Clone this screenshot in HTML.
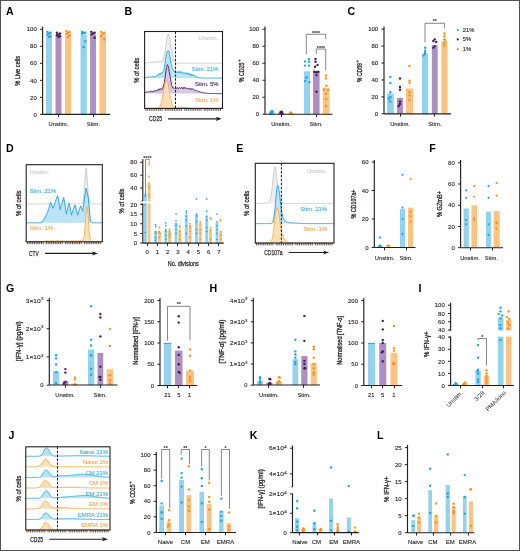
<!DOCTYPE html>
<html><head><meta charset="utf-8"><style>
html,body{margin:0;padding:0;background:#fff;width:520px;height:551px;overflow:hidden}
svg{display:block;will-change:transform}
text{font-family:"Liberation Sans",sans-serif}
</style></head><body>
<svg width="520" height="551" viewBox="0 0 520 551">
<rect x="0" y="0" width="520" height="551" fill="#fff"/>
<text x="6.1" y="15" font-size="10.6" font-weight="bold" fill="#000">A</text>
<text x="124.5" y="15" font-size="10.6" font-weight="bold" fill="#000">B</text>
<text x="347.5" y="15" font-size="10.6" font-weight="bold" fill="#000">C</text>
<text x="6.1" y="151.5" font-size="10.6" font-weight="bold" fill="#000">D</text>
<text x="236.2" y="151.5" font-size="10.6" font-weight="bold" fill="#000">E</text>
<text x="429.2" y="151.5" font-size="10.6" font-weight="bold" fill="#000">F</text>
<text x="6.1" y="292.3" font-size="10.6" font-weight="bold" fill="#000">G</text>
<text x="209.4" y="292.3" font-size="10.6" font-weight="bold" fill="#000">H</text>
<text x="418.6" y="292.3" font-size="10.6" font-weight="bold" fill="#000">I</text>
<text x="8.6" y="438.6" font-size="10.6" font-weight="bold" fill="#000">J</text>
<text x="249.8" y="438.6" font-size="10.6" font-weight="bold" fill="#000">K</text>
<text x="377" y="438.6" font-size="10.6" font-weight="bold" fill="#000">L</text>
<line x1="42.6" y1="26.6" x2="42.6" y2="114.4" stroke="#231f20" stroke-width="1.15" />
<line x1="40" y1="114.4" x2="42.6" y2="114.4" stroke="#231f20" stroke-width="1.0" />
<text x="36.8" y="116.55" font-size="6.0" text-anchor="end" fill="#231f20" font-weight="normal" stroke="#231f20" stroke-width="0.12" >0</text>
<line x1="40" y1="97.38" x2="42.6" y2="97.38" stroke="#231f20" stroke-width="1.0" />
<text x="36.8" y="99.53" font-size="6.0" text-anchor="end" fill="#231f20" font-weight="normal" stroke="#231f20" stroke-width="0.12" >20</text>
<line x1="40" y1="80.36" x2="42.6" y2="80.36" stroke="#231f20" stroke-width="1.0" />
<text x="36.8" y="82.51" font-size="6.0" text-anchor="end" fill="#231f20" font-weight="normal" stroke="#231f20" stroke-width="0.12" >40</text>
<line x1="40" y1="63.34" x2="42.6" y2="63.34" stroke="#231f20" stroke-width="1.0" />
<text x="36.8" y="65.49" font-size="6.0" text-anchor="end" fill="#231f20" font-weight="normal" stroke="#231f20" stroke-width="0.12" >60</text>
<line x1="40" y1="46.32" x2="42.6" y2="46.32" stroke="#231f20" stroke-width="1.0" />
<text x="36.8" y="48.47" font-size="6.0" text-anchor="end" fill="#231f20" font-weight="normal" stroke="#231f20" stroke-width="0.12" >80</text>
<line x1="40" y1="29.3" x2="42.6" y2="29.3" stroke="#231f20" stroke-width="1.0" />
<text x="36.8" y="31.45" font-size="6.0" text-anchor="end" fill="#231f20" font-weight="normal" stroke="#231f20" stroke-width="0.12" >100</text>
<rect x="46" y="34.41" width="6" height="79.99" fill="#93d3ee" />
<circle cx="47.4" cy="31.85" r="1.2" fill="#25a5dc"/>
<circle cx="50.6" cy="32.7" r="1.2" fill="#25a5dc"/>
<circle cx="49" cy="33.55" r="1.2" fill="#25a5dc"/>
<circle cx="47.4" cy="34.41" r="1.2" fill="#25a5dc"/>
<circle cx="50.6" cy="36.11" r="1.2" fill="#25a5dc"/>
<circle cx="49" cy="36.96" r="1.2" fill="#25a5dc"/>
<rect x="55.5" y="35.68" width="6" height="78.72" fill="#ad8fc1" />
<circle cx="56.9" cy="32.7" r="1.2" fill="#47195c"/>
<circle cx="60.1" cy="33.55" r="1.2" fill="#47195c"/>
<circle cx="58.5" cy="34.41" r="1.2" fill="#47195c"/>
<circle cx="56.9" cy="35.26" r="1.2" fill="#47195c"/>
<circle cx="60.1" cy="36.11" r="1.2" fill="#47195c"/>
<circle cx="58.5" cy="36.96" r="1.2" fill="#47195c"/>
<rect x="65" y="33.55" width="6" height="80.85" fill="#fcc383" />
<circle cx="66.4" cy="31" r="1.2" fill="#f6921e"/>
<circle cx="69.6" cy="31.85" r="1.2" fill="#f6921e"/>
<circle cx="68" cy="32.7" r="1.2" fill="#f6921e"/>
<circle cx="66.4" cy="33.55" r="1.2" fill="#f6921e"/>
<circle cx="69.6" cy="35.26" r="1.2" fill="#f6921e"/>
<circle cx="68" cy="36.96" r="1.2" fill="#f6921e"/>
<rect x="80.5" y="34.41" width="6.25" height="79.99" fill="#93d3ee" />
<circle cx="82.03" cy="31.85" r="1.2" fill="#25a5dc"/>
<circle cx="85.22" cy="32.7" r="1.2" fill="#25a5dc"/>
<circle cx="83.62" cy="32.7" r="1.2" fill="#25a5dc"/>
<circle cx="82.03" cy="33.55" r="1.2" fill="#25a5dc"/>
<circle cx="85.22" cy="41.21" r="1.2" fill="#25a5dc"/>
<circle cx="83.62" cy="47.17" r="1.2" fill="#25a5dc"/>
<rect x="90" y="34.41" width="6" height="79.99" fill="#ad8fc1" />
<circle cx="91.4" cy="31.85" r="1.2" fill="#47195c"/>
<circle cx="94.6" cy="32.7" r="1.2" fill="#47195c"/>
<circle cx="93" cy="33.55" r="1.2" fill="#47195c"/>
<circle cx="91.4" cy="34.41" r="1.2" fill="#47195c"/>
<circle cx="94.6" cy="37.81" r="1.2" fill="#47195c"/>
<rect x="99.5" y="33.55" width="6.5" height="80.85" fill="#fcc383" />
<circle cx="101.15" cy="31.85" r="1.2" fill="#f6921e"/>
<circle cx="104.35" cy="32.7" r="1.2" fill="#f6921e"/>
<circle cx="102.75" cy="33.55" r="1.2" fill="#f6921e"/>
<circle cx="101.15" cy="36.11" r="1.2" fill="#f6921e"/>
<circle cx="104.35" cy="39.51" r="1.2" fill="#f6921e"/>
<line x1="42.6" y1="114.4" x2="110" y2="114.4" stroke="#231f20" stroke-width="1.15" />
<line x1="58.5" y1="114.4" x2="58.5" y2="117.2" stroke="#231f20" stroke-width="1.0" />
<line x1="93.5" y1="114.4" x2="93.5" y2="117.2" stroke="#231f20" stroke-width="1.0" />
<text x="58.4" y="125.88" font-size="5.8" text-anchor="middle" fill="#231f20" font-weight="normal" stroke="#231f20" stroke-width="0.12" >Unstim.</text>
<text x="93.4" y="125.88" font-size="5.8" text-anchor="middle" fill="#231f20" font-weight="normal" stroke="#231f20" stroke-width="0.12" >Stim.</text>
<text x="17.7" y="73.45" font-size="7.4" text-anchor="middle" fill="#231f20" font-weight="normal" stroke="#231f20" stroke-width="0.3" transform="rotate(-90 17.7 70.8)" textLength="30" lengthAdjust="spacingAndGlyphs" >% Live cells</text>
<line x1="384" y1="26.6" x2="384" y2="113.8" stroke="#231f20" stroke-width="1.15" />
<line x1="381.4" y1="113.8" x2="384" y2="113.8" stroke="#231f20" stroke-width="1.0" />
<text x="378.2" y="115.95" font-size="6.0" text-anchor="end" fill="#231f20" font-weight="normal" stroke="#231f20" stroke-width="0.12" >0</text>
<line x1="381.4" y1="96.88" x2="384" y2="96.88" stroke="#231f20" stroke-width="1.0" />
<text x="378.2" y="99.03" font-size="6.0" text-anchor="end" fill="#231f20" font-weight="normal" stroke="#231f20" stroke-width="0.12" >20</text>
<line x1="381.4" y1="79.96" x2="384" y2="79.96" stroke="#231f20" stroke-width="1.0" />
<text x="378.2" y="82.11" font-size="6.0" text-anchor="end" fill="#231f20" font-weight="normal" stroke="#231f20" stroke-width="0.12" >40</text>
<line x1="381.4" y1="63.04" x2="384" y2="63.04" stroke="#231f20" stroke-width="1.0" />
<text x="378.2" y="65.19" font-size="6.0" text-anchor="end" fill="#231f20" font-weight="normal" stroke="#231f20" stroke-width="0.12" >60</text>
<line x1="381.4" y1="46.12" x2="384" y2="46.12" stroke="#231f20" stroke-width="1.0" />
<text x="378.2" y="48.27" font-size="6.0" text-anchor="end" fill="#231f20" font-weight="normal" stroke="#231f20" stroke-width="0.12" >80</text>
<line x1="381.4" y1="29.2" x2="384" y2="29.2" stroke="#231f20" stroke-width="1.0" />
<text x="378.2" y="31.35" font-size="6.0" text-anchor="end" fill="#231f20" font-weight="normal" stroke="#231f20" stroke-width="0.12" >100</text>
<rect x="387" y="93.5" width="6.8" height="20.3" fill="#93d3ee" />
<circle cx="390.4" cy="76.91" r="1.2" fill="#25a5dc"/>
<circle cx="390.4" cy="83.01" r="1.2" fill="#25a5dc"/>
<circle cx="390.4" cy="92.31" r="1.2" fill="#25a5dc"/>
<circle cx="390.4" cy="96.96" r="1.2" fill="#25a5dc"/>
<circle cx="389" cy="98.57" r="1.2" fill="#25a5dc"/>
<circle cx="390.4" cy="101.53" r="1.2" fill="#25a5dc"/>
<rect x="397" y="97.73" width="6" height="16.07" fill="#ad8fc1" />
<circle cx="400" cy="78.52" r="1.2" fill="#47195c"/>
<circle cx="400" cy="86.98" r="1.2" fill="#47195c"/>
<circle cx="400" cy="89.77" r="1.2" fill="#47195c"/>
<circle cx="400" cy="101.53" r="1.2" fill="#47195c"/>
<circle cx="400" cy="103.99" r="1.2" fill="#47195c"/>
<circle cx="398.6" cy="106.02" r="1.2" fill="#47195c"/>
<rect x="406" y="88.42" width="7" height="25.38" fill="#fcc383" />
<circle cx="409.5" cy="66" r="1.2" fill="#f6921e"/>
<circle cx="409.5" cy="80.64" r="1.2" fill="#f6921e"/>
<circle cx="409.5" cy="83.01" r="1.2" fill="#f6921e"/>
<circle cx="409.5" cy="92.31" r="1.2" fill="#f6921e"/>
<circle cx="409.5" cy="95.44" r="1.2" fill="#f6921e"/>
<circle cx="409.5" cy="100.01" r="1.2" fill="#f6921e"/>
<rect x="422" y="53.73" width="6.2" height="60.07" fill="#93d3ee" />
<circle cx="425.1" cy="47.81" r="1.2" fill="#25a5dc"/>
<circle cx="425.1" cy="50.77" r="1.2" fill="#25a5dc"/>
<circle cx="425.1" cy="52.89" r="1.2" fill="#25a5dc"/>
<circle cx="425.1" cy="53.73" r="1.2" fill="#25a5dc"/>
<circle cx="423.7" cy="55.43" r="1.2" fill="#25a5dc"/>
<rect x="431.8" y="45.27" width="5.9" height="68.53" fill="#ad8fc1" />
<circle cx="434.75" cy="39.35" r="1.2" fill="#47195c"/>
<circle cx="433.35" cy="41.04" r="1.2" fill="#47195c"/>
<circle cx="436.15" cy="41.89" r="1.2" fill="#47195c"/>
<circle cx="434.75" cy="46.12" r="1.2" fill="#47195c"/>
<circle cx="433.35" cy="47.81" r="1.2" fill="#47195c"/>
<rect x="441.3" y="41.04" width="6.1" height="72.76" fill="#fcc383" />
<circle cx="444.35" cy="33.43" r="1.2" fill="#f6921e"/>
<circle cx="444.35" cy="36.31" r="1.2" fill="#f6921e"/>
<circle cx="444.35" cy="39.35" r="1.2" fill="#f6921e"/>
<circle cx="445.19" cy="40.03" r="1.2" fill="#f6921e"/>
<circle cx="444.35" cy="42.99" r="1.2" fill="#f6921e"/>
<circle cx="444.35" cy="45.53" r="1.2" fill="#f6921e"/>
<line x1="384" y1="113.8" x2="451" y2="113.8" stroke="#231f20" stroke-width="1.15" />
<line x1="400.5" y1="113.8" x2="400.5" y2="116.6" stroke="#231f20" stroke-width="1.0" />
<line x1="434.5" y1="113.8" x2="434.5" y2="116.6" stroke="#231f20" stroke-width="1.0" />
<text x="400" y="125.88" font-size="5.8" text-anchor="middle" fill="#231f20" font-weight="normal" stroke="#231f20" stroke-width="0.12" >Unstim.</text>
<text x="434.8" y="125.88" font-size="5.8" text-anchor="middle" fill="#231f20" font-weight="normal" stroke="#231f20" stroke-width="0.12" >Stim.</text>
<polyline points="425,42.4 425,23.3 444.5,23.3 444.5,27.9" stroke="#555" stroke-width="0.7" fill="none" />
<text x="434.75" y="23.05" font-size="5.4" text-anchor="middle" font-weight="bold" fill="#231f20">**</text>
<circle cx="457.8" cy="29.8" r="1.1" fill="#25a5dc"/>
<text x="462.8" y="31.88" font-size="5.8" text-anchor="start" fill="#231f20" font-weight="normal" stroke="#231f20" stroke-width="0.12" >21%</text>
<circle cx="457.8" cy="39.4" r="1.1" fill="#47195c"/>
<text x="462.8" y="41.48" font-size="5.8" text-anchor="start" fill="#231f20" font-weight="normal" stroke="#231f20" stroke-width="0.12" >5%</text>
<circle cx="457.8" cy="49.2" r="1.1" fill="#f6921e"/>
<text x="462.8" y="51.28" font-size="5.8" text-anchor="start" fill="#231f20" font-weight="normal" stroke="#231f20" stroke-width="0.12" >1%</text>
<text x="359.6" y="75.35" font-size="7.4" text-anchor="middle" fill="#231f20" font-weight="normal" stroke="#231f20" stroke-width="0.3" transform="rotate(-90 359.6 72.7)" textLength="19.3" lengthAdjust="spacingAndGlyphs" >% CD69</text>
<text x="357.4" y="62.8" font-size="4.6" text-anchor="middle" fill="#231f20" font-weight="normal" stroke="#231f20" stroke-width="0.2" transform="rotate(-90 357.4 61.15)" >+</text>
<line x1="265" y1="26.6" x2="265" y2="114.25" stroke="#231f20" stroke-width="1.15" />
<line x1="262.4" y1="114.25" x2="265" y2="114.25" stroke="#231f20" stroke-width="1.0" />
<text x="259.2" y="116.4" font-size="6.0" text-anchor="end" fill="#231f20" font-weight="normal" stroke="#231f20" stroke-width="0.12" >0</text>
<line x1="262.4" y1="97.25" x2="265" y2="97.25" stroke="#231f20" stroke-width="1.0" />
<text x="259.2" y="99.4" font-size="6.0" text-anchor="end" fill="#231f20" font-weight="normal" stroke="#231f20" stroke-width="0.12" >20</text>
<line x1="262.4" y1="80.25" x2="265" y2="80.25" stroke="#231f20" stroke-width="1.0" />
<text x="259.2" y="82.4" font-size="6.0" text-anchor="end" fill="#231f20" font-weight="normal" stroke="#231f20" stroke-width="0.12" >40</text>
<line x1="262.4" y1="63.25" x2="265" y2="63.25" stroke="#231f20" stroke-width="1.0" />
<text x="259.2" y="65.4" font-size="6.0" text-anchor="end" fill="#231f20" font-weight="normal" stroke="#231f20" stroke-width="0.12" >60</text>
<line x1="262.4" y1="46.25" x2="265" y2="46.25" stroke="#231f20" stroke-width="1.0" />
<text x="259.2" y="48.4" font-size="6.0" text-anchor="end" fill="#231f20" font-weight="normal" stroke="#231f20" stroke-width="0.12" >80</text>
<line x1="262.4" y1="29.25" x2="265" y2="29.25" stroke="#231f20" stroke-width="1.0" />
<text x="259.2" y="31.4" font-size="6.0" text-anchor="end" fill="#231f20" font-weight="normal" stroke="#231f20" stroke-width="0.12" >100</text>
<rect x="268.75" y="112.55" width="6.25" height="1.7" fill="#93d3ee" />
<circle cx="271.88" cy="110.85" r="1.2" fill="#25a5dc"/>
<circle cx="272.71" cy="111.7" r="1.2" fill="#25a5dc"/>
<circle cx="270.48" cy="112.55" r="1.2" fill="#25a5dc"/>
<circle cx="271.88" cy="112.97" r="1.2" fill="#25a5dc"/>
<circle cx="271.04" cy="113.4" r="1.2" fill="#25a5dc"/>
<rect x="278" y="112.97" width="6.5" height="1.28" fill="#ad8fc1" />
<circle cx="281.25" cy="111.7" r="1.2" fill="#47195c"/>
<circle cx="282.09" cy="112.12" r="1.2" fill="#47195c"/>
<circle cx="280.41" cy="112.55" r="1.2" fill="#47195c"/>
<circle cx="282.09" cy="113.4" r="1.2" fill="#47195c"/>
<circle cx="282.09" cy="113.4" r="1.2" fill="#47195c"/>
<rect x="287.5" y="113.4" width="6.25" height="0.85" fill="#fcc383" />
<circle cx="290.62" cy="112.55" r="1.2" fill="#f6921e"/>
<circle cx="290.62" cy="112.97" r="1.2" fill="#f6921e"/>
<circle cx="291.46" cy="113.4" r="1.2" fill="#f6921e"/>
<circle cx="290.62" cy="113.83" r="1.2" fill="#f6921e"/>
<rect x="304" y="71.3" width="6" height="42.95" fill="#93d3ee" />
<rect x="313" y="71.3" width="6.6" height="42.95" fill="#ad8fc1" />
<rect x="322.9" y="87.7" width="6.5" height="26.55" fill="#fcc383" />
<circle cx="308.8" cy="59" r="1.2" fill="#25a5dc"/>
<circle cx="305" cy="61.4" r="1.2" fill="#25a5dc"/>
<circle cx="309" cy="61.6" r="1.2" fill="#25a5dc"/>
<circle cx="305" cy="65.6" r="1.2" fill="#25a5dc"/>
<circle cx="309" cy="65.6" r="1.2" fill="#25a5dc"/>
<circle cx="306.5" cy="77.5" r="1.2" fill="#25a5dc"/>
<circle cx="305" cy="80.9" r="1.2" fill="#25a5dc"/>
<circle cx="309.5" cy="82.1" r="1.2" fill="#25a5dc"/>
<circle cx="315.5" cy="59" r="1.2" fill="#47195c"/>
<circle cx="315.5" cy="61.7" r="1.2" fill="#47195c"/>
<circle cx="317.5" cy="65" r="1.2" fill="#47195c"/>
<circle cx="315" cy="66.8" r="1.2" fill="#47195c"/>
<circle cx="314.3" cy="71.8" r="1.2" fill="#47195c"/>
<circle cx="316.3" cy="72.2" r="1.2" fill="#47195c"/>
<circle cx="318.3" cy="71.8" r="1.2" fill="#47195c"/>
<circle cx="316.5" cy="75.1" r="1.2" fill="#47195c"/>
<circle cx="316.5" cy="91.7" r="1.2" fill="#47195c"/>
<circle cx="326" cy="75.4" r="1.2" fill="#f6921e"/>
<circle cx="326" cy="78.5" r="1.2" fill="#f6921e"/>
<circle cx="326.5" cy="85.7" r="1.2" fill="#f6921e"/>
<circle cx="323.8" cy="89.5" r="1.2" fill="#f6921e"/>
<circle cx="328" cy="90.1" r="1.2" fill="#f6921e"/>
<circle cx="326" cy="93.7" r="1.2" fill="#f6921e"/>
<circle cx="326" cy="98.9" r="1.2" fill="#f6921e"/>
<circle cx="326" cy="106" r="1.2" fill="#f6921e"/>
<line x1="265" y1="114.25" x2="332.5" y2="114.25" stroke="#231f20" stroke-width="1.15" />
<line x1="281.5" y1="114.25" x2="281.5" y2="117.05" stroke="#231f20" stroke-width="1.0" />
<line x1="316.5" y1="114.25" x2="316.5" y2="117.05" stroke="#231f20" stroke-width="1.0" />
<text x="281" y="125.88" font-size="5.8" text-anchor="middle" fill="#231f20" font-weight="normal" stroke="#231f20" stroke-width="0.12" >Unstim.</text>
<text x="316" y="125.88" font-size="5.8" text-anchor="middle" fill="#231f20" font-weight="normal" stroke="#231f20" stroke-width="0.12" >Stim.</text>
<polyline points="306.3,54 306.3,34.3 325.7,34.3 325.7,39.1" stroke="#555" stroke-width="0.7" fill="none" />
<text x="316" y="34.95" font-size="5.4" text-anchor="middle" font-weight="bold" fill="#231f20">****</text>
<polyline points="316.3,54 316.3,49 325.7,49 325.7,70.4" stroke="#555" stroke-width="0.7" fill="none" />
<text x="321" y="49.55" font-size="5.4" text-anchor="middle" font-weight="bold" fill="#231f20">****</text>
<text x="241.6" y="75.05" font-size="7.4" text-anchor="middle" fill="#231f20" font-weight="normal" stroke="#231f20" stroke-width="0.3" transform="rotate(-90 241.6 72.4)" textLength="19.8" lengthAdjust="spacingAndGlyphs" >% CD25</text>
<text x="239.4" y="62.25" font-size="4.6" text-anchor="middle" fill="#231f20" font-weight="normal" stroke="#231f20" stroke-width="0.2" transform="rotate(-90 239.4 60.6)" >+</text>
<rect x="144.6" y="31.5" width="77.9" height="76.9" fill="#fff" />
<path d="M144.6,63.2 L144.6,62.95 L145.2,62.88 L145.8,62.84 L146.4,62.77 L147,62.74 L147.6,62.62 L148.2,62.57 L148.79,62.51 L149.39,62.46 L149.99,62.34 L150.59,62.36 L151.19,62.31 L151.79,62.11 L152.39,62.12 L152.99,62.11 L153.59,61.87 L154.19,61.91 L154.79,61.64 L155.39,61.78 L155.99,61.52 L156.58,61.45 L157.18,61.58 L157.78,61.48 L158.38,61.42 L158.98,61.61 L159.58,61.57 L160.18,61.72 L160.78,61.66 L161.38,61.6 L161.98,61.17 L162.58,60.83 L163.18,59.61 L163.78,57.98 L164.37,55.17 L164.97,51.91 L165.57,47.69 L166.17,43.35 L166.77,39.28 L167.37,36.32 L167.97,34.33 L168.57,34.36 L169.17,35.71 L169.77,38.29 L170.37,41.76 L170.97,45.52 L171.57,49.08 L172.16,53.06 L172.76,55.94 L173.36,58.17 L173.96,59.9 L174.56,61.17 L175.16,62.09 L175.76,62.56 L176.36,62.86 L176.96,63.03 L177.56,63.12 L178.16,63.16 L178.76,63.18 L179.36,63.19 L179.95,63.2 L180.55,63.2 L181.15,63.2 L181.75,63.2 L182.35,63.2 L182.95,63.2 L183.55,63.2 L184.15,63.2 L184.75,63.2 L185.35,63.2 L185.95,63.2 L186.55,63.2 L187.15,63.2 L187.74,63.2 L188.34,63.2 L188.94,63.2 L189.54,63.2 L190.14,63.2 L190.74,63.2 L191.34,63.2 L191.94,63.2 L192.54,63.2 L193.14,63.2 L193.74,63.2 L194.34,63.2 L194.94,63.2 L195.53,63.2 L196.13,63.2 L196.73,63.2 L197.33,63.2 L197.93,63.2 L198.53,63.2 L199.13,63.2 L199.73,63.2 L200.33,63.2 L200.93,63.2 L201.53,63.2 L202.13,63.2 L202.73,63.2 L203.32,63.2 L203.92,63.2 L204.52,63.2 L205.12,63.2 L205.72,63.2 L206.32,63.2 L206.92,63.2 L207.52,63.2 L208.12,63.2 L208.72,63.2 L209.32,63.2 L209.92,63.2 L210.52,63.2 L211.11,63.2 L211.71,63.2 L212.31,63.2 L212.91,63.2 L213.51,63.2 L214.11,63.2 L214.71,63.2 L215.31,63.2 L215.91,63.2 L216.51,63.2 L217.11,63.2 L217.71,63.2 L218.31,63.2 L218.9,63.2 L219.5,63.2 L220.1,63.2 L220.7,63.2 L221.3,63.2 L221.9,63.2 L222.5,63.2 L222.5,63.2 Z" fill="#eeeeee" fill-opacity="1" stroke="none"/>
<path d="M144.6,62.95 L145.2,62.88 L145.8,62.84 L146.4,62.77 L147,62.74 L147.6,62.62 L148.2,62.57 L148.79,62.51 L149.39,62.46 L149.99,62.34 L150.59,62.36 L151.19,62.31 L151.79,62.11 L152.39,62.12 L152.99,62.11 L153.59,61.87 L154.19,61.91 L154.79,61.64 L155.39,61.78 L155.99,61.52 L156.58,61.45 L157.18,61.58 L157.78,61.48 L158.38,61.42 L158.98,61.61 L159.58,61.57 L160.18,61.72 L160.78,61.66 L161.38,61.6 L161.98,61.17 L162.58,60.83 L163.18,59.61 L163.78,57.98 L164.37,55.17 L164.97,51.91 L165.57,47.69 L166.17,43.35 L166.77,39.28 L167.37,36.32 L167.97,34.33 L168.57,34.36 L169.17,35.71 L169.77,38.29 L170.37,41.76 L170.97,45.52 L171.57,49.08 L172.16,53.06 L172.76,55.94 L173.36,58.17 L173.96,59.9 L174.56,61.17 L175.16,62.09 L175.76,62.56 L176.36,62.86 L176.96,63.03 L177.56,63.12 L178.16,63.16 L178.76,63.18 L179.36,63.19 L179.95,63.2 L180.55,63.2 L181.15,63.2 L181.75,63.2 L182.35,63.2 L182.95,63.2 L183.55,63.2 L184.15,63.2 L184.75,63.2 L185.35,63.2 L185.95,63.2 L186.55,63.2 L187.15,63.2 L187.74,63.2 L188.34,63.2 L188.94,63.2 L189.54,63.2 L190.14,63.2 L190.74,63.2 L191.34,63.2 L191.94,63.2 L192.54,63.2 L193.14,63.2 L193.74,63.2 L194.34,63.2 L194.94,63.2 L195.53,63.2 L196.13,63.2 L196.73,63.2 L197.33,63.2 L197.93,63.2 L198.53,63.2 L199.13,63.2 L199.73,63.2 L200.33,63.2 L200.93,63.2 L201.53,63.2 L202.13,63.2 L202.73,63.2 L203.32,63.2 L203.92,63.2 L204.52,63.2 L205.12,63.2 L205.72,63.2 L206.32,63.2 L206.92,63.2 L207.52,63.2 L208.12,63.2 L208.72,63.2 L209.32,63.2 L209.92,63.2 L210.52,63.2 L211.11,63.2 L211.71,63.2 L212.31,63.2 L212.91,63.2 L213.51,63.2 L214.11,63.2 L214.71,63.2 L215.31,63.2 L215.91,63.2 L216.51,63.2 L217.11,63.2 L217.71,63.2 L218.31,63.2 L218.9,63.2 L219.5,63.2 L220.1,63.2 L220.7,63.2 L221.3,63.2 L221.9,63.2 L222.5,63.2" fill="none" stroke="#c4c4c4" stroke-width="0.8" stroke-linejoin="round"/>
<path d="M144.6,78.1 L144.6,77.79 L145.05,77.6 L145.5,77.54 L145.94,77.35 L146.39,77.55 L146.84,77.55 L147.29,77.34 L147.73,77.19 L148.18,77.21 L148.63,77.23 L149.08,77.35 L149.52,76.77 L149.97,77.3 L150.42,76.99 L150.87,76.97 L151.32,77.16 L151.76,76.77 L152.21,76.63 L152.66,76.9 L153.11,76.71 L153.55,76.71 L154,76.36 L154.45,76.84 L154.9,76.81 L155.34,76.91 L155.79,76.84 L156.24,76.6 L156.69,75.88 L157.14,75.03 L157.58,74.66 L158.03,75.5 L158.48,75.26 L158.93,74.21 L159.37,73.41 L159.82,74.33 L160.27,74.08 L160.72,74.3 L161.16,72.82 L161.61,73.5 L162.06,72.34 L162.51,72.79 L162.96,71.27 L163.4,70.62 L163.85,70.27 L164.3,66.86 L164.75,64.84 L165.19,63.12 L165.64,59.54 L166.09,56.44 L166.54,53.36 L166.99,52.1 L167.43,51.06 L167.88,50.54 L168.33,50.88 L168.78,51.18 L169.22,52.54 L169.67,55.91 L170.12,58.22 L170.57,60.32 L171.01,63.53 L171.46,64.8 L171.91,67.21 L172.36,68.7 L172.81,68.87 L173.25,70.3 L173.7,71.51 L174.15,71.53 L174.6,71.6 L175.04,71.08 L175.49,72.83 L175.94,72.22 L176.39,71.76 L176.83,72.35 L177.28,71.8 L177.73,72.58 L178.18,72.58 L178.63,71.58 L179.07,71.48 L179.52,72.58 L179.97,71.7 L180.42,73 L180.86,71.81 L181.31,71.61 L181.76,72.22 L182.21,73.31 L182.65,72.73 L183.1,72.55 L183.55,73.33 L184,73.31 L184.45,72.77 L184.89,72.9 L185.34,73.97 L185.79,73.15 L186.24,72.6 L186.68,73.17 L187.13,74.07 L187.58,73.1 L188.03,72.92 L188.47,74.61 L188.92,73.53 L189.37,74.59 L189.82,74.09 L190.27,74.76 L190.71,73.98 L191.16,75.5 L191.61,74 L192.06,75.34 L192.5,74.6 L192.95,75.25 L193.4,75.01 L193.85,75.98 L194.29,75.53 L194.74,76.63 L195.19,76.2 L195.64,76.42 L196.09,76.74 L196.53,76.82 L196.98,76.75 L197.43,77.14 L197.88,77.18 L198.32,77.46 L198.77,77.45 L199.22,77.72 L199.67,77.68 L200.11,77.79 L200.56,77.79 L201.01,77.84 L201.46,77.89 L201.91,77.93 L202.35,77.96 L202.8,77.99 L203.25,78.01 L203.7,78.03 L204.14,78.05 L204.59,78.06 L205.04,78.07 L205.49,78.07 L205.94,78.08 L206.38,78.09 L206.83,78.09 L207.28,78.09 L207.73,78.09 L208.17,78.1 L208.62,78.1 L209.07,78.1 L209.52,78.1 L209.96,78.1 L210.41,78.1 L210.86,78.1 L211.31,78.1 L211.76,78.1 L212.2,78.1 L212.65,78.1 L213.1,78.1 L213.55,78.1 L213.99,78.1 L214.44,78.1 L214.89,78.1 L215.34,78.1 L215.78,78.1 L216.23,78.1 L216.68,78.1 L217.13,78.1 L217.58,78.1 L218.02,78.1 L218.47,78.1 L218.92,78.1 L219.37,78.1 L219.81,78.1 L220.26,78.1 L220.71,78.1 L221.16,78.1 L221.6,78.1 L222.05,78.1 L222.5,78.1 L222.5,78.1 Z" fill="#bde4f6" fill-opacity="1" stroke="none"/>
<path d="M144.6,77.79 L145.05,77.6 L145.5,77.54 L145.94,77.35 L146.39,77.55 L146.84,77.55 L147.29,77.34 L147.73,77.19 L148.18,77.21 L148.63,77.23 L149.08,77.35 L149.52,76.77 L149.97,77.3 L150.42,76.99 L150.87,76.97 L151.32,77.16 L151.76,76.77 L152.21,76.63 L152.66,76.9 L153.11,76.71 L153.55,76.71 L154,76.36 L154.45,76.84 L154.9,76.81 L155.34,76.91 L155.79,76.84 L156.24,76.6 L156.69,75.88 L157.14,75.03 L157.58,74.66 L158.03,75.5 L158.48,75.26 L158.93,74.21 L159.37,73.41 L159.82,74.33 L160.27,74.08 L160.72,74.3 L161.16,72.82 L161.61,73.5 L162.06,72.34 L162.51,72.79 L162.96,71.27 L163.4,70.62 L163.85,70.27 L164.3,66.86 L164.75,64.84 L165.19,63.12 L165.64,59.54 L166.09,56.44 L166.54,53.36 L166.99,52.1 L167.43,51.06 L167.88,50.54 L168.33,50.88 L168.78,51.18 L169.22,52.54 L169.67,55.91 L170.12,58.22 L170.57,60.32 L171.01,63.53 L171.46,64.8 L171.91,67.21 L172.36,68.7 L172.81,68.87 L173.25,70.3 L173.7,71.51 L174.15,71.53 L174.6,71.6 L175.04,71.08 L175.49,72.83 L175.94,72.22 L176.39,71.76 L176.83,72.35 L177.28,71.8 L177.73,72.58 L178.18,72.58 L178.63,71.58 L179.07,71.48 L179.52,72.58 L179.97,71.7 L180.42,73 L180.86,71.81 L181.31,71.61 L181.76,72.22 L182.21,73.31 L182.65,72.73 L183.1,72.55 L183.55,73.33 L184,73.31 L184.45,72.77 L184.89,72.9 L185.34,73.97 L185.79,73.15 L186.24,72.6 L186.68,73.17 L187.13,74.07 L187.58,73.1 L188.03,72.92 L188.47,74.61 L188.92,73.53 L189.37,74.59 L189.82,74.09 L190.27,74.76 L190.71,73.98 L191.16,75.5 L191.61,74 L192.06,75.34 L192.5,74.6 L192.95,75.25 L193.4,75.01 L193.85,75.98 L194.29,75.53 L194.74,76.63 L195.19,76.2 L195.64,76.42 L196.09,76.74 L196.53,76.82 L196.98,76.75 L197.43,77.14 L197.88,77.18 L198.32,77.46 L198.77,77.45 L199.22,77.72 L199.67,77.68 L200.11,77.79 L200.56,77.79 L201.01,77.84 L201.46,77.89 L201.91,77.93 L202.35,77.96 L202.8,77.99 L203.25,78.01 L203.7,78.03 L204.14,78.05 L204.59,78.06 L205.04,78.07 L205.49,78.07 L205.94,78.08 L206.38,78.09 L206.83,78.09 L207.28,78.09 L207.73,78.09 L208.17,78.1 L208.62,78.1 L209.07,78.1 L209.52,78.1 L209.96,78.1 L210.41,78.1 L210.86,78.1 L211.31,78.1 L211.76,78.1 L212.2,78.1 L212.65,78.1 L213.1,78.1 L213.55,78.1 L213.99,78.1 L214.44,78.1 L214.89,78.1 L215.34,78.1 L215.78,78.1 L216.23,78.1 L216.68,78.1 L217.13,78.1 L217.58,78.1 L218.02,78.1 L218.47,78.1 L218.92,78.1 L219.37,78.1 L219.81,78.1 L220.26,78.1 L220.71,78.1 L221.16,78.1 L221.6,78.1 L222.05,78.1 L222.5,78.1" fill="none" stroke="#2aa5de" stroke-width="0.95" stroke-linejoin="round"/>
<path d="M144.6,93.6 L144.6,92.42 L145.05,92.43 L145.5,92.4 L145.94,92.29 L146.39,91.94 L146.84,92.02 L147.29,92.42 L147.73,92.06 L148.18,91.76 L148.63,91.7 L149.08,91.46 L149.52,91.75 L149.97,91.4 L150.42,91.37 L150.87,91.32 L151.32,91.16 L151.76,91.92 L152.21,91.75 L152.66,91.91 L153.11,91.05 L153.55,91.26 L154,91.51 L154.45,90.6 L154.9,91 L155.34,91.36 L155.79,90.61 L156.24,90.94 L156.69,90.21 L157.14,90.4 L157.58,90.53 L158.03,89.64 L158.48,90.17 L158.93,88.85 L159.37,89.88 L159.82,89.81 L160.27,88.59 L160.72,89.16 L161.16,88.72 L161.61,89.65 L162.06,89.16 L162.51,88.82 L162.96,86.96 L163.4,86.84 L163.85,84.98 L164.3,82.71 L164.75,79.13 L165.19,77.11 L165.64,72.76 L166.09,70.28 L166.54,67.55 L166.99,65.97 L167.43,64.68 L167.88,65.66 L168.33,66.31 L168.78,68.38 L169.22,71.54 L169.67,73.97 L170.12,76.14 L170.57,78.81 L171.01,81.34 L171.46,84.38 L171.91,85.96 L172.36,86.54 L172.81,87.99 L173.25,87.57 L173.7,88.17 L174.15,88.37 L174.6,88.89 L175.04,89 L175.49,88.52 L175.94,88.46 L176.39,88.51 L176.83,88.5 L177.28,87.42 L177.73,88.15 L178.18,88.52 L178.63,88.66 L179.07,87.62 L179.52,87.49 L179.97,87.79 L180.42,88.51 L180.86,87.92 L181.31,87.66 L181.76,87.82 L182.21,87.69 L182.65,88.54 L183.1,87.38 L183.55,88.57 L184,87.8 L184.45,87.65 L184.89,88.31 L185.34,87.46 L185.79,88.25 L186.24,88.86 L186.68,88.63 L187.13,88.62 L187.58,88.23 L188.03,88 L188.47,88.88 L188.92,89.09 L189.37,89.31 L189.82,88.98 L190.27,88.17 L190.71,88.85 L191.16,88.52 L191.61,89.68 L192.06,89 L192.5,88.77 L192.95,89.19 L193.4,89.16 L193.85,89.75 L194.29,90.11 L194.74,90.63 L195.19,90.49 L195.64,90.35 L196.09,90.11 L196.53,90.41 L196.98,90.9 L197.43,91.34 L197.88,91.3 L198.32,91.3 L198.77,91.42 L199.22,91.49 L199.67,91.88 L200.11,91.66 L200.56,92.17 L201.01,91.95 L201.46,92.59 L201.91,92.63 L202.35,92.54 L202.8,92.54 L203.25,92.82 L203.7,92.89 L204.14,93.04 L204.59,92.83 L205.04,93.03 L205.49,93.11 L205.94,93.22 L206.38,93.22 L206.83,93.33 L207.28,93.32 L207.73,93.35 L208.17,93.39 L208.62,93.42 L209.07,93.44 L209.52,93.47 L209.96,93.49 L210.41,93.5 L210.86,93.52 L211.31,93.53 L211.76,93.54 L212.2,93.55 L212.65,93.56 L213.1,93.57 L213.55,93.57 L213.99,93.58 L214.44,93.58 L214.89,93.59 L215.34,93.59 L215.78,93.59 L216.23,93.59 L216.68,93.59 L217.13,93.6 L217.58,93.6 L218.02,93.6 L218.47,93.6 L218.92,93.6 L219.37,93.6 L219.81,93.6 L220.26,93.6 L220.71,93.6 L221.16,93.6 L221.6,93.6 L222.05,93.6 L222.5,93.6 L222.5,93.6 Z" fill="#d6c8e2" fill-opacity="1" stroke="none"/>
<path d="M144.6,92.42 L145.05,92.43 L145.5,92.4 L145.94,92.29 L146.39,91.94 L146.84,92.02 L147.29,92.42 L147.73,92.06 L148.18,91.76 L148.63,91.7 L149.08,91.46 L149.52,91.75 L149.97,91.4 L150.42,91.37 L150.87,91.32 L151.32,91.16 L151.76,91.92 L152.21,91.75 L152.66,91.91 L153.11,91.05 L153.55,91.26 L154,91.51 L154.45,90.6 L154.9,91 L155.34,91.36 L155.79,90.61 L156.24,90.94 L156.69,90.21 L157.14,90.4 L157.58,90.53 L158.03,89.64 L158.48,90.17 L158.93,88.85 L159.37,89.88 L159.82,89.81 L160.27,88.59 L160.72,89.16 L161.16,88.72 L161.61,89.65 L162.06,89.16 L162.51,88.82 L162.96,86.96 L163.4,86.84 L163.85,84.98 L164.3,82.71 L164.75,79.13 L165.19,77.11 L165.64,72.76 L166.09,70.28 L166.54,67.55 L166.99,65.97 L167.43,64.68 L167.88,65.66 L168.33,66.31 L168.78,68.38 L169.22,71.54 L169.67,73.97 L170.12,76.14 L170.57,78.81 L171.01,81.34 L171.46,84.38 L171.91,85.96 L172.36,86.54 L172.81,87.99 L173.25,87.57 L173.7,88.17 L174.15,88.37 L174.6,88.89 L175.04,89 L175.49,88.52 L175.94,88.46 L176.39,88.51 L176.83,88.5 L177.28,87.42 L177.73,88.15 L178.18,88.52 L178.63,88.66 L179.07,87.62 L179.52,87.49 L179.97,87.79 L180.42,88.51 L180.86,87.92 L181.31,87.66 L181.76,87.82 L182.21,87.69 L182.65,88.54 L183.1,87.38 L183.55,88.57 L184,87.8 L184.45,87.65 L184.89,88.31 L185.34,87.46 L185.79,88.25 L186.24,88.86 L186.68,88.63 L187.13,88.62 L187.58,88.23 L188.03,88 L188.47,88.88 L188.92,89.09 L189.37,89.31 L189.82,88.98 L190.27,88.17 L190.71,88.85 L191.16,88.52 L191.61,89.68 L192.06,89 L192.5,88.77 L192.95,89.19 L193.4,89.16 L193.85,89.75 L194.29,90.11 L194.74,90.63 L195.19,90.49 L195.64,90.35 L196.09,90.11 L196.53,90.41 L196.98,90.9 L197.43,91.34 L197.88,91.3 L198.32,91.3 L198.77,91.42 L199.22,91.49 L199.67,91.88 L200.11,91.66 L200.56,92.17 L201.01,91.95 L201.46,92.59 L201.91,92.63 L202.35,92.54 L202.8,92.54 L203.25,92.82 L203.7,92.89 L204.14,93.04 L204.59,92.83 L205.04,93.03 L205.49,93.11 L205.94,93.22 L206.38,93.22 L206.83,93.33 L207.28,93.32 L207.73,93.35 L208.17,93.39 L208.62,93.42 L209.07,93.44 L209.52,93.47 L209.96,93.49 L210.41,93.5 L210.86,93.52 L211.31,93.53 L211.76,93.54 L212.2,93.55 L212.65,93.56 L213.1,93.57 L213.55,93.57 L213.99,93.58 L214.44,93.58 L214.89,93.59 L215.34,93.59 L215.78,93.59 L216.23,93.59 L216.68,93.59 L217.13,93.6 L217.58,93.6 L218.02,93.6 L218.47,93.6 L218.92,93.6 L219.37,93.6 L219.81,93.6 L220.26,93.6 L220.71,93.6 L221.16,93.6 L221.6,93.6 L222.05,93.6 L222.5,93.6" fill="none" stroke="#4d2163" stroke-width="0.95" stroke-linejoin="round"/>
<path d="M144.6,108.4 L144.6,108.4 L145.2,108.4 L145.8,108.4 L146.4,108.4 L147,108.4 L147.6,108.4 L148.2,108.4 L148.79,108.4 L149.39,108.4 L149.99,108.4 L150.59,108.4 L151.19,108.4 L151.79,108.4 L152.39,108.4 L152.99,108.4 L153.59,108.4 L154.19,108.4 L154.79,108.39 L155.39,108.38 L155.99,108.36 L156.58,108.32 L157.18,108.24 L157.78,108.09 L158.38,107.83 L158.98,107.34 L159.58,106.86 L160.18,105.98 L160.78,104.04 L161.38,102.34 L161.98,100.01 L162.58,96.91 L163.18,93.41 L163.78,90.28 L164.37,86.63 L164.97,83.41 L165.57,81.38 L166.17,79.9 L166.77,80.2 L167.37,81.49 L167.97,83.39 L168.57,86.57 L169.17,90.07 L169.77,94.05 L170.37,97.37 L170.97,100.33 L171.57,102.53 L172.16,104.51 L172.76,106.1 L173.36,106.83 L173.96,107.26 L174.56,107.69 L175.16,107.78 L175.76,107.82 L176.36,107.77 L176.96,107.67 L177.56,107.64 L178.16,107.5 L178.76,107.54 L179.36,107.34 L179.95,107.39 L180.55,107.26 L181.15,107.12 L181.75,107.12 L182.35,107.19 L182.95,107.16 L183.55,107.23 L184.15,107.25 L184.75,107.39 L185.35,107.47 L185.95,107.5 L186.55,107.62 L187.15,107.8 L187.74,107.89 L188.34,107.93 L188.94,108.06 L189.54,108.11 L190.14,108.17 L190.74,108.22 L191.34,108.26 L191.94,108.3 L192.54,108.32 L193.14,108.34 L193.74,108.36 L194.34,108.37 L194.94,108.38 L195.53,108.39 L196.13,108.39 L196.73,108.39 L197.33,108.4 L197.93,108.4 L198.53,108.4 L199.13,108.4 L199.73,108.4 L200.33,108.4 L200.93,108.4 L201.53,108.4 L202.13,108.4 L202.73,108.4 L203.32,108.4 L203.92,108.4 L204.52,108.4 L205.12,108.4 L205.72,108.4 L206.32,108.4 L206.92,108.4 L207.52,108.4 L208.12,108.4 L208.72,108.4 L209.32,108.4 L209.92,108.4 L210.52,108.4 L211.11,108.4 L211.71,108.4 L212.31,108.4 L212.91,108.4 L213.51,108.4 L214.11,108.4 L214.71,108.4 L215.31,108.4 L215.91,108.4 L216.51,108.4 L217.11,108.4 L217.71,108.4 L218.31,108.4 L218.9,108.4 L219.5,108.4 L220.1,108.4 L220.7,108.4 L221.3,108.4 L221.9,108.4 L222.5,108.4 L222.5,108.4 Z" fill="#fde0b6" fill-opacity="1" stroke="none"/>
<path d="M144.6,108.4 L145.2,108.4 L145.8,108.4 L146.4,108.4 L147,108.4 L147.6,108.4 L148.2,108.4 L148.79,108.4 L149.39,108.4 L149.99,108.4 L150.59,108.4 L151.19,108.4 L151.79,108.4 L152.39,108.4 L152.99,108.4 L153.59,108.4 L154.19,108.4 L154.79,108.39 L155.39,108.38 L155.99,108.36 L156.58,108.32 L157.18,108.24 L157.78,108.09 L158.38,107.83 L158.98,107.34 L159.58,106.86 L160.18,105.98 L160.78,104.04 L161.38,102.34 L161.98,100.01 L162.58,96.91 L163.18,93.41 L163.78,90.28 L164.37,86.63 L164.97,83.41 L165.57,81.38 L166.17,79.9 L166.77,80.2 L167.37,81.49 L167.97,83.39 L168.57,86.57 L169.17,90.07 L169.77,94.05 L170.37,97.37 L170.97,100.33 L171.57,102.53 L172.16,104.51 L172.76,106.1 L173.36,106.83 L173.96,107.26 L174.56,107.69 L175.16,107.78 L175.76,107.82 L176.36,107.77 L176.96,107.67 L177.56,107.64 L178.16,107.5 L178.76,107.54 L179.36,107.34 L179.95,107.39 L180.55,107.26 L181.15,107.12 L181.75,107.12 L182.35,107.19 L182.95,107.16 L183.55,107.23 L184.15,107.25 L184.75,107.39 L185.35,107.47 L185.95,107.5 L186.55,107.62 L187.15,107.8 L187.74,107.89 L188.34,107.93 L188.94,108.06 L189.54,108.11 L190.14,108.17 L190.74,108.22 L191.34,108.26 L191.94,108.3 L192.54,108.32 L193.14,108.34 L193.74,108.36 L194.34,108.37 L194.94,108.38 L195.53,108.39 L196.13,108.39 L196.73,108.39 L197.33,108.4 L197.93,108.4 L198.53,108.4 L199.13,108.4 L199.73,108.4 L200.33,108.4 L200.93,108.4 L201.53,108.4 L202.13,108.4 L202.73,108.4 L203.32,108.4 L203.92,108.4 L204.52,108.4 L205.12,108.4 L205.72,108.4 L206.32,108.4 L206.92,108.4 L207.52,108.4 L208.12,108.4 L208.72,108.4 L209.32,108.4 L209.92,108.4 L210.52,108.4 L211.11,108.4 L211.71,108.4 L212.31,108.4 L212.91,108.4 L213.51,108.4 L214.11,108.4 L214.71,108.4 L215.31,108.4 L215.91,108.4 L216.51,108.4 L217.11,108.4 L217.71,108.4 L218.31,108.4 L218.9,108.4 L219.5,108.4 L220.1,108.4 L220.7,108.4 L221.3,108.4 L221.9,108.4 L222.5,108.4" fill="none" stroke="#f7a43f" stroke-width="0.75" stroke-linejoin="round"/>
<line x1="175.5" y1="31.5" x2="175.5" y2="108.4" stroke="#231f20" stroke-width="1.05" stroke-dasharray="2.4,1.5"/>
<rect x="144.6" y="31.5" width="77.9" height="76.9" fill="none" stroke="#231f20" stroke-width="1.1"/>
<line x1="145.8" y1="108.4" x2="145.8" y2="110.8" stroke="#231f20" stroke-width="0.75" />
<line x1="147.61" y1="108.4" x2="147.61" y2="110.8" stroke="#231f20" stroke-width="0.75" />
<line x1="149.42" y1="108.4" x2="149.42" y2="110.8" stroke="#231f20" stroke-width="0.75" />
<line x1="151.22" y1="108.4" x2="151.22" y2="110.8" stroke="#231f20" stroke-width="0.75" />
<line x1="153.03" y1="108.4" x2="153.03" y2="110.8" stroke="#231f20" stroke-width="0.75" />
<line x1="154.84" y1="108.4" x2="154.84" y2="110.8" stroke="#231f20" stroke-width="0.75" />
<line x1="156.65" y1="108.4" x2="156.65" y2="110.8" stroke="#231f20" stroke-width="0.75" />
<line x1="158.46" y1="108.4" x2="158.46" y2="110.8" stroke="#231f20" stroke-width="0.75" />
<line x1="160.27" y1="108.4" x2="160.27" y2="110.8" stroke="#231f20" stroke-width="0.75" />
<line x1="162.07" y1="108.4" x2="162.07" y2="110.8" stroke="#231f20" stroke-width="0.75" />
<line x1="165.27" y1="108.4" x2="165.27" y2="110.8" stroke="#231f20" stroke-width="0.75" />
<line x1="167.08" y1="108.4" x2="167.08" y2="110.8" stroke="#231f20" stroke-width="0.75" />
<line x1="168.89" y1="108.4" x2="168.89" y2="110.8" stroke="#231f20" stroke-width="0.75" />
<line x1="170.7" y1="108.4" x2="170.7" y2="110.8" stroke="#231f20" stroke-width="0.75" />
<line x1="172.51" y1="108.4" x2="172.51" y2="110.8" stroke="#231f20" stroke-width="0.75" />
<line x1="174.32" y1="108.4" x2="174.32" y2="110.8" stroke="#231f20" stroke-width="0.75" />
<line x1="176.12" y1="108.4" x2="176.12" y2="110.8" stroke="#231f20" stroke-width="0.75" />
<line x1="177.93" y1="108.4" x2="177.93" y2="110.8" stroke="#231f20" stroke-width="0.75" />
<line x1="179.74" y1="108.4" x2="179.74" y2="110.8" stroke="#231f20" stroke-width="0.75" />
<line x1="181.55" y1="108.4" x2="181.55" y2="110.8" stroke="#231f20" stroke-width="0.75" />
<line x1="184.75" y1="108.4" x2="184.75" y2="110.8" stroke="#231f20" stroke-width="0.75" />
<line x1="186.56" y1="108.4" x2="186.56" y2="110.8" stroke="#231f20" stroke-width="0.75" />
<line x1="188.37" y1="108.4" x2="188.37" y2="110.8" stroke="#231f20" stroke-width="0.75" />
<line x1="190.18" y1="108.4" x2="190.18" y2="110.8" stroke="#231f20" stroke-width="0.75" />
<line x1="191.98" y1="108.4" x2="191.98" y2="110.8" stroke="#231f20" stroke-width="0.75" />
<line x1="193.79" y1="108.4" x2="193.79" y2="110.8" stroke="#231f20" stroke-width="0.75" />
<line x1="195.6" y1="108.4" x2="195.6" y2="110.8" stroke="#231f20" stroke-width="0.75" />
<line x1="197.41" y1="108.4" x2="197.41" y2="110.8" stroke="#231f20" stroke-width="0.75" />
<line x1="199.22" y1="108.4" x2="199.22" y2="110.8" stroke="#231f20" stroke-width="0.75" />
<line x1="201.03" y1="108.4" x2="201.03" y2="110.8" stroke="#231f20" stroke-width="0.75" />
<line x1="204.22" y1="108.4" x2="204.22" y2="110.8" stroke="#231f20" stroke-width="0.75" />
<line x1="206.03" y1="108.4" x2="206.03" y2="110.8" stroke="#231f20" stroke-width="0.75" />
<line x1="207.84" y1="108.4" x2="207.84" y2="110.8" stroke="#231f20" stroke-width="0.75" />
<line x1="209.65" y1="108.4" x2="209.65" y2="110.8" stroke="#231f20" stroke-width="0.75" />
<line x1="211.46" y1="108.4" x2="211.46" y2="110.8" stroke="#231f20" stroke-width="0.75" />
<line x1="213.27" y1="108.4" x2="213.27" y2="110.8" stroke="#231f20" stroke-width="0.75" />
<line x1="215.07" y1="108.4" x2="215.07" y2="110.8" stroke="#231f20" stroke-width="0.75" />
<line x1="216.88" y1="108.4" x2="216.88" y2="110.8" stroke="#231f20" stroke-width="0.75" />
<line x1="218.69" y1="108.4" x2="218.69" y2="110.8" stroke="#231f20" stroke-width="0.75" />
<line x1="220.5" y1="108.4" x2="220.5" y2="110.8" stroke="#231f20" stroke-width="0.75" />
<text x="218.3" y="39.71" font-size="5.9" text-anchor="end" fill="#c9c9c9" font-weight="normal" stroke="#c9c9c9" stroke-width="0.12" >Unstim.</text>
<text x="218.6" y="70.61" font-size="5.9" text-anchor="end" fill="#45b0e3" font-weight="normal" stroke="#45b0e3" stroke-width="0.12" >Stim. 21%</text>
<text x="218.6" y="86.31" font-size="5.9" text-anchor="end" fill="#4d2163" font-weight="normal" stroke="#4d2163" stroke-width="0.12" >Stim. 5%</text>
<text x="218.6" y="101.71" font-size="5.9" text-anchor="end" fill="#f5a84f" font-weight="normal" stroke="#f5a84f" stroke-width="0.12" >Stim. 1%</text>
<text x="149" y="121.39" font-size="7.8" text-anchor="start" fill="#231f20" font-weight="normal" stroke="#231f20" stroke-width="0.25" textLength="13.1" lengthAdjust="spacingAndGlyphs" >CD25</text>
<line x1="168.1" y1="118.8" x2="218.8" y2="118.8" stroke="#231f20" stroke-width="1.15" />
<path d="M221.8,118.8 L215.8,116.7 L217.2,118.8 L215.8,120.9 Z" fill="#231f20"/>
<text x="136.5" y="72.85" font-size="7.4" text-anchor="middle" fill="#231f20" font-weight="normal" stroke="#231f20" stroke-width="0.3" transform="rotate(-90 136.5 70.2)" textLength="25" lengthAdjust="spacingAndGlyphs" >% of cells</text>
<rect x="26.2" y="164.7" width="76.1" height="77.1" fill="#fff" />
<path d="M26.2,203.9 L26.2,203.9 L26.55,203.9 L26.9,203.9 L27.25,203.9 L27.6,203.9 L27.95,203.9 L28.29,203.9 L28.64,203.9 L28.99,203.9 L29.34,203.9 L29.69,203.9 L30.04,203.9 L30.39,203.9 L30.74,203.9 L31.09,203.9 L31.44,203.9 L31.79,203.9 L32.13,203.9 L32.48,203.9 L32.83,203.9 L33.18,203.9 L33.53,203.9 L33.88,203.9 L34.23,203.9 L34.58,203.9 L34.93,203.9 L35.28,203.9 L35.63,203.9 L35.97,203.9 L36.32,203.9 L36.67,203.9 L37.02,203.9 L37.37,203.9 L37.72,203.9 L38.07,203.9 L38.42,203.9 L38.77,203.9 L39.12,203.9 L39.47,203.9 L39.81,203.9 L40.16,203.9 L40.51,203.9 L40.86,203.9 L41.21,203.9 L41.56,203.9 L41.91,203.9 L42.26,203.9 L42.61,203.9 L42.96,203.9 L43.31,203.9 L43.65,203.9 L44,203.9 L44.35,203.9 L44.7,203.9 L45.05,203.9 L45.4,203.9 L45.75,203.9 L46.1,203.9 L46.45,203.9 L46.8,203.9 L47.14,203.9 L47.49,203.9 L47.84,203.9 L48.19,203.9 L48.54,203.9 L48.89,203.9 L49.24,203.9 L49.59,203.9 L49.94,203.9 L50.29,203.9 L50.64,203.9 L50.98,203.9 L51.33,203.9 L51.68,203.9 L52.03,203.9 L52.38,203.9 L52.73,203.9 L53.08,203.9 L53.43,203.9 L53.78,203.9 L54.13,203.9 L54.48,203.9 L54.82,203.9 L55.17,203.9 L55.52,203.9 L55.87,203.9 L56.22,203.9 L56.57,203.9 L56.92,203.9 L57.27,203.9 L57.62,203.9 L57.97,203.9 L58.32,203.9 L58.66,203.9 L59.01,203.9 L59.36,203.9 L59.71,203.9 L60.06,203.9 L60.41,203.9 L60.76,203.9 L61.11,203.9 L61.46,203.9 L61.81,203.9 L62.16,203.9 L62.5,203.9 L62.85,203.9 L63.2,203.9 L63.55,203.9 L63.9,203.9 L64.25,203.9 L64.6,203.9 L64.95,203.9 L65.3,203.9 L65.65,203.9 L66,203.9 L66.34,203.9 L66.69,203.9 L67.04,203.9 L67.39,203.9 L67.74,203.9 L68.09,203.9 L68.44,203.9 L68.79,203.9 L69.14,203.9 L69.49,203.9 L69.84,203.9 L70.18,203.9 L70.53,203.9 L70.88,203.9 L71.23,203.9 L71.58,203.9 L71.93,203.9 L72.28,203.9 L72.63,203.9 L72.98,203.9 L73.33,203.9 L73.68,203.9 L74.02,203.9 L74.37,203.9 L74.72,203.9 L75.07,203.9 L75.42,203.9 L75.77,203.89 L76.12,203.89 L76.47,203.88 L76.82,203.87 L77.17,203.86 L77.52,203.84 L77.86,203.81 L78.21,203.77 L78.56,203.72 L78.91,203.66 L79.26,203.58 L79.61,203.52 L79.96,203.43 L80.31,203.31 L80.66,203.27 L81.01,203.17 L81.36,203.09 L81.7,203.07 L82.05,202.9 L82.4,202.59 L82.75,202.12 L83.1,201.35 L83.45,199.26 L83.8,196.89 L84.15,192.58 L84.5,187.52 L84.85,181.57 L85.19,176.01 L85.54,170.78 L85.89,167.92 L86.24,167.76 L86.59,169.85 L86.94,174.21 L87.29,179.43 L87.64,185.07 L87.99,190.11 L88.34,194.61 L88.69,198.26 L89.03,200.44 L89.38,201.98 L89.73,202.99 L90.08,203.41 L90.43,203.69 L90.78,203.81 L91.13,203.86 L91.48,203.89 L91.83,203.9 L92.18,203.9 L92.53,203.9 L92.87,203.9 L93.22,203.9 L93.57,203.9 L93.92,203.9 L94.27,203.9 L94.62,203.9 L94.97,203.9 L95.32,203.9 L95.67,203.9 L96.02,203.9 L96.37,203.9 L96.71,203.9 L97.06,203.9 L97.41,203.9 L97.76,203.9 L98.11,203.9 L98.46,203.9 L98.81,203.9 L99.16,203.9 L99.51,203.9 L99.86,203.9 L100.21,203.9 L100.55,203.9 L100.9,203.9 L101.25,203.9 L101.6,203.9 L101.95,203.9 L102.3,203.9 L102.3,203.9 Z" fill="#eeeeee" fill-opacity="1" stroke="none"/>
<path d="M26.2,203.9 L26.55,203.9 L26.9,203.9 L27.25,203.9 L27.6,203.9 L27.95,203.9 L28.29,203.9 L28.64,203.9 L28.99,203.9 L29.34,203.9 L29.69,203.9 L30.04,203.9 L30.39,203.9 L30.74,203.9 L31.09,203.9 L31.44,203.9 L31.79,203.9 L32.13,203.9 L32.48,203.9 L32.83,203.9 L33.18,203.9 L33.53,203.9 L33.88,203.9 L34.23,203.9 L34.58,203.9 L34.93,203.9 L35.28,203.9 L35.63,203.9 L35.97,203.9 L36.32,203.9 L36.67,203.9 L37.02,203.9 L37.37,203.9 L37.72,203.9 L38.07,203.9 L38.42,203.9 L38.77,203.9 L39.12,203.9 L39.47,203.9 L39.81,203.9 L40.16,203.9 L40.51,203.9 L40.86,203.9 L41.21,203.9 L41.56,203.9 L41.91,203.9 L42.26,203.9 L42.61,203.9 L42.96,203.9 L43.31,203.9 L43.65,203.9 L44,203.9 L44.35,203.9 L44.7,203.9 L45.05,203.9 L45.4,203.9 L45.75,203.9 L46.1,203.9 L46.45,203.9 L46.8,203.9 L47.14,203.9 L47.49,203.9 L47.84,203.9 L48.19,203.9 L48.54,203.9 L48.89,203.9 L49.24,203.9 L49.59,203.9 L49.94,203.9 L50.29,203.9 L50.64,203.9 L50.98,203.9 L51.33,203.9 L51.68,203.9 L52.03,203.9 L52.38,203.9 L52.73,203.9 L53.08,203.9 L53.43,203.9 L53.78,203.9 L54.13,203.9 L54.48,203.9 L54.82,203.9 L55.17,203.9 L55.52,203.9 L55.87,203.9 L56.22,203.9 L56.57,203.9 L56.92,203.9 L57.27,203.9 L57.62,203.9 L57.97,203.9 L58.32,203.9 L58.66,203.9 L59.01,203.9 L59.36,203.9 L59.71,203.9 L60.06,203.9 L60.41,203.9 L60.76,203.9 L61.11,203.9 L61.46,203.9 L61.81,203.9 L62.16,203.9 L62.5,203.9 L62.85,203.9 L63.2,203.9 L63.55,203.9 L63.9,203.9 L64.25,203.9 L64.6,203.9 L64.95,203.9 L65.3,203.9 L65.65,203.9 L66,203.9 L66.34,203.9 L66.69,203.9 L67.04,203.9 L67.39,203.9 L67.74,203.9 L68.09,203.9 L68.44,203.9 L68.79,203.9 L69.14,203.9 L69.49,203.9 L69.84,203.9 L70.18,203.9 L70.53,203.9 L70.88,203.9 L71.23,203.9 L71.58,203.9 L71.93,203.9 L72.28,203.9 L72.63,203.9 L72.98,203.9 L73.33,203.9 L73.68,203.9 L74.02,203.9 L74.37,203.9 L74.72,203.9 L75.07,203.9 L75.42,203.9 L75.77,203.89 L76.12,203.89 L76.47,203.88 L76.82,203.87 L77.17,203.86 L77.52,203.84 L77.86,203.81 L78.21,203.77 L78.56,203.72 L78.91,203.66 L79.26,203.58 L79.61,203.52 L79.96,203.43 L80.31,203.31 L80.66,203.27 L81.01,203.17 L81.36,203.09 L81.7,203.07 L82.05,202.9 L82.4,202.59 L82.75,202.12 L83.1,201.35 L83.45,199.26 L83.8,196.89 L84.15,192.58 L84.5,187.52 L84.85,181.57 L85.19,176.01 L85.54,170.78 L85.89,167.92 L86.24,167.76 L86.59,169.85 L86.94,174.21 L87.29,179.43 L87.64,185.07 L87.99,190.11 L88.34,194.61 L88.69,198.26 L89.03,200.44 L89.38,201.98 L89.73,202.99 L90.08,203.41 L90.43,203.69 L90.78,203.81 L91.13,203.86 L91.48,203.89 L91.83,203.9 L92.18,203.9 L92.53,203.9 L92.87,203.9 L93.22,203.9 L93.57,203.9 L93.92,203.9 L94.27,203.9 L94.62,203.9 L94.97,203.9 L95.32,203.9 L95.67,203.9 L96.02,203.9 L96.37,203.9 L96.71,203.9 L97.06,203.9 L97.41,203.9 L97.76,203.9 L98.11,203.9 L98.46,203.9 L98.81,203.9 L99.16,203.9 L99.51,203.9 L99.86,203.9 L100.21,203.9 L100.55,203.9 L100.9,203.9 L101.25,203.9 L101.6,203.9 L101.95,203.9 L102.3,203.9" fill="none" stroke="#c4c4c4" stroke-width="0.8" stroke-linejoin="round"/>
<path d="M26.2,222.8 L26.2,222.8 L26.71,222.8 L27.22,222.8 L27.73,222.8 L28.24,222.8 L28.76,222.8 L29.27,222.8 L29.78,222.8 L30.29,222.8 L30.8,222.8 L31.31,222.8 L31.82,222.8 L32.33,222.8 L32.84,222.8 L33.36,222.8 L33.87,222.8 L34.38,222.8 L34.89,222.8 L35.4,222.8 L35.91,222.8 L36.42,222.8 L36.93,222.8 L37.44,222.8 L37.96,222.8 L38.47,222.8 L38.98,222.8 L39.49,222.8 L40,222.8 L40.5,222.65 L41,222.5 L41.5,222.35 L42,222.2 L42.5,221.13 L43,220.27 L43.5,219.66 L44,218.83 L44.5,218.8 L45.02,217.1 L45.53,216.23 L46.05,215.86 L46.57,213.97 L47.08,213.37 L47.6,212.63 L48.12,210.54 L48.63,208.53 L49.15,207.13 L49.67,205.48 L50.18,203.48 L50.7,202.34 L51.28,204.02 L51.85,205.34 L52.42,206.55 L53,208.32 L53.51,207.43 L54.02,205.17 L54.53,204.07 L55.04,202.62 L55.56,201.25 L56.07,199.52 L56.58,198.34 L57.09,197.06 L57.6,195.58 L58.12,198.05 L58.64,200.91 L59.16,203.9 L59.68,206.69 L60.2,209.74 L60.7,207.92 L61.2,205.51 L61.7,204.64 L62.2,202.34 L62.7,200.87 L63.2,199.13 L63.7,197.57 L64.24,200.71 L64.78,203.56 L65.32,207.09 L65.86,210.83 L66.4,214.14 L66.94,211.83 L67.48,209.69 L68.02,206.89 L68.56,204.89 L69.1,203.22 L69.7,205.73 L70.3,208.36 L70.9,211.78 L71.5,215.12 L72,213.42 L72.5,211.99 L73,210.33 L73.5,208.79 L74,207.24 L74.5,206.11 L75,204.98 L75.52,207.01 L76.04,208.51 L76.56,210.68 L77.08,213.15 L77.6,215.28 L78.12,213.54 L78.63,211.7 L79.15,210.32 L79.67,208.55 L80.18,207.09 L80.7,205.88 L81.2,206.9 L81.7,208.55 L82.2,209.59 L82.7,211.18 L83.27,207.4 L83.83,203.05 L84.4,199.56 L84.97,194.97 L85.53,191.55 L86.1,188.2 L86.67,190.05 L87.25,193.19 L87.83,195.98 L88.4,198.56 L88.9,204.51 L89.4,209.31 L89.9,215.5 L90.4,220.97 L91.03,221.7 L91.67,222.17 L92.3,222.8 L92.8,222.8 L93.3,222.8 L93.8,222.8 L94.3,222.8 L94.8,222.8 L95.3,222.8 L95.8,222.8 L96.3,222.8 L96.8,222.8 L97.3,222.8 L97.8,222.8 L98.3,222.8 L98.8,222.8 L99.3,222.8 L99.8,222.8 L100.3,222.8 L100.8,222.8 L101.3,222.8 L101.8,222.8 L102.3,222.8 L102.3,222.8 Z" fill="#bde4f6" fill-opacity="1" stroke="none"/>
<path d="M26.2,222.8 L26.71,222.8 L27.22,222.8 L27.73,222.8 L28.24,222.8 L28.76,222.8 L29.27,222.8 L29.78,222.8 L30.29,222.8 L30.8,222.8 L31.31,222.8 L31.82,222.8 L32.33,222.8 L32.84,222.8 L33.36,222.8 L33.87,222.8 L34.38,222.8 L34.89,222.8 L35.4,222.8 L35.91,222.8 L36.42,222.8 L36.93,222.8 L37.44,222.8 L37.96,222.8 L38.47,222.8 L38.98,222.8 L39.49,222.8 L40,222.8 L40.5,222.65 L41,222.5 L41.5,222.35 L42,222.2 L42.5,221.13 L43,220.27 L43.5,219.66 L44,218.83 L44.5,218.8 L45.02,217.1 L45.53,216.23 L46.05,215.86 L46.57,213.97 L47.08,213.37 L47.6,212.63 L48.12,210.54 L48.63,208.53 L49.15,207.13 L49.67,205.48 L50.18,203.48 L50.7,202.34 L51.28,204.02 L51.85,205.34 L52.42,206.55 L53,208.32 L53.51,207.43 L54.02,205.17 L54.53,204.07 L55.04,202.62 L55.56,201.25 L56.07,199.52 L56.58,198.34 L57.09,197.06 L57.6,195.58 L58.12,198.05 L58.64,200.91 L59.16,203.9 L59.68,206.69 L60.2,209.74 L60.7,207.92 L61.2,205.51 L61.7,204.64 L62.2,202.34 L62.7,200.87 L63.2,199.13 L63.7,197.57 L64.24,200.71 L64.78,203.56 L65.32,207.09 L65.86,210.83 L66.4,214.14 L66.94,211.83 L67.48,209.69 L68.02,206.89 L68.56,204.89 L69.1,203.22 L69.7,205.73 L70.3,208.36 L70.9,211.78 L71.5,215.12 L72,213.42 L72.5,211.99 L73,210.33 L73.5,208.79 L74,207.24 L74.5,206.11 L75,204.98 L75.52,207.01 L76.04,208.51 L76.56,210.68 L77.08,213.15 L77.6,215.28 L78.12,213.54 L78.63,211.7 L79.15,210.32 L79.67,208.55 L80.18,207.09 L80.7,205.88 L81.2,206.9 L81.7,208.55 L82.2,209.59 L82.7,211.18 L83.27,207.4 L83.83,203.05 L84.4,199.56 L84.97,194.97 L85.53,191.55 L86.1,188.2 L86.67,190.05 L87.25,193.19 L87.83,195.98 L88.4,198.56 L88.9,204.51 L89.4,209.31 L89.9,215.5 L90.4,220.97 L91.03,221.7 L91.67,222.17 L92.3,222.8 L92.8,222.8 L93.3,222.8 L93.8,222.8 L94.3,222.8 L94.8,222.8 L95.3,222.8 L95.8,222.8 L96.3,222.8 L96.8,222.8 L97.3,222.8 L97.8,222.8 L98.3,222.8 L98.8,222.8 L99.3,222.8 L99.8,222.8 L100.3,222.8 L100.8,222.8 L101.3,222.8 L101.8,222.8 L102.3,222.8" fill="none" stroke="#2aa5de" stroke-width="1.0" stroke-linejoin="round"/>
<path d="M26.2,241.8 L26.2,241.8 L26.6,241.8 L27,241.8 L27.4,241.8 L27.79,241.8 L28.19,241.8 L28.59,241.8 L28.99,241.8 L29.39,241.8 L29.79,241.8 L30.18,241.8 L30.58,241.8 L30.98,241.8 L31.38,241.8 L31.78,241.8 L32.18,241.8 L32.57,241.8 L32.97,241.8 L33.37,241.8 L33.77,241.8 L34.17,241.8 L34.57,241.8 L34.97,241.8 L35.36,241.8 L35.76,241.8 L36.16,241.8 L36.56,241.8 L36.96,241.8 L37.36,241.8 L37.75,241.8 L38.15,241.8 L38.55,241.8 L38.95,241.8 L39.35,241.8 L39.75,241.8 L40.15,241.8 L40.54,241.8 L40.94,241.8 L41.34,241.8 L41.74,241.8 L42.14,241.79 L42.54,241.79 L42.93,241.77 L43.33,241.75 L43.73,241.71 L44.13,241.64 L44.53,241.54 L44.93,241.43 L45.32,241.18 L45.72,241.19 L46.12,240.93 L46.52,240.73 L46.92,240.7 L47.32,240.8 L47.72,240.99 L48.11,241.08 L48.51,241.03 L48.91,241.23 L49.31,241.27 L49.71,241.13 L50.11,241.11 L50.5,240.97 L50.9,240.66 L51.3,240.69 L51.7,240.34 L52.1,240.58 L52.5,240.55 L52.89,240.67 L53.29,240.77 L53.69,240.87 L54.09,241.04 L54.49,241.21 L54.89,241.12 L55.29,240.86 L55.68,240.86 L56.08,240.41 L56.48,240.5 L56.88,240.46 L57.28,240.25 L57.68,240.56 L58.07,240.49 L58.47,240.89 L58.87,240.89 L59.27,240.99 L59.67,241.03 L60.07,241.18 L60.46,241.04 L60.86,240.79 L61.26,240.84 L61.66,240.63 L62.06,240.76 L62.46,240.48 L62.86,240.92 L63.25,240.87 L63.65,241.06 L64.05,241.18 L64.45,241.34 L64.85,241.27 L65.25,241.22 L65.64,241.11 L66.04,240.9 L66.44,240.98 L66.84,240.68 L67.24,240.71 L67.64,241.01 L68.04,241.09 L68.43,240.97 L68.83,241.08 L69.23,241.29 L69.63,241.3 L70.03,241.19 L70.43,240.92 L70.82,240.9 L71.22,240.71 L71.62,240.41 L72.02,240.53 L72.42,240.39 L72.82,240.58 L73.21,240.85 L73.61,240.99 L74.01,241.22 L74.41,241.12 L74.81,241.25 L75.21,241.13 L75.61,241.14 L76,240.89 L76.4,240.69 L76.8,240.71 L77.2,240.69 L77.6,240.89 L78,240.88 L78.39,240.77 L78.79,240.92 L79.19,240.91 L79.59,240.79 L79.99,240.37 L80.39,240.2 L80.78,240.28 L81.18,240.09 L81.58,239.75 L81.98,239.99 L82.38,240.28 L82.78,240.35 L83.18,239.74 L83.57,238.99 L83.97,237.2 L84.37,234.91 L84.77,230.35 L85.17,225.21 L85.57,219.46 L85.96,212.96 L86.36,208.81 L86.76,206.55 L87.16,207.2 L87.56,209.25 L87.96,214.28 L88.35,220.02 L88.75,225.21 L89.15,229.85 L89.55,233.94 L89.95,237.55 L90.35,239.35 L90.75,240.61 L91.14,241.19 L91.54,241.5 L91.94,241.67 L92.34,241.75 L92.74,241.78 L93.14,241.79 L93.53,241.8 L93.93,241.8 L94.33,241.8 L94.73,241.8 L95.13,241.8 L95.53,241.8 L95.93,241.8 L96.32,241.8 L96.72,241.8 L97.12,241.8 L97.52,241.8 L97.92,241.8 L98.32,241.8 L98.71,241.8 L99.11,241.8 L99.51,241.8 L99.91,241.8 L100.31,241.8 L100.71,241.8 L101.1,241.8 L101.5,241.8 L101.9,241.8 L102.3,241.8 L102.3,241.8 Z" fill="#fde0b6" fill-opacity="1" stroke="none"/>
<path d="M26.2,241.8 L26.6,241.8 L27,241.8 L27.4,241.8 L27.79,241.8 L28.19,241.8 L28.59,241.8 L28.99,241.8 L29.39,241.8 L29.79,241.8 L30.18,241.8 L30.58,241.8 L30.98,241.8 L31.38,241.8 L31.78,241.8 L32.18,241.8 L32.57,241.8 L32.97,241.8 L33.37,241.8 L33.77,241.8 L34.17,241.8 L34.57,241.8 L34.97,241.8 L35.36,241.8 L35.76,241.8 L36.16,241.8 L36.56,241.8 L36.96,241.8 L37.36,241.8 L37.75,241.8 L38.15,241.8 L38.55,241.8 L38.95,241.8 L39.35,241.8 L39.75,241.8 L40.15,241.8 L40.54,241.8 L40.94,241.8 L41.34,241.8 L41.74,241.8 L42.14,241.79 L42.54,241.79 L42.93,241.77 L43.33,241.75 L43.73,241.71 L44.13,241.64 L44.53,241.54 L44.93,241.43 L45.32,241.18 L45.72,241.19 L46.12,240.93 L46.52,240.73 L46.92,240.7 L47.32,240.8 L47.72,240.99 L48.11,241.08 L48.51,241.03 L48.91,241.23 L49.31,241.27 L49.71,241.13 L50.11,241.11 L50.5,240.97 L50.9,240.66 L51.3,240.69 L51.7,240.34 L52.1,240.58 L52.5,240.55 L52.89,240.67 L53.29,240.77 L53.69,240.87 L54.09,241.04 L54.49,241.21 L54.89,241.12 L55.29,240.86 L55.68,240.86 L56.08,240.41 L56.48,240.5 L56.88,240.46 L57.28,240.25 L57.68,240.56 L58.07,240.49 L58.47,240.89 L58.87,240.89 L59.27,240.99 L59.67,241.03 L60.07,241.18 L60.46,241.04 L60.86,240.79 L61.26,240.84 L61.66,240.63 L62.06,240.76 L62.46,240.48 L62.86,240.92 L63.25,240.87 L63.65,241.06 L64.05,241.18 L64.45,241.34 L64.85,241.27 L65.25,241.22 L65.64,241.11 L66.04,240.9 L66.44,240.98 L66.84,240.68 L67.24,240.71 L67.64,241.01 L68.04,241.09 L68.43,240.97 L68.83,241.08 L69.23,241.29 L69.63,241.3 L70.03,241.19 L70.43,240.92 L70.82,240.9 L71.22,240.71 L71.62,240.41 L72.02,240.53 L72.42,240.39 L72.82,240.58 L73.21,240.85 L73.61,240.99 L74.01,241.22 L74.41,241.12 L74.81,241.25 L75.21,241.13 L75.61,241.14 L76,240.89 L76.4,240.69 L76.8,240.71 L77.2,240.69 L77.6,240.89 L78,240.88 L78.39,240.77 L78.79,240.92 L79.19,240.91 L79.59,240.79 L79.99,240.37 L80.39,240.2 L80.78,240.28 L81.18,240.09 L81.58,239.75 L81.98,239.99 L82.38,240.28 L82.78,240.35 L83.18,239.74 L83.57,238.99 L83.97,237.2 L84.37,234.91 L84.77,230.35 L85.17,225.21 L85.57,219.46 L85.96,212.96 L86.36,208.81 L86.76,206.55 L87.16,207.2 L87.56,209.25 L87.96,214.28 L88.35,220.02 L88.75,225.21 L89.15,229.85 L89.55,233.94 L89.95,237.55 L90.35,239.35 L90.75,240.61 L91.14,241.19 L91.54,241.5 L91.94,241.67 L92.34,241.75 L92.74,241.78 L93.14,241.79 L93.53,241.8 L93.93,241.8 L94.33,241.8 L94.73,241.8 L95.13,241.8 L95.53,241.8 L95.93,241.8 L96.32,241.8 L96.72,241.8 L97.12,241.8 L97.52,241.8 L97.92,241.8 L98.32,241.8 L98.71,241.8 L99.11,241.8 L99.51,241.8 L99.91,241.8 L100.31,241.8 L100.71,241.8 L101.1,241.8 L101.5,241.8 L101.9,241.8 L102.3,241.8" fill="none" stroke="#f7a43f" stroke-width="0.75" stroke-linejoin="round"/>
<rect x="26.2" y="164.7" width="76.1" height="77.1" fill="none" stroke="#231f20" stroke-width="1.1"/>
<line x1="27.4" y1="241.8" x2="27.4" y2="244.2" stroke="#231f20" stroke-width="0.75" />
<line x1="29.16" y1="241.8" x2="29.16" y2="244.2" stroke="#231f20" stroke-width="0.75" />
<line x1="30.92" y1="241.8" x2="30.92" y2="244.2" stroke="#231f20" stroke-width="0.75" />
<line x1="32.67" y1="241.8" x2="32.67" y2="244.2" stroke="#231f20" stroke-width="0.75" />
<line x1="34.43" y1="241.8" x2="34.43" y2="244.2" stroke="#231f20" stroke-width="0.75" />
<line x1="36.19" y1="241.8" x2="36.19" y2="244.2" stroke="#231f20" stroke-width="0.75" />
<line x1="37.95" y1="241.8" x2="37.95" y2="244.2" stroke="#231f20" stroke-width="0.75" />
<line x1="39.71" y1="241.8" x2="39.71" y2="244.2" stroke="#231f20" stroke-width="0.75" />
<line x1="41.47" y1="241.8" x2="41.47" y2="244.2" stroke="#231f20" stroke-width="0.75" />
<line x1="43.22" y1="241.8" x2="43.22" y2="244.2" stroke="#231f20" stroke-width="0.75" />
<line x1="46.42" y1="241.8" x2="46.42" y2="244.2" stroke="#231f20" stroke-width="0.75" />
<line x1="48.18" y1="241.8" x2="48.18" y2="244.2" stroke="#231f20" stroke-width="0.75" />
<line x1="49.94" y1="241.8" x2="49.94" y2="244.2" stroke="#231f20" stroke-width="0.75" />
<line x1="51.7" y1="241.8" x2="51.7" y2="244.2" stroke="#231f20" stroke-width="0.75" />
<line x1="53.46" y1="241.8" x2="53.46" y2="244.2" stroke="#231f20" stroke-width="0.75" />
<line x1="55.22" y1="241.8" x2="55.22" y2="244.2" stroke="#231f20" stroke-width="0.75" />
<line x1="56.98" y1="241.8" x2="56.98" y2="244.2" stroke="#231f20" stroke-width="0.75" />
<line x1="58.73" y1="241.8" x2="58.73" y2="244.2" stroke="#231f20" stroke-width="0.75" />
<line x1="60.49" y1="241.8" x2="60.49" y2="244.2" stroke="#231f20" stroke-width="0.75" />
<line x1="62.25" y1="241.8" x2="62.25" y2="244.2" stroke="#231f20" stroke-width="0.75" />
<line x1="65.45" y1="241.8" x2="65.45" y2="244.2" stroke="#231f20" stroke-width="0.75" />
<line x1="67.21" y1="241.8" x2="67.21" y2="244.2" stroke="#231f20" stroke-width="0.75" />
<line x1="68.97" y1="241.8" x2="68.97" y2="244.2" stroke="#231f20" stroke-width="0.75" />
<line x1="70.72" y1="241.8" x2="70.72" y2="244.2" stroke="#231f20" stroke-width="0.75" />
<line x1="72.48" y1="241.8" x2="72.48" y2="244.2" stroke="#231f20" stroke-width="0.75" />
<line x1="74.24" y1="241.8" x2="74.24" y2="244.2" stroke="#231f20" stroke-width="0.75" />
<line x1="76" y1="241.8" x2="76" y2="244.2" stroke="#231f20" stroke-width="0.75" />
<line x1="77.76" y1="241.8" x2="77.76" y2="244.2" stroke="#231f20" stroke-width="0.75" />
<line x1="79.52" y1="241.8" x2="79.52" y2="244.2" stroke="#231f20" stroke-width="0.75" />
<line x1="81.27" y1="241.8" x2="81.27" y2="244.2" stroke="#231f20" stroke-width="0.75" />
<line x1="84.47" y1="241.8" x2="84.47" y2="244.2" stroke="#231f20" stroke-width="0.75" />
<line x1="86.23" y1="241.8" x2="86.23" y2="244.2" stroke="#231f20" stroke-width="0.75" />
<line x1="87.99" y1="241.8" x2="87.99" y2="244.2" stroke="#231f20" stroke-width="0.75" />
<line x1="89.75" y1="241.8" x2="89.75" y2="244.2" stroke="#231f20" stroke-width="0.75" />
<line x1="91.51" y1="241.8" x2="91.51" y2="244.2" stroke="#231f20" stroke-width="0.75" />
<line x1="93.27" y1="241.8" x2="93.27" y2="244.2" stroke="#231f20" stroke-width="0.75" />
<line x1="95.02" y1="241.8" x2="95.02" y2="244.2" stroke="#231f20" stroke-width="0.75" />
<line x1="96.78" y1="241.8" x2="96.78" y2="244.2" stroke="#231f20" stroke-width="0.75" />
<line x1="98.54" y1="241.8" x2="98.54" y2="244.2" stroke="#231f20" stroke-width="0.75" />
<line x1="100.3" y1="241.8" x2="100.3" y2="244.2" stroke="#231f20" stroke-width="0.75" />
<text x="29.4" y="173.71" font-size="5.9" text-anchor="start" fill="#c9c9c9" font-weight="normal" stroke="#c9c9c9" stroke-width="0.12" >Unstim.</text>
<text x="29.4" y="192.91" font-size="5.9" text-anchor="start" fill="#45b0e3" font-weight="normal" stroke="#45b0e3" stroke-width="0.12" >Stim. 21%</text>
<text x="29.4" y="229.91" font-size="5.9" text-anchor="start" fill="#f5a84f" font-weight="normal" stroke="#f5a84f" stroke-width="0.12" >Stim. 1%</text>
<text x="29" y="256.05" font-size="7.4" text-anchor="start" fill="#231f20" font-weight="normal" stroke="#231f20" stroke-width="0.25" textLength="9.7" lengthAdjust="spacingAndGlyphs" >CTV</text>
<line x1="45" y1="253.4" x2="95" y2="253.4" stroke="#231f20" stroke-width="1.15" />
<path d="M98,253.4 L92,251.3 L93.4,253.4 L92,255.5 Z" fill="#231f20"/>
<text x="17.9" y="205.85" font-size="7.4" text-anchor="middle" fill="#231f20" font-weight="normal" stroke="#231f20" stroke-width="0.3" transform="rotate(-90 17.9 203.2)" textLength="25.4" lengthAdjust="spacingAndGlyphs" >% of cells</text>
<rect x="255.3" y="163.3" width="78.7" height="79.7" fill="#fff" />
<path d="M255.3,203.4 L255.3,203.4 L255.9,203.4 L256.49,203.4 L257.09,203.4 L257.68,203.4 L258.28,203.4 L258.88,203.4 L259.47,203.4 L260.07,203.4 L260.67,203.4 L261.26,203.4 L261.86,203.39 L262.45,203.39 L263.05,203.37 L263.65,203.35 L264.24,203.32 L264.84,203.26 L265.44,203.17 L266.03,203.08 L266.63,202.86 L267.22,202.7 L267.82,202.42 L268.42,202.2 L269.01,201.49 L269.61,200.63 L270.21,199.31 L270.8,197 L271.4,193.93 L271.99,189.28 L272.59,183.93 L273.19,177.62 L273.78,171.61 L274.38,168.03 L274.98,166.7 L275.57,167.66 L276.17,171.24 L276.76,175.87 L277.36,181.88 L277.96,187.17 L278.55,192.52 L279.15,196.16 L279.74,199.03 L280.34,201.07 L280.94,202.08 L281.53,202.77 L282.13,203.07 L282.73,203.27 L283.32,203.35 L283.92,203.38 L284.51,203.39 L285.11,203.4 L285.71,203.4 L286.3,203.4 L286.9,203.4 L287.5,203.4 L288.09,203.4 L288.69,203.4 L289.28,203.4 L289.88,203.4 L290.48,203.4 L291.07,203.4 L291.67,203.4 L292.27,203.4 L292.86,203.4 L293.46,203.4 L294.05,203.4 L294.65,203.4 L295.25,203.4 L295.84,203.4 L296.44,203.4 L297.03,203.4 L297.63,203.4 L298.23,203.4 L298.82,203.4 L299.42,203.4 L300.02,203.4 L300.61,203.4 L301.21,203.4 L301.8,203.4 L302.4,203.4 L303,203.4 L303.59,203.4 L304.19,203.4 L304.79,203.4 L305.38,203.4 L305.98,203.4 L306.57,203.4 L307.17,203.4 L307.77,203.4 L308.36,203.4 L308.96,203.4 L309.56,203.4 L310.15,203.4 L310.75,203.4 L311.34,203.4 L311.94,203.4 L312.54,203.4 L313.13,203.4 L313.73,203.4 L314.32,203.4 L314.92,203.4 L315.52,203.4 L316.11,203.4 L316.71,203.4 L317.31,203.4 L317.9,203.4 L318.5,203.4 L319.09,203.4 L319.69,203.4 L320.29,203.4 L320.88,203.4 L321.48,203.4 L322.08,203.4 L322.67,203.4 L323.27,203.4 L323.86,203.4 L324.46,203.4 L325.06,203.4 L325.65,203.4 L326.25,203.4 L326.85,203.4 L327.44,203.4 L328.04,203.4 L328.63,203.4 L329.23,203.4 L329.83,203.4 L330.42,203.4 L331.02,203.4 L331.62,203.4 L332.21,203.4 L332.81,203.4 L333.4,203.4 L334,203.4 L334,203.4 Z" fill="#eeeeee" fill-opacity="1" stroke="none"/>
<path d="M255.3,203.4 L255.9,203.4 L256.49,203.4 L257.09,203.4 L257.68,203.4 L258.28,203.4 L258.88,203.4 L259.47,203.4 L260.07,203.4 L260.67,203.4 L261.26,203.4 L261.86,203.39 L262.45,203.39 L263.05,203.37 L263.65,203.35 L264.24,203.32 L264.84,203.26 L265.44,203.17 L266.03,203.08 L266.63,202.86 L267.22,202.7 L267.82,202.42 L268.42,202.2 L269.01,201.49 L269.61,200.63 L270.21,199.31 L270.8,197 L271.4,193.93 L271.99,189.28 L272.59,183.93 L273.19,177.62 L273.78,171.61 L274.38,168.03 L274.98,166.7 L275.57,167.66 L276.17,171.24 L276.76,175.87 L277.36,181.88 L277.96,187.17 L278.55,192.52 L279.15,196.16 L279.74,199.03 L280.34,201.07 L280.94,202.08 L281.53,202.77 L282.13,203.07 L282.73,203.27 L283.32,203.35 L283.92,203.38 L284.51,203.39 L285.11,203.4 L285.71,203.4 L286.3,203.4 L286.9,203.4 L287.5,203.4 L288.09,203.4 L288.69,203.4 L289.28,203.4 L289.88,203.4 L290.48,203.4 L291.07,203.4 L291.67,203.4 L292.27,203.4 L292.86,203.4 L293.46,203.4 L294.05,203.4 L294.65,203.4 L295.25,203.4 L295.84,203.4 L296.44,203.4 L297.03,203.4 L297.63,203.4 L298.23,203.4 L298.82,203.4 L299.42,203.4 L300.02,203.4 L300.61,203.4 L301.21,203.4 L301.8,203.4 L302.4,203.4 L303,203.4 L303.59,203.4 L304.19,203.4 L304.79,203.4 L305.38,203.4 L305.98,203.4 L306.57,203.4 L307.17,203.4 L307.77,203.4 L308.36,203.4 L308.96,203.4 L309.56,203.4 L310.15,203.4 L310.75,203.4 L311.34,203.4 L311.94,203.4 L312.54,203.4 L313.13,203.4 L313.73,203.4 L314.32,203.4 L314.92,203.4 L315.52,203.4 L316.11,203.4 L316.71,203.4 L317.31,203.4 L317.9,203.4 L318.5,203.4 L319.09,203.4 L319.69,203.4 L320.29,203.4 L320.88,203.4 L321.48,203.4 L322.08,203.4 L322.67,203.4 L323.27,203.4 L323.86,203.4 L324.46,203.4 L325.06,203.4 L325.65,203.4 L326.25,203.4 L326.85,203.4 L327.44,203.4 L328.04,203.4 L328.63,203.4 L329.23,203.4 L329.83,203.4 L330.42,203.4 L331.02,203.4 L331.62,203.4 L332.21,203.4 L332.81,203.4 L333.4,203.4 L334,203.4" fill="none" stroke="#c4c4c4" stroke-width="0.8" stroke-linejoin="round"/>
<path d="M255.3,223.6 L255.3,223.6 L255.9,223.6 L256.49,223.6 L257.09,223.6 L257.68,223.6 L258.28,223.6 L258.88,223.6 L259.47,223.6 L260.07,223.6 L260.67,223.6 L261.26,223.6 L261.86,223.6 L262.45,223.6 L263.05,223.6 L263.65,223.6 L264.24,223.6 L264.84,223.6 L265.44,223.6 L266.03,223.6 L266.63,223.6 L267.22,223.6 L267.82,223.6 L268.42,223.6 L269.01,223.6 L269.61,223.59 L270.21,223.57 L270.8,223.5 L271.4,223.33 L271.99,222.91 L272.59,222.21 L273.19,220.65 L273.78,218.17 L274.38,213.95 L274.98,208.75 L275.57,201.93 L276.17,195.25 L276.76,189.67 L277.36,185.72 L277.96,185.81 L278.55,187.48 L279.15,191.09 L279.74,195.93 L280.34,201.25 L280.94,206.14 L281.53,210.81 L282.13,213.91 L282.73,216.41 L283.32,218.54 L283.92,219.27 L284.51,220.52 L285.11,221.19 L285.71,221.21 L286.3,221.76 L286.9,222.04 L287.5,222.18 L288.09,222.49 L288.69,222.5 L289.28,222.69 L289.88,222.71 L290.48,222.72 L291.07,222.8 L291.67,222.77 L292.27,222.97 L292.86,222.96 L293.46,222.87 L294.05,222.88 L294.65,223.03 L295.25,222.96 L295.84,223.01 L296.44,223.09 L297.03,223.09 L297.63,223.11 L298.23,223.24 L298.82,223.22 L299.42,223.31 L300.02,223.31 L300.61,223.35 L301.21,223.38 L301.8,223.42 L302.4,223.44 L303,223.47 L303.59,223.49 L304.19,223.51 L304.79,223.53 L305.38,223.54 L305.98,223.55 L306.57,223.56 L307.17,223.57 L307.77,223.58 L308.36,223.58 L308.96,223.59 L309.56,223.59 L310.15,223.59 L310.75,223.59 L311.34,223.6 L311.94,223.6 L312.54,223.6 L313.13,223.6 L313.73,223.6 L314.32,223.6 L314.92,223.6 L315.52,223.6 L316.11,223.6 L316.71,223.6 L317.31,223.6 L317.9,223.6 L318.5,223.6 L319.09,223.6 L319.69,223.6 L320.29,223.6 L320.88,223.6 L321.48,223.6 L322.08,223.6 L322.67,223.6 L323.27,223.6 L323.86,223.6 L324.46,223.6 L325.06,223.6 L325.65,223.6 L326.25,223.6 L326.85,223.6 L327.44,223.6 L328.04,223.6 L328.63,223.6 L329.23,223.6 L329.83,223.6 L330.42,223.6 L331.02,223.6 L331.62,223.6 L332.21,223.6 L332.81,223.6 L333.4,223.6 L334,223.6 L334,223.6 Z" fill="#bde4f6" fill-opacity="1" stroke="none"/>
<path d="M255.3,223.6 L255.9,223.6 L256.49,223.6 L257.09,223.6 L257.68,223.6 L258.28,223.6 L258.88,223.6 L259.47,223.6 L260.07,223.6 L260.67,223.6 L261.26,223.6 L261.86,223.6 L262.45,223.6 L263.05,223.6 L263.65,223.6 L264.24,223.6 L264.84,223.6 L265.44,223.6 L266.03,223.6 L266.63,223.6 L267.22,223.6 L267.82,223.6 L268.42,223.6 L269.01,223.6 L269.61,223.59 L270.21,223.57 L270.8,223.5 L271.4,223.33 L271.99,222.91 L272.59,222.21 L273.19,220.65 L273.78,218.17 L274.38,213.95 L274.98,208.75 L275.57,201.93 L276.17,195.25 L276.76,189.67 L277.36,185.72 L277.96,185.81 L278.55,187.48 L279.15,191.09 L279.74,195.93 L280.34,201.25 L280.94,206.14 L281.53,210.81 L282.13,213.91 L282.73,216.41 L283.32,218.54 L283.92,219.27 L284.51,220.52 L285.11,221.19 L285.71,221.21 L286.3,221.76 L286.9,222.04 L287.5,222.18 L288.09,222.49 L288.69,222.5 L289.28,222.69 L289.88,222.71 L290.48,222.72 L291.07,222.8 L291.67,222.77 L292.27,222.97 L292.86,222.96 L293.46,222.87 L294.05,222.88 L294.65,223.03 L295.25,222.96 L295.84,223.01 L296.44,223.09 L297.03,223.09 L297.63,223.11 L298.23,223.24 L298.82,223.22 L299.42,223.31 L300.02,223.31 L300.61,223.35 L301.21,223.38 L301.8,223.42 L302.4,223.44 L303,223.47 L303.59,223.49 L304.19,223.51 L304.79,223.53 L305.38,223.54 L305.98,223.55 L306.57,223.56 L307.17,223.57 L307.77,223.58 L308.36,223.58 L308.96,223.59 L309.56,223.59 L310.15,223.59 L310.75,223.59 L311.34,223.6 L311.94,223.6 L312.54,223.6 L313.13,223.6 L313.73,223.6 L314.32,223.6 L314.92,223.6 L315.52,223.6 L316.11,223.6 L316.71,223.6 L317.31,223.6 L317.9,223.6 L318.5,223.6 L319.09,223.6 L319.69,223.6 L320.29,223.6 L320.88,223.6 L321.48,223.6 L322.08,223.6 L322.67,223.6 L323.27,223.6 L323.86,223.6 L324.46,223.6 L325.06,223.6 L325.65,223.6 L326.25,223.6 L326.85,223.6 L327.44,223.6 L328.04,223.6 L328.63,223.6 L329.23,223.6 L329.83,223.6 L330.42,223.6 L331.02,223.6 L331.62,223.6 L332.21,223.6 L332.81,223.6 L333.4,223.6 L334,223.6" fill="none" stroke="#2aa5de" stroke-width="0.95" stroke-linejoin="round"/>
<path d="M255.3,243 L255.3,243 L255.9,243 L256.49,243 L257.09,243 L257.68,243 L258.28,243 L258.88,243 L259.47,243 L260.07,243 L260.67,243 L261.26,243 L261.86,243 L262.45,243 L263.05,243 L263.65,243 L264.24,243 L264.84,243 L265.44,243 L266.03,243 L266.63,243 L267.22,242.99 L267.82,242.99 L268.42,242.96 L269.01,242.9 L269.61,242.77 L270.21,242.49 L270.8,241.84 L271.4,240.89 L271.99,238.95 L272.59,237.26 L273.19,233.6 L273.78,228.6 L274.38,223.2 L274.98,218.12 L275.57,213.1 L276.17,209.28 L276.76,207.27 L277.36,208.07 L277.96,209.35 L278.55,211.88 L279.15,215.46 L279.74,220.05 L280.34,223.37 L280.94,227.78 L281.53,230.86 L282.13,233.57 L282.73,235.14 L283.32,236.99 L283.92,238.2 L284.51,238.81 L285.11,240.04 L285.71,240.29 L286.3,240.96 L286.9,241.6 L287.5,241.96 L288.09,242.4 L288.69,242.52 L289.28,242.73 L289.88,242.84 L290.48,242.91 L291.07,242.95 L291.67,242.98 L292.27,242.99 L292.86,243 L293.46,243 L294.05,243 L294.65,243 L295.25,243 L295.84,243 L296.44,243 L297.03,243 L297.63,243 L298.23,243 L298.82,243 L299.42,243 L300.02,243 L300.61,243 L301.21,243 L301.8,243 L302.4,243 L303,243 L303.59,243 L304.19,243 L304.79,243 L305.38,243 L305.98,243 L306.57,243 L307.17,243 L307.77,243 L308.36,243 L308.96,243 L309.56,243 L310.15,243 L310.75,243 L311.34,243 L311.94,243 L312.54,243 L313.13,243 L313.73,243 L314.32,243 L314.92,243 L315.52,243 L316.11,243 L316.71,243 L317.31,243 L317.9,243 L318.5,243 L319.09,243 L319.69,243 L320.29,243 L320.88,243 L321.48,243 L322.08,243 L322.67,243 L323.27,243 L323.86,243 L324.46,243 L325.06,243 L325.65,243 L326.25,243 L326.85,243 L327.44,243 L328.04,243 L328.63,243 L329.23,243 L329.83,243 L330.42,243 L331.02,243 L331.62,243 L332.21,243 L332.81,243 L333.4,243 L334,243 L334,243 Z" fill="#fde0b6" fill-opacity="1" stroke="none"/>
<path d="M255.3,243 L255.9,243 L256.49,243 L257.09,243 L257.68,243 L258.28,243 L258.88,243 L259.47,243 L260.07,243 L260.67,243 L261.26,243 L261.86,243 L262.45,243 L263.05,243 L263.65,243 L264.24,243 L264.84,243 L265.44,243 L266.03,243 L266.63,243 L267.22,242.99 L267.82,242.99 L268.42,242.96 L269.01,242.9 L269.61,242.77 L270.21,242.49 L270.8,241.84 L271.4,240.89 L271.99,238.95 L272.59,237.26 L273.19,233.6 L273.78,228.6 L274.38,223.2 L274.98,218.12 L275.57,213.1 L276.17,209.28 L276.76,207.27 L277.36,208.07 L277.96,209.35 L278.55,211.88 L279.15,215.46 L279.74,220.05 L280.34,223.37 L280.94,227.78 L281.53,230.86 L282.13,233.57 L282.73,235.14 L283.32,236.99 L283.92,238.2 L284.51,238.81 L285.11,240.04 L285.71,240.29 L286.3,240.96 L286.9,241.6 L287.5,241.96 L288.09,242.4 L288.69,242.52 L289.28,242.73 L289.88,242.84 L290.48,242.91 L291.07,242.95 L291.67,242.98 L292.27,242.99 L292.86,243 L293.46,243 L294.05,243 L294.65,243 L295.25,243 L295.84,243 L296.44,243 L297.03,243 L297.63,243 L298.23,243 L298.82,243 L299.42,243 L300.02,243 L300.61,243 L301.21,243 L301.8,243 L302.4,243 L303,243 L303.59,243 L304.19,243 L304.79,243 L305.38,243 L305.98,243 L306.57,243 L307.17,243 L307.77,243 L308.36,243 L308.96,243 L309.56,243 L310.15,243 L310.75,243 L311.34,243 L311.94,243 L312.54,243 L313.13,243 L313.73,243 L314.32,243 L314.92,243 L315.52,243 L316.11,243 L316.71,243 L317.31,243 L317.9,243 L318.5,243 L319.09,243 L319.69,243 L320.29,243 L320.88,243 L321.48,243 L322.08,243 L322.67,243 L323.27,243 L323.86,243 L324.46,243 L325.06,243 L325.65,243 L326.25,243 L326.85,243 L327.44,243 L328.04,243 L328.63,243 L329.23,243 L329.83,243 L330.42,243 L331.02,243 L331.62,243 L332.21,243 L332.81,243 L333.4,243 L334,243" fill="none" stroke="#f7a43f" stroke-width="0.75" stroke-linejoin="round"/>
<line x1="281.4" y1="163.3" x2="281.4" y2="243" stroke="#231f20" stroke-width="1.05" stroke-dasharray="2.4,1.5"/>
<rect x="255.3" y="163.3" width="78.7" height="79.7" fill="none" stroke="#231f20" stroke-width="1.1"/>
<line x1="256.5" y1="243" x2="256.5" y2="245.4" stroke="#231f20" stroke-width="0.75" />
<line x1="258.33" y1="243" x2="258.33" y2="245.4" stroke="#231f20" stroke-width="0.75" />
<line x1="260.16" y1="243" x2="260.16" y2="245.4" stroke="#231f20" stroke-width="0.75" />
<line x1="261.99" y1="243" x2="261.99" y2="245.4" stroke="#231f20" stroke-width="0.75" />
<line x1="263.82" y1="243" x2="263.82" y2="245.4" stroke="#231f20" stroke-width="0.75" />
<line x1="265.65" y1="243" x2="265.65" y2="245.4" stroke="#231f20" stroke-width="0.75" />
<line x1="267.48" y1="243" x2="267.48" y2="245.4" stroke="#231f20" stroke-width="0.75" />
<line x1="269.31" y1="243" x2="269.31" y2="245.4" stroke="#231f20" stroke-width="0.75" />
<line x1="271.14" y1="243" x2="271.14" y2="245.4" stroke="#231f20" stroke-width="0.75" />
<line x1="272.98" y1="243" x2="272.98" y2="245.4" stroke="#231f20" stroke-width="0.75" />
<line x1="276.18" y1="243" x2="276.18" y2="245.4" stroke="#231f20" stroke-width="0.75" />
<line x1="278.01" y1="243" x2="278.01" y2="245.4" stroke="#231f20" stroke-width="0.75" />
<line x1="279.84" y1="243" x2="279.84" y2="245.4" stroke="#231f20" stroke-width="0.75" />
<line x1="281.67" y1="243" x2="281.67" y2="245.4" stroke="#231f20" stroke-width="0.75" />
<line x1="283.5" y1="243" x2="283.5" y2="245.4" stroke="#231f20" stroke-width="0.75" />
<line x1="285.33" y1="243" x2="285.33" y2="245.4" stroke="#231f20" stroke-width="0.75" />
<line x1="287.16" y1="243" x2="287.16" y2="245.4" stroke="#231f20" stroke-width="0.75" />
<line x1="288.99" y1="243" x2="288.99" y2="245.4" stroke="#231f20" stroke-width="0.75" />
<line x1="290.82" y1="243" x2="290.82" y2="245.4" stroke="#231f20" stroke-width="0.75" />
<line x1="292.65" y1="243" x2="292.65" y2="245.4" stroke="#231f20" stroke-width="0.75" />
<line x1="295.85" y1="243" x2="295.85" y2="245.4" stroke="#231f20" stroke-width="0.75" />
<line x1="297.68" y1="243" x2="297.68" y2="245.4" stroke="#231f20" stroke-width="0.75" />
<line x1="299.51" y1="243" x2="299.51" y2="245.4" stroke="#231f20" stroke-width="0.75" />
<line x1="301.34" y1="243" x2="301.34" y2="245.4" stroke="#231f20" stroke-width="0.75" />
<line x1="303.17" y1="243" x2="303.17" y2="245.4" stroke="#231f20" stroke-width="0.75" />
<line x1="305" y1="243" x2="305" y2="245.4" stroke="#231f20" stroke-width="0.75" />
<line x1="306.83" y1="243" x2="306.83" y2="245.4" stroke="#231f20" stroke-width="0.75" />
<line x1="308.66" y1="243" x2="308.66" y2="245.4" stroke="#231f20" stroke-width="0.75" />
<line x1="310.49" y1="243" x2="310.49" y2="245.4" stroke="#231f20" stroke-width="0.75" />
<line x1="312.32" y1="243" x2="312.32" y2="245.4" stroke="#231f20" stroke-width="0.75" />
<line x1="315.52" y1="243" x2="315.52" y2="245.4" stroke="#231f20" stroke-width="0.75" />
<line x1="317.36" y1="243" x2="317.36" y2="245.4" stroke="#231f20" stroke-width="0.75" />
<line x1="319.19" y1="243" x2="319.19" y2="245.4" stroke="#231f20" stroke-width="0.75" />
<line x1="321.02" y1="243" x2="321.02" y2="245.4" stroke="#231f20" stroke-width="0.75" />
<line x1="322.85" y1="243" x2="322.85" y2="245.4" stroke="#231f20" stroke-width="0.75" />
<line x1="324.68" y1="243" x2="324.68" y2="245.4" stroke="#231f20" stroke-width="0.75" />
<line x1="326.51" y1="243" x2="326.51" y2="245.4" stroke="#231f20" stroke-width="0.75" />
<line x1="328.34" y1="243" x2="328.34" y2="245.4" stroke="#231f20" stroke-width="0.75" />
<line x1="330.17" y1="243" x2="330.17" y2="245.4" stroke="#231f20" stroke-width="0.75" />
<line x1="332" y1="243" x2="332" y2="245.4" stroke="#231f20" stroke-width="0.75" />
<text x="327" y="172.81" font-size="5.9" text-anchor="end" fill="#c9c9c9" font-weight="normal" stroke="#c9c9c9" stroke-width="0.12" >Unstim.</text>
<text x="327" y="211.01" font-size="5.9" text-anchor="end" fill="#45b0e3" font-weight="normal" stroke="#45b0e3" stroke-width="0.12" >Stim. 21%</text>
<text x="327" y="231.21" font-size="5.9" text-anchor="end" fill="#f5a84f" font-weight="normal" stroke="#f5a84f" stroke-width="0.12" >Stim. 1%</text>
<text x="264.2" y="255.22" font-size="7.6" text-anchor="start" fill="#231f20" font-weight="normal" stroke="#231f20" stroke-width="0.25" textLength="18.4" lengthAdjust="spacingAndGlyphs" >CD107a</text>
<line x1="288.8" y1="252.5" x2="326.1" y2="252.5" stroke="#231f20" stroke-width="1.15" />
<path d="M329.1,252.5 L323.1,250.4 L324.5,252.5 L323.1,254.6 Z" fill="#231f20"/>
<text x="246.8" y="205.95" font-size="7.4" text-anchor="middle" fill="#231f20" font-weight="normal" stroke="#231f20" stroke-width="0.3" transform="rotate(-90 246.8 203.3)" textLength="25.2" lengthAdjust="spacingAndGlyphs" >% of cells</text>
<rect x="25.8" y="446.8" width="84.2" height="83.2" fill="#fff" />
<path d="M25.8,456.3 L25.8,456.3 L26.4,456.3 L26.99,456.3 L27.59,456.3 L28.19,456.3 L28.79,456.3 L29.38,456.3 L29.98,456.3 L30.58,456.3 L31.17,456.3 L31.77,456.3 L32.37,456.3 L32.97,456.3 L33.56,456.29 L34.16,456.29 L34.76,456.29 L35.35,456.29 L35.95,456.29 L36.55,456.29 L37.15,456.28 L37.74,456.26 L38.34,456.23 L38.94,456.16 L39.53,456.05 L40.13,455.85 L40.73,455.5 L41.33,455.2 L41.92,454.31 L42.52,453.77 L43.12,452.86 L43.71,451.54 L44.31,450.1 L44.91,449.1 L45.51,448.59 L46.1,447.86 L46.7,447.67 L47.3,447.96 L47.9,448.79 L48.49,449.54 L49.09,450.52 L49.69,451.9 L50.28,452.54 L50.88,453.74 L51.48,454.5 L52.08,455.12 L52.67,455.52 L53.27,455.74 L53.87,455.89 L54.46,456.01 L55.06,456.07 L55.66,456.1 L56.26,456.11 L56.85,456.11 L57.45,456.1 L58.05,456.09 L58.64,456.08 L59.24,456.07 L59.84,456.06 L60.44,456.04 L61.03,456.03 L61.63,456.02 L62.23,456 L62.82,456 L63.42,455.99 L64.02,455.94 L64.62,455.92 L65.21,455.92 L65.81,455.93 L66.41,455.88 L67,455.92 L67.6,455.87 L68.2,455.88 L68.8,455.82 L69.39,455.87 L69.99,455.85 L70.59,455.81 L71.18,455.82 L71.78,455.8 L72.38,455.75 L72.98,455.79 L73.57,455.78 L74.17,455.7 L74.77,455.71 L75.36,455.73 L75.96,455.7 L76.56,455.67 L77.16,455.73 L77.75,455.74 L78.35,455.69 L78.95,455.71 L79.54,455.65 L80.14,455.64 L80.74,455.7 L81.34,455.69 L81.93,455.76 L82.53,455.65 L83.13,455.77 L83.72,455.67 L84.32,455.78 L84.92,455.77 L85.52,455.74 L86.11,455.8 L86.71,455.76 L87.31,455.8 L87.9,455.81 L88.5,455.79 L89.1,455.85 L89.7,455.82 L90.29,455.85 L90.89,455.81 L91.49,455.88 L92.09,455.87 L92.68,455.85 L93.28,455.9 L93.88,455.93 L94.47,455.92 L95.07,455.92 L95.67,455.97 L96.27,455.98 L96.86,455.96 L97.46,455.99 L98.06,456.01 L98.65,456.02 L99.25,456.04 L99.85,456.05 L100.45,456.06 L101.04,456.08 L101.64,456.09 L102.24,456.1 L102.83,456.11 L103.43,456.12 L104.03,456.13 L104.63,456.14 L105.22,456.15 L105.82,456.16 L106.42,456.17 L107.01,456.18 L107.61,456.19 L108.21,456.2 L108.81,456.21 L109.4,456.21 L110,456.22 L110,456.3 Z" fill="#bde4f6" fill-opacity="1" stroke="none"/>
<path d="M25.8,456.3 L26.4,456.3 L26.99,456.3 L27.59,456.3 L28.19,456.3 L28.79,456.3 L29.38,456.3 L29.98,456.3 L30.58,456.3 L31.17,456.3 L31.77,456.3 L32.37,456.3 L32.97,456.3 L33.56,456.29 L34.16,456.29 L34.76,456.29 L35.35,456.29 L35.95,456.29 L36.55,456.29 L37.15,456.28 L37.74,456.26 L38.34,456.23 L38.94,456.16 L39.53,456.05 L40.13,455.85 L40.73,455.5 L41.33,455.2 L41.92,454.31 L42.52,453.77 L43.12,452.86 L43.71,451.54 L44.31,450.1 L44.91,449.1 L45.51,448.59 L46.1,447.86 L46.7,447.67 L47.3,447.96 L47.9,448.79 L48.49,449.54 L49.09,450.52 L49.69,451.9 L50.28,452.54 L50.88,453.74 L51.48,454.5 L52.08,455.12 L52.67,455.52 L53.27,455.74 L53.87,455.89 L54.46,456.01 L55.06,456.07 L55.66,456.1 L56.26,456.11 L56.85,456.11 L57.45,456.1 L58.05,456.09 L58.64,456.08 L59.24,456.07 L59.84,456.06 L60.44,456.04 L61.03,456.03 L61.63,456.02 L62.23,456 L62.82,456 L63.42,455.99 L64.02,455.94 L64.62,455.92 L65.21,455.92 L65.81,455.93 L66.41,455.88 L67,455.92 L67.6,455.87 L68.2,455.88 L68.8,455.82 L69.39,455.87 L69.99,455.85 L70.59,455.81 L71.18,455.82 L71.78,455.8 L72.38,455.75 L72.98,455.79 L73.57,455.78 L74.17,455.7 L74.77,455.71 L75.36,455.73 L75.96,455.7 L76.56,455.67 L77.16,455.73 L77.75,455.74 L78.35,455.69 L78.95,455.71 L79.54,455.65 L80.14,455.64 L80.74,455.7 L81.34,455.69 L81.93,455.76 L82.53,455.65 L83.13,455.77 L83.72,455.67 L84.32,455.78 L84.92,455.77 L85.52,455.74 L86.11,455.8 L86.71,455.76 L87.31,455.8 L87.9,455.81 L88.5,455.79 L89.1,455.85 L89.7,455.82 L90.29,455.85 L90.89,455.81 L91.49,455.88 L92.09,455.87 L92.68,455.85 L93.28,455.9 L93.88,455.93 L94.47,455.92 L95.07,455.92 L95.67,455.97 L96.27,455.98 L96.86,455.96 L97.46,455.99 L98.06,456.01 L98.65,456.02 L99.25,456.04 L99.85,456.05 L100.45,456.06 L101.04,456.08 L101.64,456.09 L102.24,456.1 L102.83,456.11 L103.43,456.12 L104.03,456.13 L104.63,456.14 L105.22,456.15 L105.82,456.16 L106.42,456.17 L107.01,456.18 L107.61,456.19 L108.21,456.2 L108.81,456.21 L109.4,456.21 L110,456.22" fill="none" stroke="#2aa5de" stroke-width="0.85" stroke-linejoin="round"/>
<path d="M25.8,466.8 L25.8,466.8 L26.4,466.8 L26.99,466.8 L27.59,466.8 L28.19,466.8 L28.79,466.8 L29.38,466.8 L29.98,466.8 L30.58,466.8 L31.17,466.8 L31.77,466.8 L32.37,466.8 L32.97,466.8 L33.56,466.8 L34.16,466.79 L34.76,466.79 L35.35,466.78 L35.95,466.75 L36.55,466.71 L37.15,466.64 L37.74,466.53 L38.34,466.33 L38.94,466.12 L39.53,465.67 L40.13,465.29 L40.73,464.47 L41.33,464.11 L41.92,462.84 L42.52,462.35 L43.12,461.61 L43.71,460.59 L44.31,459.95 L44.91,459.25 L45.51,459.15 L46.1,459.17 L46.7,459.8 L47.3,460.69 L47.9,461.05 L48.49,462.17 L49.09,463.09 L49.69,463.34 L50.28,464.59 L50.88,464.8 L51.48,465.41 L52.08,465.92 L52.67,466.13 L53.27,466.42 L53.87,466.55 L54.46,466.65 L55.06,466.71 L55.66,466.75 L56.26,466.77 L56.85,466.79 L57.45,466.79 L58.05,466.8 L58.64,466.8 L59.24,466.8 L59.84,466.8 L60.44,466.8 L61.03,466.8 L61.63,466.8 L62.23,466.8 L62.82,466.8 L63.42,466.8 L64.02,466.8 L64.62,466.8 L65.21,466.8 L65.81,466.8 L66.41,466.8 L67,466.8 L67.6,466.8 L68.2,466.8 L68.8,466.8 L69.39,466.8 L69.99,466.8 L70.59,466.8 L71.18,466.8 L71.78,466.8 L72.38,466.8 L72.98,466.8 L73.57,466.8 L74.17,466.8 L74.77,466.8 L75.36,466.8 L75.96,466.8 L76.56,466.8 L77.16,466.8 L77.75,466.8 L78.35,466.8 L78.95,466.8 L79.54,466.8 L80.14,466.8 L80.74,466.8 L81.34,466.8 L81.93,466.8 L82.53,466.8 L83.13,466.8 L83.72,466.8 L84.32,466.8 L84.92,466.8 L85.52,466.8 L86.11,466.8 L86.71,466.8 L87.31,466.8 L87.9,466.8 L88.5,466.8 L89.1,466.8 L89.7,466.8 L90.29,466.8 L90.89,466.8 L91.49,466.8 L92.09,466.8 L92.68,466.8 L93.28,466.8 L93.88,466.8 L94.47,466.8 L95.07,466.8 L95.67,466.8 L96.27,466.8 L96.86,466.8 L97.46,466.8 L98.06,466.8 L98.65,466.8 L99.25,466.8 L99.85,466.8 L100.45,466.8 L101.04,466.8 L101.64,466.8 L102.24,466.8 L102.83,466.8 L103.43,466.8 L104.03,466.8 L104.63,466.8 L105.22,466.8 L105.82,466.8 L106.42,466.8 L107.01,466.8 L107.61,466.8 L108.21,466.8 L108.81,466.8 L109.4,466.8 L110,466.8 L110,466.8 Z" fill="#fde0b6" fill-opacity="1" stroke="none"/>
<path d="M25.8,466.8 L26.4,466.8 L26.99,466.8 L27.59,466.8 L28.19,466.8 L28.79,466.8 L29.38,466.8 L29.98,466.8 L30.58,466.8 L31.17,466.8 L31.77,466.8 L32.37,466.8 L32.97,466.8 L33.56,466.8 L34.16,466.79 L34.76,466.79 L35.35,466.78 L35.95,466.75 L36.55,466.71 L37.15,466.64 L37.74,466.53 L38.34,466.33 L38.94,466.12 L39.53,465.67 L40.13,465.29 L40.73,464.47 L41.33,464.11 L41.92,462.84 L42.52,462.35 L43.12,461.61 L43.71,460.59 L44.31,459.95 L44.91,459.25 L45.51,459.15 L46.1,459.17 L46.7,459.8 L47.3,460.69 L47.9,461.05 L48.49,462.17 L49.09,463.09 L49.69,463.34 L50.28,464.59 L50.88,464.8 L51.48,465.41 L52.08,465.92 L52.67,466.13 L53.27,466.42 L53.87,466.55 L54.46,466.65 L55.06,466.71 L55.66,466.75 L56.26,466.77 L56.85,466.79 L57.45,466.79 L58.05,466.8 L58.64,466.8 L59.24,466.8 L59.84,466.8 L60.44,466.8 L61.03,466.8 L61.63,466.8 L62.23,466.8 L62.82,466.8 L63.42,466.8 L64.02,466.8 L64.62,466.8 L65.21,466.8 L65.81,466.8 L66.41,466.8 L67,466.8 L67.6,466.8 L68.2,466.8 L68.8,466.8 L69.39,466.8 L69.99,466.8 L70.59,466.8 L71.18,466.8 L71.78,466.8 L72.38,466.8 L72.98,466.8 L73.57,466.8 L74.17,466.8 L74.77,466.8 L75.36,466.8 L75.96,466.8 L76.56,466.8 L77.16,466.8 L77.75,466.8 L78.35,466.8 L78.95,466.8 L79.54,466.8 L80.14,466.8 L80.74,466.8 L81.34,466.8 L81.93,466.8 L82.53,466.8 L83.13,466.8 L83.72,466.8 L84.32,466.8 L84.92,466.8 L85.52,466.8 L86.11,466.8 L86.71,466.8 L87.31,466.8 L87.9,466.8 L88.5,466.8 L89.1,466.8 L89.7,466.8 L90.29,466.8 L90.89,466.8 L91.49,466.8 L92.09,466.8 L92.68,466.8 L93.28,466.8 L93.88,466.8 L94.47,466.8 L95.07,466.8 L95.67,466.8 L96.27,466.8 L96.86,466.8 L97.46,466.8 L98.06,466.8 L98.65,466.8 L99.25,466.8 L99.85,466.8 L100.45,466.8 L101.04,466.8 L101.64,466.8 L102.24,466.8 L102.83,466.8 L103.43,466.8 L104.03,466.8 L104.63,466.8 L105.22,466.8 L105.82,466.8 L106.42,466.8 L107.01,466.8 L107.61,466.8 L108.21,466.8 L108.81,466.8 L109.4,466.8 L110,466.8" fill="none" stroke="#f7a43f" stroke-width="0.85" stroke-linejoin="round"/>
<path d="M25.8,477.5 L25.8,477.5 L26.4,477.5 L26.99,477.5 L27.59,477.5 L28.19,477.5 L28.79,477.5 L29.38,477.5 L29.98,477.5 L30.58,477.5 L31.17,477.5 L31.77,477.5 L32.37,477.5 L32.97,477.5 L33.56,477.5 L34.16,477.5 L34.76,477.5 L35.35,477.5 L35.95,477.49 L36.55,477.49 L37.15,477.47 L37.74,477.45 L38.34,477.4 L38.94,477.31 L39.53,477.15 L40.13,476.9 L40.73,476.58 L41.33,476.06 L41.92,475.1 L42.52,474.21 L43.12,473.35 L43.71,472.17 L44.31,471.4 L44.91,470.71 L45.51,469.95 L46.1,469.9 L46.7,469.94 L47.3,470.61 L47.9,471.45 L48.49,472.24 L49.09,472.52 L49.69,473.86 L50.28,474.27 L50.88,475.05 L51.48,475.42 L52.08,475.9 L52.67,476.15 L53.27,476.41 L53.87,476.41 L54.46,476.51 L55.06,476.53 L55.66,476.51 L56.26,476.44 L56.85,476.27 L57.45,476.3 L58.05,476.03 L58.64,476.05 L59.24,475.97 L59.84,475.84 L60.44,475.75 L61.03,475.66 L61.63,475.77 L62.23,475.79 L62.82,475.67 L63.42,475.76 L64.02,475.82 L64.62,475.77 L65.21,475.49 L65.81,475.74 L66.41,475.45 L67,475.55 L67.6,475.58 L68.2,475.56 L68.8,475.5 L69.39,475.35 L69.99,475.28 L70.59,475.42 L71.18,475.41 L71.78,475.13 L72.38,475.19 L72.98,475.01 L73.57,474.88 L74.17,474.97 L74.77,474.88 L75.36,474.66 L75.96,474.87 L76.56,474.81 L77.16,474.36 L77.75,474.33 L78.35,474.57 L78.95,474.43 L79.54,474.62 L80.14,474.61 L80.74,474.32 L81.34,474.15 L81.93,474.1 L82.53,474.33 L83.13,474.43 L83.72,474.43 L84.32,474.27 L84.92,474.13 L85.52,474.5 L86.11,474.75 L86.71,474.71 L87.31,474.87 L87.9,474.77 L88.5,474.68 L89.1,474.78 L89.7,475.14 L90.29,475.02 L90.89,475.11 L91.49,474.97 L92.09,475.25 L92.68,475.15 L93.28,475.34 L93.88,475.46 L94.47,475.78 L95.07,475.69 L95.67,475.95 L96.27,475.81 L96.86,475.9 L97.46,475.98 L98.06,476.07 L98.65,476.23 L99.25,476.38 L99.85,476.34 L100.45,476.53 L101.04,476.63 L101.64,476.65 L102.24,476.78 L102.83,476.79 L103.43,476.89 L104.03,476.95 L104.63,476.94 L105.22,476.99 L105.82,477.06 L106.42,477.1 L107.01,477.17 L107.61,477.18 L108.21,477.21 L108.81,477.24 L109.4,477.26 L110,477.29 L110,477.5 Z" fill="#bde4f6" fill-opacity="1" stroke="none"/>
<path d="M25.8,477.5 L26.4,477.5 L26.99,477.5 L27.59,477.5 L28.19,477.5 L28.79,477.5 L29.38,477.5 L29.98,477.5 L30.58,477.5 L31.17,477.5 L31.77,477.5 L32.37,477.5 L32.97,477.5 L33.56,477.5 L34.16,477.5 L34.76,477.5 L35.35,477.5 L35.95,477.49 L36.55,477.49 L37.15,477.47 L37.74,477.45 L38.34,477.4 L38.94,477.31 L39.53,477.15 L40.13,476.9 L40.73,476.58 L41.33,476.06 L41.92,475.1 L42.52,474.21 L43.12,473.35 L43.71,472.17 L44.31,471.4 L44.91,470.71 L45.51,469.95 L46.1,469.9 L46.7,469.94 L47.3,470.61 L47.9,471.45 L48.49,472.24 L49.09,472.52 L49.69,473.86 L50.28,474.27 L50.88,475.05 L51.48,475.42 L52.08,475.9 L52.67,476.15 L53.27,476.41 L53.87,476.41 L54.46,476.51 L55.06,476.53 L55.66,476.51 L56.26,476.44 L56.85,476.27 L57.45,476.3 L58.05,476.03 L58.64,476.05 L59.24,475.97 L59.84,475.84 L60.44,475.75 L61.03,475.66 L61.63,475.77 L62.23,475.79 L62.82,475.67 L63.42,475.76 L64.02,475.82 L64.62,475.77 L65.21,475.49 L65.81,475.74 L66.41,475.45 L67,475.55 L67.6,475.58 L68.2,475.56 L68.8,475.5 L69.39,475.35 L69.99,475.28 L70.59,475.42 L71.18,475.41 L71.78,475.13 L72.38,475.19 L72.98,475.01 L73.57,474.88 L74.17,474.97 L74.77,474.88 L75.36,474.66 L75.96,474.87 L76.56,474.81 L77.16,474.36 L77.75,474.33 L78.35,474.57 L78.95,474.43 L79.54,474.62 L80.14,474.61 L80.74,474.32 L81.34,474.15 L81.93,474.1 L82.53,474.33 L83.13,474.43 L83.72,474.43 L84.32,474.27 L84.92,474.13 L85.52,474.5 L86.11,474.75 L86.71,474.71 L87.31,474.87 L87.9,474.77 L88.5,474.68 L89.1,474.78 L89.7,475.14 L90.29,475.02 L90.89,475.11 L91.49,474.97 L92.09,475.25 L92.68,475.15 L93.28,475.34 L93.88,475.46 L94.47,475.78 L95.07,475.69 L95.67,475.95 L96.27,475.81 L96.86,475.9 L97.46,475.98 L98.06,476.07 L98.65,476.23 L99.25,476.38 L99.85,476.34 L100.45,476.53 L101.04,476.63 L101.64,476.65 L102.24,476.78 L102.83,476.79 L103.43,476.89 L104.03,476.95 L104.63,476.94 L105.22,476.99 L105.82,477.06 L106.42,477.1 L107.01,477.17 L107.61,477.18 L108.21,477.21 L108.81,477.24 L109.4,477.26 L110,477.29" fill="none" stroke="#2aa5de" stroke-width="0.85" stroke-linejoin="round"/>
<path d="M25.8,488 L25.8,488 L26.4,488 L26.99,488 L27.59,488 L28.19,488 L28.79,488 L29.38,488 L29.98,488 L30.58,488 L31.17,488 L31.77,488 L32.37,488 L32.97,488 L33.56,488 L34.16,487.99 L34.76,487.99 L35.35,487.97 L35.95,487.95 L36.55,487.91 L37.15,487.84 L37.74,487.73 L38.34,487.59 L38.94,487.29 L39.53,486.99 L40.13,486.43 L40.73,486.03 L41.33,485.34 L41.92,484.29 L42.52,483.61 L43.12,482.68 L43.71,481.52 L44.31,481.08 L44.91,480.8 L45.51,480.74 L46.1,480.82 L46.7,481.19 L47.3,481.66 L47.9,482.33 L48.49,482.81 L49.09,483.85 L49.69,484.45 L50.28,485.68 L50.88,486.1 L51.48,486.65 L52.08,486.94 L52.67,487.28 L53.27,487.4 L53.87,487.5 L54.46,487.64 L55.06,487.63 L55.66,487.67 L56.26,487.65 L56.85,487.65 L57.45,487.6 L58.05,487.61 L58.64,487.59 L59.24,487.55 L59.84,487.54 L60.44,487.53 L61.03,487.47 L61.63,487.45 L62.23,487.38 L62.82,487.41 L63.42,487.32 L64.02,487.3 L64.62,487.34 L65.21,487.24 L65.81,487.2 L66.41,487.28 L67,487.18 L67.6,487.28 L68.2,487.2 L68.8,487.28 L69.39,487.18 L69.99,487.25 L70.59,487.19 L71.18,487.26 L71.78,487.27 L72.38,487.24 L72.98,487.22 L73.57,487.27 L74.17,487.24 L74.77,487.32 L75.36,487.31 L75.96,487.32 L76.56,487.38 L77.16,487.37 L77.75,487.44 L78.35,487.44 L78.95,487.46 L79.54,487.48 L80.14,487.51 L80.74,487.53 L81.34,487.56 L81.93,487.59 L82.53,487.65 L83.13,487.65 L83.72,487.7 L84.32,487.71 L84.92,487.74 L85.52,487.76 L86.11,487.78 L86.71,487.8 L87.31,487.82 L87.9,487.84 L88.5,487.86 L89.1,487.87 L89.7,487.89 L90.29,487.9 L90.89,487.91 L91.49,487.92 L92.09,487.93 L92.68,487.94 L93.28,487.95 L93.88,487.95 L94.47,487.96 L95.07,487.97 L95.67,487.97 L96.27,487.97 L96.86,487.98 L97.46,487.98 L98.06,487.98 L98.65,487.99 L99.25,487.99 L99.85,487.99 L100.45,487.99 L101.04,487.99 L101.64,487.99 L102.24,488 L102.83,488 L103.43,488 L104.03,488 L104.63,488 L105.22,488 L105.82,488 L106.42,488 L107.01,488 L107.61,488 L108.21,488 L108.81,488 L109.4,488 L110,488 L110,488 Z" fill="#fde0b6" fill-opacity="1" stroke="none"/>
<path d="M25.8,488 L26.4,488 L26.99,488 L27.59,488 L28.19,488 L28.79,488 L29.38,488 L29.98,488 L30.58,488 L31.17,488 L31.77,488 L32.37,488 L32.97,488 L33.56,488 L34.16,487.99 L34.76,487.99 L35.35,487.97 L35.95,487.95 L36.55,487.91 L37.15,487.84 L37.74,487.73 L38.34,487.59 L38.94,487.29 L39.53,486.99 L40.13,486.43 L40.73,486.03 L41.33,485.34 L41.92,484.29 L42.52,483.61 L43.12,482.68 L43.71,481.52 L44.31,481.08 L44.91,480.8 L45.51,480.74 L46.1,480.82 L46.7,481.19 L47.3,481.66 L47.9,482.33 L48.49,482.81 L49.09,483.85 L49.69,484.45 L50.28,485.68 L50.88,486.1 L51.48,486.65 L52.08,486.94 L52.67,487.28 L53.27,487.4 L53.87,487.5 L54.46,487.64 L55.06,487.63 L55.66,487.67 L56.26,487.65 L56.85,487.65 L57.45,487.6 L58.05,487.61 L58.64,487.59 L59.24,487.55 L59.84,487.54 L60.44,487.53 L61.03,487.47 L61.63,487.45 L62.23,487.38 L62.82,487.41 L63.42,487.32 L64.02,487.3 L64.62,487.34 L65.21,487.24 L65.81,487.2 L66.41,487.28 L67,487.18 L67.6,487.28 L68.2,487.2 L68.8,487.28 L69.39,487.18 L69.99,487.25 L70.59,487.19 L71.18,487.26 L71.78,487.27 L72.38,487.24 L72.98,487.22 L73.57,487.27 L74.17,487.24 L74.77,487.32 L75.36,487.31 L75.96,487.32 L76.56,487.38 L77.16,487.37 L77.75,487.44 L78.35,487.44 L78.95,487.46 L79.54,487.48 L80.14,487.51 L80.74,487.53 L81.34,487.56 L81.93,487.59 L82.53,487.65 L83.13,487.65 L83.72,487.7 L84.32,487.71 L84.92,487.74 L85.52,487.76 L86.11,487.78 L86.71,487.8 L87.31,487.82 L87.9,487.84 L88.5,487.86 L89.1,487.87 L89.7,487.89 L90.29,487.9 L90.89,487.91 L91.49,487.92 L92.09,487.93 L92.68,487.94 L93.28,487.95 L93.88,487.95 L94.47,487.96 L95.07,487.97 L95.67,487.97 L96.27,487.97 L96.86,487.98 L97.46,487.98 L98.06,487.98 L98.65,487.99 L99.25,487.99 L99.85,487.99 L100.45,487.99 L101.04,487.99 L101.64,487.99 L102.24,488 L102.83,488 L103.43,488 L104.03,488 L104.63,488 L105.22,488 L105.82,488 L106.42,488 L107.01,488 L107.61,488 L108.21,488 L108.81,488 L109.4,488 L110,488" fill="none" stroke="#f7a43f" stroke-width="0.85" stroke-linejoin="round"/>
<path d="M25.8,498.3 L25.8,498.3 L26.4,498.3 L26.99,498.3 L27.59,498.3 L28.19,498.3 L28.79,498.3 L29.38,498.3 L29.98,498.3 L30.58,498.3 L31.17,498.3 L31.77,498.3 L32.37,498.3 L32.97,498.3 L33.56,498.3 L34.16,498.3 L34.76,498.3 L35.35,498.3 L35.95,498.29 L36.55,498.29 L37.15,498.27 L37.74,498.25 L38.34,498.2 L38.94,498.11 L39.53,497.92 L40.13,497.73 L40.73,497.39 L41.33,496.77 L41.92,496.21 L42.52,494.92 L43.12,494.08 L43.71,493.32 L44.31,492.23 L44.91,491.53 L45.51,491.1 L46.1,490.84 L46.7,490.75 L47.3,491.58 L47.9,491.98 L48.49,492.85 L49.09,493.45 L49.69,494.88 L50.28,495.45 L50.88,496.06 L51.48,496.6 L52.08,497.1 L52.67,497.4 L53.27,497.56 L53.87,497.69 L54.46,497.76 L55.06,497.73 L55.66,497.77 L56.26,497.68 L56.85,497.69 L57.45,497.56 L58.05,497.55 L58.64,497.47 L59.24,497.51 L59.84,497.39 L60.44,497.34 L61.03,497.27 L61.63,497.11 L62.23,497.11 L62.82,497.19 L63.42,497.05 L64.02,497.04 L64.62,497.09 L65.21,497.03 L65.81,497 L66.41,496.7 L67,496.86 L67.6,496.76 L68.2,496.79 L68.8,496.81 L69.39,496.53 L69.99,496.63 L70.59,496.55 L71.18,496.53 L71.78,496.35 L72.38,496.27 L72.98,496.45 L73.57,496.34 L74.17,496.19 L74.77,496.16 L75.36,495.92 L75.96,496.17 L76.56,496.15 L77.16,496.02 L77.75,495.84 L78.35,496 L78.95,495.92 L79.54,495.5 L80.14,495.68 L80.74,495.44 L81.34,495.62 L81.93,495.53 L82.53,495.22 L83.13,495.49 L83.72,495.66 L84.32,495.62 L84.92,495.38 L85.52,495.42 L86.11,495.23 L86.71,495.63 L87.31,495.67 L87.9,495.52 L88.5,495.52 L89.1,495.52 L89.7,496 L90.29,495.68 L90.89,495.82 L91.49,496.11 L92.09,495.97 L92.68,496.29 L93.28,496.15 L93.88,496.36 L94.47,496.66 L95.07,496.56 L95.67,496.67 L96.27,496.7 L96.86,496.99 L97.46,497.06 L98.06,497.07 L98.65,497.1 L99.25,497.38 L99.85,497.37 L100.45,497.38 L101.04,497.53 L101.64,497.64 L102.24,497.62 L102.83,497.77 L103.43,497.75 L104.03,497.81 L104.63,497.86 L105.22,497.95 L105.82,497.99 L106.42,498.02 L107.01,498.05 L107.61,498.08 L108.21,498.11 L108.81,498.14 L109.4,498.16 L110,498.18 L110,498.3 Z" fill="#bde4f6" fill-opacity="1" stroke="none"/>
<path d="M25.8,498.3 L26.4,498.3 L26.99,498.3 L27.59,498.3 L28.19,498.3 L28.79,498.3 L29.38,498.3 L29.98,498.3 L30.58,498.3 L31.17,498.3 L31.77,498.3 L32.37,498.3 L32.97,498.3 L33.56,498.3 L34.16,498.3 L34.76,498.3 L35.35,498.3 L35.95,498.29 L36.55,498.29 L37.15,498.27 L37.74,498.25 L38.34,498.2 L38.94,498.11 L39.53,497.92 L40.13,497.73 L40.73,497.39 L41.33,496.77 L41.92,496.21 L42.52,494.92 L43.12,494.08 L43.71,493.32 L44.31,492.23 L44.91,491.53 L45.51,491.1 L46.1,490.84 L46.7,490.75 L47.3,491.58 L47.9,491.98 L48.49,492.85 L49.09,493.45 L49.69,494.88 L50.28,495.45 L50.88,496.06 L51.48,496.6 L52.08,497.1 L52.67,497.4 L53.27,497.56 L53.87,497.69 L54.46,497.76 L55.06,497.73 L55.66,497.77 L56.26,497.68 L56.85,497.69 L57.45,497.56 L58.05,497.55 L58.64,497.47 L59.24,497.51 L59.84,497.39 L60.44,497.34 L61.03,497.27 L61.63,497.11 L62.23,497.11 L62.82,497.19 L63.42,497.05 L64.02,497.04 L64.62,497.09 L65.21,497.03 L65.81,497 L66.41,496.7 L67,496.86 L67.6,496.76 L68.2,496.79 L68.8,496.81 L69.39,496.53 L69.99,496.63 L70.59,496.55 L71.18,496.53 L71.78,496.35 L72.38,496.27 L72.98,496.45 L73.57,496.34 L74.17,496.19 L74.77,496.16 L75.36,495.92 L75.96,496.17 L76.56,496.15 L77.16,496.02 L77.75,495.84 L78.35,496 L78.95,495.92 L79.54,495.5 L80.14,495.68 L80.74,495.44 L81.34,495.62 L81.93,495.53 L82.53,495.22 L83.13,495.49 L83.72,495.66 L84.32,495.62 L84.92,495.38 L85.52,495.42 L86.11,495.23 L86.71,495.63 L87.31,495.67 L87.9,495.52 L88.5,495.52 L89.1,495.52 L89.7,496 L90.29,495.68 L90.89,495.82 L91.49,496.11 L92.09,495.97 L92.68,496.29 L93.28,496.15 L93.88,496.36 L94.47,496.66 L95.07,496.56 L95.67,496.67 L96.27,496.7 L96.86,496.99 L97.46,497.06 L98.06,497.07 L98.65,497.1 L99.25,497.38 L99.85,497.37 L100.45,497.38 L101.04,497.53 L101.64,497.64 L102.24,497.62 L102.83,497.77 L103.43,497.75 L104.03,497.81 L104.63,497.86 L105.22,497.95 L105.82,497.99 L106.42,498.02 L107.01,498.05 L107.61,498.08 L108.21,498.11 L108.81,498.14 L109.4,498.16 L110,498.18" fill="none" stroke="#2aa5de" stroke-width="0.85" stroke-linejoin="round"/>
<path d="M25.8,508.8 L25.8,508.8 L26.4,508.8 L26.99,508.8 L27.59,508.8 L28.19,508.8 L28.79,508.8 L29.38,508.8 L29.98,508.8 L30.58,508.8 L31.17,508.8 L31.77,508.8 L32.37,508.8 L32.97,508.8 L33.56,508.8 L34.16,508.79 L34.76,508.78 L35.35,508.77 L35.95,508.75 L36.55,508.7 L37.15,508.64 L37.74,508.52 L38.34,508.35 L38.94,508.03 L39.53,507.8 L40.13,507.24 L40.73,506.71 L41.33,505.86 L41.92,505.01 L42.52,504.24 L43.12,503.24 L43.71,502.54 L44.31,501.55 L44.91,501.27 L45.51,501.02 L46.1,501.24 L46.7,501.59 L47.3,501.92 L47.9,502.48 L48.49,503.34 L49.09,504.18 L49.69,504.71 L50.28,505.79 L50.88,506.41 L51.48,506.71 L52.08,506.94 L52.67,507.38 L53.27,507.5 L53.87,507.76 L54.46,507.75 L55.06,507.87 L55.66,507.89 L56.26,507.75 L56.85,507.76 L57.45,507.72 L58.05,507.79 L58.64,507.73 L59.24,507.73 L59.84,507.69 L60.44,507.66 L61.03,507.72 L61.63,507.49 L62.23,507.54 L62.82,507.68 L63.42,507.67 L64.02,507.71 L64.62,507.74 L65.21,507.7 L65.81,507.79 L66.41,507.7 L67,507.84 L67.6,507.91 L68.2,507.88 L68.8,507.96 L69.39,508 L69.99,508.08 L70.59,508.17 L71.18,508.2 L71.78,508.25 L72.38,508.33 L72.98,508.33 L73.57,508.38 L74.17,508.46 L74.77,508.49 L75.36,508.5 L75.96,508.54 L76.56,508.57 L77.16,508.6 L77.75,508.63 L78.35,508.65 L78.95,508.67 L79.54,508.69 L80.14,508.71 L80.74,508.72 L81.34,508.74 L81.93,508.75 L82.53,508.76 L83.13,508.76 L83.72,508.77 L84.32,508.78 L84.92,508.78 L85.52,508.78 L86.11,508.79 L86.71,508.79 L87.31,508.79 L87.9,508.79 L88.5,508.8 L89.1,508.8 L89.7,508.8 L90.29,508.8 L90.89,508.8 L91.49,508.8 L92.09,508.8 L92.68,508.8 L93.28,508.8 L93.88,508.8 L94.47,508.8 L95.07,508.8 L95.67,508.8 L96.27,508.8 L96.86,508.8 L97.46,508.8 L98.06,508.8 L98.65,508.8 L99.25,508.8 L99.85,508.8 L100.45,508.8 L101.04,508.8 L101.64,508.8 L102.24,508.8 L102.83,508.8 L103.43,508.8 L104.03,508.8 L104.63,508.8 L105.22,508.8 L105.82,508.8 L106.42,508.8 L107.01,508.8 L107.61,508.8 L108.21,508.8 L108.81,508.8 L109.4,508.8 L110,508.8 L110,508.8 Z" fill="#fde0b6" fill-opacity="1" stroke="none"/>
<path d="M25.8,508.8 L26.4,508.8 L26.99,508.8 L27.59,508.8 L28.19,508.8 L28.79,508.8 L29.38,508.8 L29.98,508.8 L30.58,508.8 L31.17,508.8 L31.77,508.8 L32.37,508.8 L32.97,508.8 L33.56,508.8 L34.16,508.79 L34.76,508.78 L35.35,508.77 L35.95,508.75 L36.55,508.7 L37.15,508.64 L37.74,508.52 L38.34,508.35 L38.94,508.03 L39.53,507.8 L40.13,507.24 L40.73,506.71 L41.33,505.86 L41.92,505.01 L42.52,504.24 L43.12,503.24 L43.71,502.54 L44.31,501.55 L44.91,501.27 L45.51,501.02 L46.1,501.24 L46.7,501.59 L47.3,501.92 L47.9,502.48 L48.49,503.34 L49.09,504.18 L49.69,504.71 L50.28,505.79 L50.88,506.41 L51.48,506.71 L52.08,506.94 L52.67,507.38 L53.27,507.5 L53.87,507.76 L54.46,507.75 L55.06,507.87 L55.66,507.89 L56.26,507.75 L56.85,507.76 L57.45,507.72 L58.05,507.79 L58.64,507.73 L59.24,507.73 L59.84,507.69 L60.44,507.66 L61.03,507.72 L61.63,507.49 L62.23,507.54 L62.82,507.68 L63.42,507.67 L64.02,507.71 L64.62,507.74 L65.21,507.7 L65.81,507.79 L66.41,507.7 L67,507.84 L67.6,507.91 L68.2,507.88 L68.8,507.96 L69.39,508 L69.99,508.08 L70.59,508.17 L71.18,508.2 L71.78,508.25 L72.38,508.33 L72.98,508.33 L73.57,508.38 L74.17,508.46 L74.77,508.49 L75.36,508.5 L75.96,508.54 L76.56,508.57 L77.16,508.6 L77.75,508.63 L78.35,508.65 L78.95,508.67 L79.54,508.69 L80.14,508.71 L80.74,508.72 L81.34,508.74 L81.93,508.75 L82.53,508.76 L83.13,508.76 L83.72,508.77 L84.32,508.78 L84.92,508.78 L85.52,508.78 L86.11,508.79 L86.71,508.79 L87.31,508.79 L87.9,508.79 L88.5,508.8 L89.1,508.8 L89.7,508.8 L90.29,508.8 L90.89,508.8 L91.49,508.8 L92.09,508.8 L92.68,508.8 L93.28,508.8 L93.88,508.8 L94.47,508.8 L95.07,508.8 L95.67,508.8 L96.27,508.8 L96.86,508.8 L97.46,508.8 L98.06,508.8 L98.65,508.8 L99.25,508.8 L99.85,508.8 L100.45,508.8 L101.04,508.8 L101.64,508.8 L102.24,508.8 L102.83,508.8 L103.43,508.8 L104.03,508.8 L104.63,508.8 L105.22,508.8 L105.82,508.8 L106.42,508.8 L107.01,508.8 L107.61,508.8 L108.21,508.8 L108.81,508.8 L109.4,508.8 L110,508.8" fill="none" stroke="#f7a43f" stroke-width="0.85" stroke-linejoin="round"/>
<path d="M25.8,519.5 L25.8,519.5 L26.4,519.5 L26.99,519.5 L27.59,519.5 L28.19,519.5 L28.79,519.5 L29.38,519.5 L29.98,519.5 L30.58,519.5 L31.17,519.5 L31.77,519.49 L32.37,519.49 L32.97,519.49 L33.56,519.49 L34.16,519.49 L34.76,519.49 L35.35,519.48 L35.95,519.48 L36.55,519.46 L37.15,519.44 L37.74,519.39 L38.34,519.32 L38.94,519.2 L39.53,519.01 L40.13,518.75 L40.73,518.36 L41.33,517.88 L41.92,517.2 L42.52,516.45 L43.12,515.66 L43.71,514.7 L44.31,513.84 L44.91,513.62 L45.51,513.05 L46.1,512.68 L46.7,513.27 L47.3,513.55 L47.9,514.12 L48.49,514.95 L49.09,515.62 L49.69,516.18 L50.28,517.13 L50.88,517.38 L51.48,518.07 L52.08,518.5 L52.67,518.7 L53.27,518.83 L53.87,518.95 L54.46,519.01 L55.06,519.02 L55.66,519.06 L56.26,519.06 L56.85,519.04 L57.45,519.05 L58.05,519.03 L58.64,519 L59.24,518.92 L59.84,518.92 L60.44,518.87 L61.03,518.9 L61.63,518.87 L62.23,518.82 L62.82,518.84 L63.42,518.83 L64.02,518.84 L64.62,518.81 L65.21,518.81 L65.81,518.7 L66.41,518.7 L67,518.75 L67.6,518.77 L68.2,518.64 L68.8,518.71 L69.39,518.69 L69.99,518.71 L70.59,518.64 L71.18,518.7 L71.78,518.73 L72.38,518.68 L72.98,518.71 L73.57,518.7 L74.17,518.8 L74.77,518.74 L75.36,518.83 L75.96,518.79 L76.56,518.86 L77.16,518.85 L77.75,518.84 L78.35,518.9 L78.95,518.92 L79.54,518.92 L80.14,518.92 L80.74,518.99 L81.34,519.01 L81.93,519.04 L82.53,519.07 L83.13,519.07 L83.72,519.11 L84.32,519.12 L84.92,519.12 L85.52,519.17 L86.11,519.16 L86.71,519.17 L87.31,519.22 L87.9,519.24 L88.5,519.26 L89.1,519.27 L89.7,519.29 L90.29,519.31 L90.89,519.32 L91.49,519.34 L92.09,519.35 L92.68,519.37 L93.28,519.38 L93.88,519.39 L94.47,519.4 L95.07,519.41 L95.67,519.42 L96.27,519.43 L96.86,519.43 L97.46,519.44 L98.06,519.45 L98.65,519.45 L99.25,519.46 L99.85,519.46 L100.45,519.47 L101.04,519.47 L101.64,519.48 L102.24,519.48 L102.83,519.48 L103.43,519.48 L104.03,519.49 L104.63,519.49 L105.22,519.49 L105.82,519.49 L106.42,519.49 L107.01,519.49 L107.61,519.49 L108.21,519.49 L108.81,519.5 L109.4,519.5 L110,519.5 L110,519.5 Z" fill="#bde4f6" fill-opacity="1" stroke="none"/>
<path d="M25.8,519.5 L26.4,519.5 L26.99,519.5 L27.59,519.5 L28.19,519.5 L28.79,519.5 L29.38,519.5 L29.98,519.5 L30.58,519.5 L31.17,519.5 L31.77,519.49 L32.37,519.49 L32.97,519.49 L33.56,519.49 L34.16,519.49 L34.76,519.49 L35.35,519.48 L35.95,519.48 L36.55,519.46 L37.15,519.44 L37.74,519.39 L38.34,519.32 L38.94,519.2 L39.53,519.01 L40.13,518.75 L40.73,518.36 L41.33,517.88 L41.92,517.2 L42.52,516.45 L43.12,515.66 L43.71,514.7 L44.31,513.84 L44.91,513.62 L45.51,513.05 L46.1,512.68 L46.7,513.27 L47.3,513.55 L47.9,514.12 L48.49,514.95 L49.09,515.62 L49.69,516.18 L50.28,517.13 L50.88,517.38 L51.48,518.07 L52.08,518.5 L52.67,518.7 L53.27,518.83 L53.87,518.95 L54.46,519.01 L55.06,519.02 L55.66,519.06 L56.26,519.06 L56.85,519.04 L57.45,519.05 L58.05,519.03 L58.64,519 L59.24,518.92 L59.84,518.92 L60.44,518.87 L61.03,518.9 L61.63,518.87 L62.23,518.82 L62.82,518.84 L63.42,518.83 L64.02,518.84 L64.62,518.81 L65.21,518.81 L65.81,518.7 L66.41,518.7 L67,518.75 L67.6,518.77 L68.2,518.64 L68.8,518.71 L69.39,518.69 L69.99,518.71 L70.59,518.64 L71.18,518.7 L71.78,518.73 L72.38,518.68 L72.98,518.71 L73.57,518.7 L74.17,518.8 L74.77,518.74 L75.36,518.83 L75.96,518.79 L76.56,518.86 L77.16,518.85 L77.75,518.84 L78.35,518.9 L78.95,518.92 L79.54,518.92 L80.14,518.92 L80.74,518.99 L81.34,519.01 L81.93,519.04 L82.53,519.07 L83.13,519.07 L83.72,519.11 L84.32,519.12 L84.92,519.12 L85.52,519.17 L86.11,519.16 L86.71,519.17 L87.31,519.22 L87.9,519.24 L88.5,519.26 L89.1,519.27 L89.7,519.29 L90.29,519.31 L90.89,519.32 L91.49,519.34 L92.09,519.35 L92.68,519.37 L93.28,519.38 L93.88,519.39 L94.47,519.4 L95.07,519.41 L95.67,519.42 L96.27,519.43 L96.86,519.43 L97.46,519.44 L98.06,519.45 L98.65,519.45 L99.25,519.46 L99.85,519.46 L100.45,519.47 L101.04,519.47 L101.64,519.48 L102.24,519.48 L102.83,519.48 L103.43,519.48 L104.03,519.49 L104.63,519.49 L105.22,519.49 L105.82,519.49 L106.42,519.49 L107.01,519.49 L107.61,519.49 L108.21,519.49 L108.81,519.5 L109.4,519.5 L110,519.5" fill="none" stroke="#2aa5de" stroke-width="0.85" stroke-linejoin="round"/>
<path d="M25.8,530 L25.8,530 L26.4,530 L26.99,530 L27.59,530 L28.19,530 L28.79,530 L29.38,530 L29.98,530 L30.58,530 L31.17,530 L31.77,530 L32.37,530 L32.97,530 L33.56,530 L34.16,530 L34.76,529.99 L35.35,529.99 L35.95,529.97 L36.55,529.95 L37.15,529.9 L37.74,529.83 L38.34,529.71 L38.94,529.51 L39.53,529.3 L40.13,528.95 L40.73,528.45 L41.33,527.84 L41.92,527.26 L42.52,525.95 L43.12,525.49 L43.71,524.64 L44.31,523.31 L44.91,523.08 L45.51,522.83 L46.1,522.31 L46.7,522.92 L47.3,523.44 L47.9,523.86 L48.49,524.39 L49.09,525.81 L49.69,526.24 L50.28,527.33 L50.88,528.03 L51.48,528.57 L52.08,529.02 L52.67,529.31 L53.27,529.61 L53.87,529.76 L54.46,529.86 L55.06,529.92 L55.66,529.96 L56.26,529.98 L56.85,529.99 L57.45,529.99 L58.05,530 L58.64,530 L59.24,530 L59.84,530 L60.44,530 L61.03,530 L61.63,530 L62.23,530 L62.82,530 L63.42,530 L64.02,530 L64.62,530 L65.21,530 L65.81,530 L66.41,530 L67,530 L67.6,530 L68.2,530 L68.8,530 L69.39,530 L69.99,530 L70.59,530 L71.18,530 L71.78,530 L72.38,530 L72.98,530 L73.57,530 L74.17,530 L74.77,530 L75.36,530 L75.96,530 L76.56,530 L77.16,530 L77.75,530 L78.35,530 L78.95,530 L79.54,530 L80.14,530 L80.74,530 L81.34,530 L81.93,530 L82.53,530 L83.13,530 L83.72,530 L84.32,530 L84.92,530 L85.52,530 L86.11,530 L86.71,530 L87.31,530 L87.9,530 L88.5,530 L89.1,530 L89.7,530 L90.29,530 L90.89,530 L91.49,530 L92.09,530 L92.68,530 L93.28,530 L93.88,530 L94.47,530 L95.07,530 L95.67,530 L96.27,530 L96.86,530 L97.46,530 L98.06,530 L98.65,530 L99.25,530 L99.85,530 L100.45,530 L101.04,530 L101.64,530 L102.24,530 L102.83,530 L103.43,530 L104.03,530 L104.63,530 L105.22,530 L105.82,530 L106.42,530 L107.01,530 L107.61,530 L108.21,530 L108.81,530 L109.4,530 L110,530 L110,530 Z" fill="#fde0b6" fill-opacity="1" stroke="none"/>
<path d="M25.8,530 L26.4,530 L26.99,530 L27.59,530 L28.19,530 L28.79,530 L29.38,530 L29.98,530 L30.58,530 L31.17,530 L31.77,530 L32.37,530 L32.97,530 L33.56,530 L34.16,530 L34.76,529.99 L35.35,529.99 L35.95,529.97 L36.55,529.95 L37.15,529.9 L37.74,529.83 L38.34,529.71 L38.94,529.51 L39.53,529.3 L40.13,528.95 L40.73,528.45 L41.33,527.84 L41.92,527.26 L42.52,525.95 L43.12,525.49 L43.71,524.64 L44.31,523.31 L44.91,523.08 L45.51,522.83 L46.1,522.31 L46.7,522.92 L47.3,523.44 L47.9,523.86 L48.49,524.39 L49.09,525.81 L49.69,526.24 L50.28,527.33 L50.88,528.03 L51.48,528.57 L52.08,529.02 L52.67,529.31 L53.27,529.61 L53.87,529.76 L54.46,529.86 L55.06,529.92 L55.66,529.96 L56.26,529.98 L56.85,529.99 L57.45,529.99 L58.05,530 L58.64,530 L59.24,530 L59.84,530 L60.44,530 L61.03,530 L61.63,530 L62.23,530 L62.82,530 L63.42,530 L64.02,530 L64.62,530 L65.21,530 L65.81,530 L66.41,530 L67,530 L67.6,530 L68.2,530 L68.8,530 L69.39,530 L69.99,530 L70.59,530 L71.18,530 L71.78,530 L72.38,530 L72.98,530 L73.57,530 L74.17,530 L74.77,530 L75.36,530 L75.96,530 L76.56,530 L77.16,530 L77.75,530 L78.35,530 L78.95,530 L79.54,530 L80.14,530 L80.74,530 L81.34,530 L81.93,530 L82.53,530 L83.13,530 L83.72,530 L84.32,530 L84.92,530 L85.52,530 L86.11,530 L86.71,530 L87.31,530 L87.9,530 L88.5,530 L89.1,530 L89.7,530 L90.29,530 L90.89,530 L91.49,530 L92.09,530 L92.68,530 L93.28,530 L93.88,530 L94.47,530 L95.07,530 L95.67,530 L96.27,530 L96.86,530 L97.46,530 L98.06,530 L98.65,530 L99.25,530 L99.85,530 L100.45,530 L101.04,530 L101.64,530 L102.24,530 L102.83,530 L103.43,530 L104.03,530 L104.63,530 L105.22,530 L105.82,530 L106.42,530 L107.01,530 L107.61,530 L108.21,530 L108.81,530 L109.4,530 L110,530" fill="none" stroke="#f7a43f" stroke-width="0.85" stroke-linejoin="round"/>
<text x="108" y="453.61" font-size="5.9" text-anchor="end" fill="#45b0e3" font-weight="normal" stroke="#45b0e3" stroke-width="0.12" >Naive 21%</text>
<text x="108" y="464.11" font-size="5.9" text-anchor="end" fill="#f5a84f" font-weight="normal" stroke="#f5a84f" stroke-width="0.12" >Naive 1%</text>
<text x="108" y="474.81" font-size="5.9" text-anchor="end" fill="#45b0e3" font-weight="normal" stroke="#45b0e3" stroke-width="0.12" >CM 21%</text>
<text x="108" y="485.31" font-size="5.9" text-anchor="end" fill="#f5a84f" font-weight="normal" stroke="#f5a84f" stroke-width="0.12" >CM 1%</text>
<text x="108" y="495.61" font-size="5.9" text-anchor="end" fill="#45b0e3" font-weight="normal" stroke="#45b0e3" stroke-width="0.12" >EM 21%</text>
<text x="108" y="506.11" font-size="5.9" text-anchor="end" fill="#f5a84f" font-weight="normal" stroke="#f5a84f" stroke-width="0.12" >EM 1%</text>
<text x="108" y="516.81" font-size="5.9" text-anchor="end" fill="#45b0e3" font-weight="normal" stroke="#45b0e3" stroke-width="0.12" >EMRA 21%</text>
<text x="108" y="527.31" font-size="5.9" text-anchor="end" fill="#f5a84f" font-weight="normal" stroke="#f5a84f" stroke-width="0.12" >EMRA 1%</text>
<line x1="57.5" y1="446.8" x2="57.5" y2="530" stroke="#231f20" stroke-width="1.05" stroke-dasharray="2.4,1.5"/>
<rect x="25.8" y="446.8" width="84.2" height="83.2" fill="none" stroke="#231f20" stroke-width="1.1"/>
<line x1="27" y1="530" x2="27" y2="532.4" stroke="#231f20" stroke-width="0.75" />
<line x1="28.79" y1="530" x2="28.79" y2="532.4" stroke="#231f20" stroke-width="0.75" />
<line x1="30.57" y1="530" x2="30.57" y2="532.4" stroke="#231f20" stroke-width="0.75" />
<line x1="32.36" y1="530" x2="32.36" y2="532.4" stroke="#231f20" stroke-width="0.75" />
<line x1="34.14" y1="530" x2="34.14" y2="532.4" stroke="#231f20" stroke-width="0.75" />
<line x1="35.92" y1="530" x2="35.92" y2="532.4" stroke="#231f20" stroke-width="0.75" />
<line x1="37.71" y1="530" x2="37.71" y2="532.4" stroke="#231f20" stroke-width="0.75" />
<line x1="39.5" y1="530" x2="39.5" y2="532.4" stroke="#231f20" stroke-width="0.75" />
<line x1="41.28" y1="530" x2="41.28" y2="532.4" stroke="#231f20" stroke-width="0.75" />
<line x1="43.06" y1="530" x2="43.06" y2="532.4" stroke="#231f20" stroke-width="0.75" />
<line x1="44.85" y1="530" x2="44.85" y2="532.4" stroke="#231f20" stroke-width="0.75" />
<line x1="48.05" y1="530" x2="48.05" y2="532.4" stroke="#231f20" stroke-width="0.75" />
<line x1="49.84" y1="530" x2="49.84" y2="532.4" stroke="#231f20" stroke-width="0.75" />
<line x1="51.62" y1="530" x2="51.62" y2="532.4" stroke="#231f20" stroke-width="0.75" />
<line x1="53.41" y1="530" x2="53.41" y2="532.4" stroke="#231f20" stroke-width="0.75" />
<line x1="55.19" y1="530" x2="55.19" y2="532.4" stroke="#231f20" stroke-width="0.75" />
<line x1="56.98" y1="530" x2="56.98" y2="532.4" stroke="#231f20" stroke-width="0.75" />
<line x1="58.76" y1="530" x2="58.76" y2="532.4" stroke="#231f20" stroke-width="0.75" />
<line x1="60.55" y1="530" x2="60.55" y2="532.4" stroke="#231f20" stroke-width="0.75" />
<line x1="62.33" y1="530" x2="62.33" y2="532.4" stroke="#231f20" stroke-width="0.75" />
<line x1="64.12" y1="530" x2="64.12" y2="532.4" stroke="#231f20" stroke-width="0.75" />
<line x1="65.9" y1="530" x2="65.9" y2="532.4" stroke="#231f20" stroke-width="0.75" />
<line x1="69.1" y1="530" x2="69.1" y2="532.4" stroke="#231f20" stroke-width="0.75" />
<line x1="70.89" y1="530" x2="70.89" y2="532.4" stroke="#231f20" stroke-width="0.75" />
<line x1="72.67" y1="530" x2="72.67" y2="532.4" stroke="#231f20" stroke-width="0.75" />
<line x1="74.46" y1="530" x2="74.46" y2="532.4" stroke="#231f20" stroke-width="0.75" />
<line x1="76.24" y1="530" x2="76.24" y2="532.4" stroke="#231f20" stroke-width="0.75" />
<line x1="78.03" y1="530" x2="78.03" y2="532.4" stroke="#231f20" stroke-width="0.75" />
<line x1="79.81" y1="530" x2="79.81" y2="532.4" stroke="#231f20" stroke-width="0.75" />
<line x1="81.59" y1="530" x2="81.59" y2="532.4" stroke="#231f20" stroke-width="0.75" />
<line x1="83.38" y1="530" x2="83.38" y2="532.4" stroke="#231f20" stroke-width="0.75" />
<line x1="85.17" y1="530" x2="85.17" y2="532.4" stroke="#231f20" stroke-width="0.75" />
<line x1="86.95" y1="530" x2="86.95" y2="532.4" stroke="#231f20" stroke-width="0.75" />
<line x1="90.15" y1="530" x2="90.15" y2="532.4" stroke="#231f20" stroke-width="0.75" />
<line x1="91.94" y1="530" x2="91.94" y2="532.4" stroke="#231f20" stroke-width="0.75" />
<line x1="93.72" y1="530" x2="93.72" y2="532.4" stroke="#231f20" stroke-width="0.75" />
<line x1="95.51" y1="530" x2="95.51" y2="532.4" stroke="#231f20" stroke-width="0.75" />
<line x1="97.29" y1="530" x2="97.29" y2="532.4" stroke="#231f20" stroke-width="0.75" />
<line x1="99.08" y1="530" x2="99.08" y2="532.4" stroke="#231f20" stroke-width="0.75" />
<line x1="100.86" y1="530" x2="100.86" y2="532.4" stroke="#231f20" stroke-width="0.75" />
<line x1="102.64" y1="530" x2="102.64" y2="532.4" stroke="#231f20" stroke-width="0.75" />
<line x1="104.43" y1="530" x2="104.43" y2="532.4" stroke="#231f20" stroke-width="0.75" />
<line x1="106.22" y1="530" x2="106.22" y2="532.4" stroke="#231f20" stroke-width="0.75" />
<line x1="108" y1="530" x2="108" y2="532.4" stroke="#231f20" stroke-width="0.75" />
<text x="30.2" y="541.52" font-size="7.6" text-anchor="start" fill="#231f20" font-weight="normal" stroke="#231f20" stroke-width="0.25" textLength="13" lengthAdjust="spacingAndGlyphs" >CD25</text>
<line x1="49.2" y1="539.2" x2="105" y2="539.2" stroke="#231f20" stroke-width="1.15" />
<path d="M108,539.2 L102,537.1 L103.4,539.2 L102,541.3 Z" fill="#231f20"/>
<text x="18.1" y="491.25" font-size="7.4" text-anchor="middle" fill="#231f20" font-weight="normal" stroke="#231f20" stroke-width="0.3" transform="rotate(-90 18.1 488.6)" textLength="25.6" lengthAdjust="spacingAndGlyphs" >% of cells</text>
<line x1="142.8" y1="203.8" x2="142.8" y2="243.1" stroke="#231f20" stroke-width="1.15" />
<line x1="140.2" y1="243.1" x2="142.8" y2="243.1" stroke="#231f20" stroke-width="1.0" />
<text x="137" y="245.25" font-size="6.0" text-anchor="end" fill="#231f20" font-weight="normal" stroke="#231f20" stroke-width="0.12" >0</text>
<line x1="140.2" y1="233.43" x2="142.8" y2="233.43" stroke="#231f20" stroke-width="1.0" />
<text x="137" y="235.57" font-size="6.0" text-anchor="end" fill="#231f20" font-weight="normal" stroke="#231f20" stroke-width="0.12" >5</text>
<line x1="140.2" y1="223.75" x2="142.8" y2="223.75" stroke="#231f20" stroke-width="1.0" />
<text x="137" y="225.9" font-size="6.0" text-anchor="end" fill="#231f20" font-weight="normal" stroke="#231f20" stroke-width="0.12" >10</text>
<line x1="140.2" y1="214.08" x2="142.8" y2="214.08" stroke="#231f20" stroke-width="1.0" />
<text x="137" y="216.22" font-size="6.0" text-anchor="end" fill="#231f20" font-weight="normal" stroke="#231f20" stroke-width="0.12" >15</text>
<line x1="140.2" y1="204.4" x2="142.8" y2="204.4" stroke="#231f20" stroke-width="1.0" />
<text x="137" y="206.55" font-size="6.0" text-anchor="end" fill="#231f20" font-weight="normal" stroke="#231f20" stroke-width="0.12" >20</text>
<line x1="142.8" y1="159.1" x2="142.8" y2="201" stroke="#231f20" stroke-width="1.15" />
<line x1="140.2" y1="188" x2="142.8" y2="188" stroke="#231f20" stroke-width="1.0" />
<text x="137" y="190.15" font-size="6.0" text-anchor="end" fill="#231f20" font-weight="normal" stroke="#231f20" stroke-width="0.12" >40</text>
<line x1="140.2" y1="175.15" x2="142.8" y2="175.15" stroke="#231f20" stroke-width="1.0" />
<text x="137" y="177.3" font-size="6.0" text-anchor="end" fill="#231f20" font-weight="normal" stroke="#231f20" stroke-width="0.12" >60</text>
<line x1="140.2" y1="162.3" x2="142.8" y2="162.3" stroke="#231f20" stroke-width="1.0" />
<text x="137" y="164.45" font-size="6.0" text-anchor="end" fill="#231f20" font-weight="normal" stroke="#231f20" stroke-width="0.12" >80</text>
<line x1="141.6" y1="201" x2="143.3" y2="201" stroke="#231f20" stroke-width="0.8" />
<line x1="141.6" y1="203.8" x2="143.3" y2="203.8" stroke="#231f20" stroke-width="0.8" />
<rect x="143.9" y="194.43" width="2.9" height="48.67" fill="#93d3ee" />
<rect x="147.6" y="183.5" width="2.9" height="59.6" fill="#fcc383" />
<circle cx="145.35" cy="193.78" r="0.85" fill="#25a5dc"/>
<circle cx="145.35" cy="195.71" r="0.85" fill="#25a5dc"/>
<circle cx="145.35" cy="204.4" r="0.85" fill="#25a5dc"/>
<circle cx="145.35" cy="232.46" r="0.85" fill="#25a5dc"/>
<circle cx="149.05" cy="162.3" r="0.85" fill="#f6921e"/>
<circle cx="149.05" cy="164.87" r="0.85" fill="#f6921e"/>
<circle cx="149.05" cy="176.44" r="0.85" fill="#f6921e"/>
<circle cx="149.05" cy="182.86" r="0.85" fill="#f6921e"/>
<circle cx="149.05" cy="186.07" r="0.85" fill="#f6921e"/>
<circle cx="149.05" cy="188" r="0.85" fill="#f6921e"/>
<circle cx="149.05" cy="194.43" r="0.85" fill="#f6921e"/>
<circle cx="149.05" cy="197" r="0.85" fill="#f6921e"/>
<rect x="154.13" y="231.49" width="2.9" height="11.61" fill="#93d3ee" />
<rect x="157.83" y="231.49" width="2.9" height="11.61" fill="#fcc383" />
<circle cx="155.58" cy="224.72" r="0.85" fill="#25a5dc"/>
<circle cx="155.58" cy="226.65" r="0.85" fill="#25a5dc"/>
<circle cx="155.58" cy="231.49" r="0.85" fill="#25a5dc"/>
<circle cx="155.58" cy="233.43" r="0.85" fill="#25a5dc"/>
<circle cx="155.58" cy="237.29" r="0.85" fill="#25a5dc"/>
<circle cx="155.58" cy="240.2" r="0.85" fill="#25a5dc"/>
<circle cx="159.28" cy="227.62" r="0.85" fill="#f6921e"/>
<circle cx="159.28" cy="231.49" r="0.85" fill="#f6921e"/>
<circle cx="158.68" cy="232.46" r="0.85" fill="#f6921e"/>
<circle cx="160.28" cy="233.43" r="0.85" fill="#f6921e"/>
<circle cx="159.28" cy="237.29" r="0.85" fill="#f6921e"/>
<rect x="164.36" y="230.14" width="2.9" height="12.96" fill="#93d3ee" />
<rect x="168.06" y="231.49" width="2.9" height="11.61" fill="#fcc383" />
<circle cx="165.81" cy="222.78" r="0.85" fill="#25a5dc"/>
<circle cx="165.81" cy="225.69" r="0.85" fill="#25a5dc"/>
<circle cx="165.81" cy="229.56" r="0.85" fill="#25a5dc"/>
<circle cx="165.81" cy="231.49" r="0.85" fill="#25a5dc"/>
<circle cx="165.81" cy="235.36" r="0.85" fill="#25a5dc"/>
<circle cx="165.81" cy="239.23" r="0.85" fill="#25a5dc"/>
<circle cx="169.51" cy="229.56" r="0.85" fill="#f6921e"/>
<circle cx="169.51" cy="231.49" r="0.85" fill="#f6921e"/>
<circle cx="169.51" cy="233.43" r="0.85" fill="#f6921e"/>
<circle cx="169.51" cy="235.36" r="0.85" fill="#f6921e"/>
<circle cx="169.51" cy="237.29" r="0.85" fill="#f6921e"/>
<rect x="174.59" y="223.75" width="2.9" height="19.35" fill="#93d3ee" />
<rect x="178.29" y="229.56" width="2.9" height="13.54" fill="#fcc383" />
<circle cx="176.04" cy="214.08" r="0.85" fill="#25a5dc"/>
<circle cx="176.04" cy="220.85" r="0.85" fill="#25a5dc"/>
<circle cx="176.04" cy="223.75" r="0.85" fill="#25a5dc"/>
<circle cx="176.04" cy="225.69" r="0.85" fill="#25a5dc"/>
<circle cx="176.04" cy="229.56" r="0.85" fill="#25a5dc"/>
<circle cx="176.04" cy="233.43" r="0.85" fill="#25a5dc"/>
<circle cx="179.74" cy="225.69" r="0.85" fill="#f6921e"/>
<circle cx="179.74" cy="227.62" r="0.85" fill="#f6921e"/>
<circle cx="179.74" cy="231.49" r="0.85" fill="#f6921e"/>
<circle cx="179.74" cy="235.36" r="0.85" fill="#f6921e"/>
<circle cx="179.74" cy="239.23" r="0.85" fill="#f6921e"/>
<rect x="184.82" y="215.04" width="2.9" height="28.06" fill="#93d3ee" />
<rect x="188.52" y="225.69" width="2.9" height="17.41" fill="#fcc383" />
<circle cx="186.27" cy="211.17" r="0.85" fill="#25a5dc"/>
<circle cx="186.27" cy="213.11" r="0.85" fill="#25a5dc"/>
<circle cx="186.27" cy="216.01" r="0.85" fill="#25a5dc"/>
<circle cx="186.27" cy="219.88" r="0.85" fill="#25a5dc"/>
<circle cx="186.27" cy="225.69" r="0.85" fill="#25a5dc"/>
<circle cx="186.27" cy="233.43" r="0.85" fill="#25a5dc"/>
<circle cx="189.97" cy="223.75" r="0.85" fill="#f6921e"/>
<circle cx="189.97" cy="225.69" r="0.85" fill="#f6921e"/>
<circle cx="189.97" cy="227.62" r="0.85" fill="#f6921e"/>
<circle cx="189.97" cy="231.49" r="0.85" fill="#f6921e"/>
<circle cx="189.97" cy="237.29" r="0.85" fill="#f6921e"/>
<rect x="195.05" y="214.46" width="2.9" height="28.64" fill="#93d3ee" />
<rect x="198.75" y="223.75" width="2.9" height="19.35" fill="#fcc383" />
<circle cx="196.5" cy="198.92" r="0.85" fill="#25a5dc"/>
<circle cx="196.5" cy="214.08" r="0.85" fill="#25a5dc"/>
<circle cx="196.5" cy="216.01" r="0.85" fill="#25a5dc"/>
<circle cx="196.5" cy="221.81" r="0.85" fill="#25a5dc"/>
<circle cx="196.5" cy="229.56" r="0.85" fill="#25a5dc"/>
<circle cx="196.5" cy="233.43" r="0.85" fill="#25a5dc"/>
<circle cx="200.2" cy="221.81" r="0.85" fill="#f6921e"/>
<circle cx="200.2" cy="223.75" r="0.85" fill="#f6921e"/>
<circle cx="200.2" cy="229.56" r="0.85" fill="#f6921e"/>
<circle cx="200.2" cy="233.43" r="0.85" fill="#f6921e"/>
<circle cx="200.2" cy="239.23" r="0.85" fill="#f6921e"/>
<rect x="205.28" y="216.01" width="2.9" height="27.09" fill="#93d3ee" />
<rect x="208.98" y="229.56" width="2.9" height="13.54" fill="#fcc383" />
<circle cx="206.73" cy="198.92" r="0.85" fill="#25a5dc"/>
<circle cx="206.73" cy="211.17" r="0.85" fill="#25a5dc"/>
<circle cx="206.73" cy="216.01" r="0.85" fill="#25a5dc"/>
<circle cx="206.73" cy="219.88" r="0.85" fill="#25a5dc"/>
<circle cx="206.73" cy="227.62" r="0.85" fill="#25a5dc"/>
<circle cx="206.73" cy="231.49" r="0.85" fill="#25a5dc"/>
<circle cx="210.43" cy="217.94" r="0.85" fill="#f6921e"/>
<circle cx="211.03" cy="218.91" r="0.85" fill="#f6921e"/>
<circle cx="210.43" cy="227.62" r="0.85" fill="#f6921e"/>
<circle cx="210.43" cy="229.56" r="0.85" fill="#f6921e"/>
<circle cx="210.43" cy="239.23" r="0.85" fill="#f6921e"/>
<rect x="215.51" y="222.59" width="2.9" height="20.51" fill="#93d3ee" />
<rect x="219.21" y="231.49" width="2.9" height="11.61" fill="#fcc383" />
<circle cx="216.96" cy="214.08" r="0.85" fill="#25a5dc"/>
<circle cx="216.96" cy="221.81" r="0.85" fill="#25a5dc"/>
<circle cx="216.96" cy="225.69" r="0.85" fill="#25a5dc"/>
<circle cx="216.96" cy="229.56" r="0.85" fill="#25a5dc"/>
<circle cx="216.96" cy="233.43" r="0.85" fill="#25a5dc"/>
<circle cx="216.96" cy="239.23" r="0.85" fill="#25a5dc"/>
<circle cx="220.66" cy="219.88" r="0.85" fill="#f6921e"/>
<circle cx="220.06" cy="220.85" r="0.85" fill="#f6921e"/>
<circle cx="220.66" cy="231.49" r="0.85" fill="#f6921e"/>
<circle cx="220.66" cy="235.36" r="0.85" fill="#f6921e"/>
<circle cx="220.66" cy="239.23" r="0.85" fill="#f6921e"/>
<rect x="143.4" y="201.4" width="9.6" height="2" fill="#fff" />
<line x1="142.8" y1="243.1" x2="223.8" y2="243.1" stroke="#231f20" stroke-width="1.15" />
<line x1="147.5" y1="243.1" x2="147.5" y2="245.9" stroke="#231f20" stroke-width="1.0" />
<line x1="157.5" y1="243.1" x2="157.5" y2="245.9" stroke="#231f20" stroke-width="1.0" />
<line x1="167.5" y1="243.1" x2="167.5" y2="245.9" stroke="#231f20" stroke-width="1.0" />
<line x1="177.5" y1="243.1" x2="177.5" y2="245.9" stroke="#231f20" stroke-width="1.0" />
<line x1="188.5" y1="243.1" x2="188.5" y2="245.9" stroke="#231f20" stroke-width="1.0" />
<line x1="198.5" y1="243.1" x2="198.5" y2="245.9" stroke="#231f20" stroke-width="1.0" />
<line x1="208.5" y1="243.1" x2="208.5" y2="245.9" stroke="#231f20" stroke-width="1.0" />
<line x1="218.5" y1="243.1" x2="218.5" y2="245.9" stroke="#231f20" stroke-width="1.0" />
<text x="147.2" y="254.35" font-size="6" text-anchor="middle" fill="#231f20" font-weight="normal" stroke="#231f20" stroke-width="0.12" >0</text>
<text x="157.43" y="254.35" font-size="6" text-anchor="middle" fill="#231f20" font-weight="normal" stroke="#231f20" stroke-width="0.12" >1</text>
<text x="167.66" y="254.35" font-size="6" text-anchor="middle" fill="#231f20" font-weight="normal" stroke="#231f20" stroke-width="0.12" >2</text>
<text x="177.89" y="254.35" font-size="6" text-anchor="middle" fill="#231f20" font-weight="normal" stroke="#231f20" stroke-width="0.12" >3</text>
<text x="188.12" y="254.35" font-size="6" text-anchor="middle" fill="#231f20" font-weight="normal" stroke="#231f20" stroke-width="0.12" >4</text>
<text x="198.35" y="254.35" font-size="6" text-anchor="middle" fill="#231f20" font-weight="normal" stroke="#231f20" stroke-width="0.12" >5</text>
<text x="208.58" y="254.35" font-size="6" text-anchor="middle" fill="#231f20" font-weight="normal" stroke="#231f20" stroke-width="0.12" >6</text>
<text x="218.81" y="254.35" font-size="6" text-anchor="middle" fill="#231f20" font-weight="normal" stroke="#231f20" stroke-width="0.12" >7</text>
<text x="183.3" y="265.85" font-size="7.4" text-anchor="middle" fill="#231f20" font-weight="normal" stroke="#231f20" stroke-width="0.25" textLength="31" lengthAdjust="spacingAndGlyphs" >No. divisions</text>
<text x="121.5" y="203.65" font-size="7.4" text-anchor="middle" fill="#231f20" font-weight="normal" stroke="#231f20" stroke-width="0.3" transform="rotate(-90 121.5 201)" textLength="25" lengthAdjust="spacingAndGlyphs" >% of cells</text>
<polyline points="145.5,194 145.5,159.3 149.4,159.3 149.4,160.8" stroke="#555" stroke-width="0.7" fill="none" />
<text x="147.45" y="159.65" font-size="5.4" text-anchor="middle" font-weight="bold" fill="#231f20">****</text>
<line x1="374.3" y1="160" x2="374.3" y2="247.5" stroke="#231f20" stroke-width="1.15" />
<line x1="371.7" y1="247.5" x2="374.3" y2="247.5" stroke="#231f20" stroke-width="1.0" />
<text x="368.5" y="249.65" font-size="6.0" text-anchor="end" fill="#231f20" font-weight="normal" stroke="#231f20" stroke-width="0.12" >0</text>
<line x1="371.7" y1="219" x2="374.3" y2="219" stroke="#231f20" stroke-width="1.0" />
<text x="368.5" y="221.15" font-size="6.0" text-anchor="end" fill="#231f20" font-weight="normal" stroke="#231f20" stroke-width="0.12" >20</text>
<line x1="371.7" y1="190.5" x2="374.3" y2="190.5" stroke="#231f20" stroke-width="1.0" />
<text x="368.5" y="192.65" font-size="6.0" text-anchor="end" fill="#231f20" font-weight="normal" stroke="#231f20" stroke-width="0.12" >40</text>
<line x1="371.7" y1="162" x2="374.3" y2="162" stroke="#231f20" stroke-width="1.0" />
<text x="368.5" y="164.15" font-size="6.0" text-anchor="end" fill="#231f20" font-weight="normal" stroke="#231f20" stroke-width="0.12" >60</text>
<rect x="377.5" y="245.36" width="5" height="2.14" fill="#93d3ee" />
<circle cx="380" cy="237.53" r="1.1" fill="#25a5dc"/>
<circle cx="380" cy="245.36" r="1.1" fill="#25a5dc"/>
<circle cx="380.6" cy="246.07" r="1.1" fill="#25a5dc"/>
<circle cx="379.4" cy="246.79" r="1.1" fill="#25a5dc"/>
<rect x="385.8" y="245.36" width="5" height="2.14" fill="#fcc383" />
<circle cx="388.3" cy="245.36" r="1.1" fill="#f6921e"/>
<circle cx="388.3" cy="246.07" r="1.1" fill="#f6921e"/>
<circle cx="388.3" cy="246.79" r="1.1" fill="#f6921e"/>
<rect x="400" y="209.03" width="5" height="38.47" fill="#93d3ee" />
<circle cx="402.5" cy="174.82" r="1.1" fill="#25a5dc"/>
<circle cx="402.5" cy="207.6" r="1.1" fill="#25a5dc"/>
<circle cx="402.5" cy="219" r="1.1" fill="#25a5dc"/>
<circle cx="402.5" cy="233.96" r="1.1" fill="#25a5dc"/>
<rect x="408" y="207.6" width="5.2" height="39.9" fill="#fcc383" />
<circle cx="410.6" cy="179.1" r="1.1" fill="#f6921e"/>
<circle cx="410.6" cy="211.88" r="1.1" fill="#f6921e"/>
<circle cx="410.6" cy="216.15" r="1.1" fill="#f6921e"/>
<circle cx="410.6" cy="221.85" r="1.1" fill="#f6921e"/>
<line x1="374.3" y1="247.5" x2="415.5" y2="247.5" stroke="#231f20" stroke-width="1.15" />
<line x1="384.5" y1="247.5" x2="384.5" y2="250.3" stroke="#231f20" stroke-width="1.0" />
<line x1="406.5" y1="247.5" x2="406.5" y2="250.3" stroke="#231f20" stroke-width="1.0" />
<text x="384.6" y="259.68" font-size="5.8" text-anchor="middle" fill="#231f20" font-weight="normal" stroke="#231f20" stroke-width="0.12" >Unstim.</text>
<text x="406.1" y="259.68" font-size="5.8" text-anchor="middle" fill="#231f20" font-weight="normal" stroke="#231f20" stroke-width="0.12" >Stim.</text>
<text x="353.3" y="206.65" font-size="7.4" text-anchor="middle" fill="#231f20" font-weight="normal" stroke="#231f20" stroke-width="0.3" transform="rotate(-90 353.3 204)" textLength="29" lengthAdjust="spacingAndGlyphs" >% CD107a+</text>
<line x1="460.6" y1="160" x2="460.6" y2="247.7" stroke="#231f20" stroke-width="1.15" />
<line x1="458" y1="247.7" x2="460.6" y2="247.7" stroke="#231f20" stroke-width="1.0" />
<text x="454.8" y="249.85" font-size="6.0" text-anchor="end" fill="#231f20" font-weight="normal" stroke="#231f20" stroke-width="0.12" >0</text>
<line x1="458" y1="226.47" x2="460.6" y2="226.47" stroke="#231f20" stroke-width="1.0" />
<text x="454.8" y="228.62" font-size="6.0" text-anchor="end" fill="#231f20" font-weight="normal" stroke="#231f20" stroke-width="0.12" >20</text>
<line x1="458" y1="205.25" x2="460.6" y2="205.25" stroke="#231f20" stroke-width="1.0" />
<text x="454.8" y="207.4" font-size="6.0" text-anchor="end" fill="#231f20" font-weight="normal" stroke="#231f20" stroke-width="0.12" >40</text>
<line x1="458" y1="184.03" x2="460.6" y2="184.03" stroke="#231f20" stroke-width="1.0" />
<text x="454.8" y="186.17" font-size="6.0" text-anchor="end" fill="#231f20" font-weight="normal" stroke="#231f20" stroke-width="0.12" >60</text>
<line x1="458" y1="162.8" x2="460.6" y2="162.8" stroke="#231f20" stroke-width="1.0" />
<text x="454.8" y="164.95" font-size="6.0" text-anchor="end" fill="#231f20" font-weight="normal" stroke="#231f20" stroke-width="0.12" >80</text>
<rect x="463.6" y="208.43" width="5.2" height="39.27" fill="#93d3ee" />
<circle cx="466.2" cy="190.39" r="1.1" fill="#25a5dc"/>
<circle cx="466.2" cy="197.82" r="1.1" fill="#25a5dc"/>
<circle cx="466.2" cy="220.11" r="1.1" fill="#25a5dc"/>
<circle cx="466.2" cy="224.35" r="1.1" fill="#25a5dc"/>
<rect x="471.4" y="205.25" width="5.6" height="42.45" fill="#fcc383" />
<circle cx="474.2" cy="186.15" r="1.1" fill="#f6921e"/>
<circle cx="474.2" cy="196.76" r="1.1" fill="#f6921e"/>
<circle cx="474.2" cy="217.98" r="1.1" fill="#f6921e"/>
<circle cx="474.2" cy="220.11" r="1.1" fill="#f6921e"/>
<rect x="486" y="211.62" width="5.2" height="36.08" fill="#93d3ee" />
<circle cx="488.6" cy="186.15" r="1.1" fill="#25a5dc"/>
<circle cx="488.6" cy="197.82" r="1.1" fill="#25a5dc"/>
<circle cx="488.6" cy="224.35" r="1.1" fill="#25a5dc"/>
<circle cx="488.6" cy="234.97" r="1.1" fill="#25a5dc"/>
<rect x="493.6" y="211.09" width="6.1" height="36.61" fill="#fcc383" />
<circle cx="496.65" cy="182.96" r="1.1" fill="#f6921e"/>
<circle cx="496.65" cy="195.7" r="1.1" fill="#f6921e"/>
<circle cx="496.65" cy="222.76" r="1.1" fill="#f6921e"/>
<circle cx="496.65" cy="222.76" r="1.1" fill="#f6921e"/>
<circle cx="496.65" cy="228.6" r="1.1" fill="#f6921e"/>
<line x1="460.6" y1="247.7" x2="503" y2="247.7" stroke="#231f20" stroke-width="1.15" />
<line x1="470.5" y1="247.7" x2="470.5" y2="250.5" stroke="#231f20" stroke-width="1.0" />
<line x1="492.5" y1="247.7" x2="492.5" y2="250.5" stroke="#231f20" stroke-width="1.0" />
<text x="470" y="259.68" font-size="5.8" text-anchor="middle" fill="#231f20" font-weight="normal" stroke="#231f20" stroke-width="0.12" >Unstim.</text>
<text x="491.4" y="259.68" font-size="5.8" text-anchor="middle" fill="#231f20" font-weight="normal" stroke="#231f20" stroke-width="0.12" >Stim.</text>
<text x="439" y="206.65" font-size="7.4" text-anchor="middle" fill="#231f20" font-weight="normal" stroke="#231f20" stroke-width="0.3" transform="rotate(-90 439 204)" textLength="26" lengthAdjust="spacingAndGlyphs" >% GZmB+</text>
<line x1="49.3" y1="297.7" x2="49.3" y2="385" stroke="#231f20" stroke-width="1.15" />
<line x1="46.7" y1="385.2" x2="49.3" y2="385.2" stroke="#231f20" stroke-width="1.0" />
<text x="43.5" y="387.28" font-size="5.8" text-anchor="end" fill="#231f20" font-weight="normal" stroke="#231f20" stroke-width="0.12" >0</text>
<line x1="46.7" y1="356.97" x2="49.3" y2="356.97" stroke="#231f20" stroke-width="1.0" />
<text x="40.7" y="359.08" font-size="5.9" text-anchor="end" fill="#231f20" font-weight="normal" stroke="#231f20" stroke-width="0.12" textLength="15" lengthAdjust="spacingAndGlyphs" >1×10</text>
<text x="43.4" y="356.64" font-size="4.4" text-anchor="end" fill="#231f20" font-weight="normal" stroke="#231f20" stroke-width="0.12" >3</text>
<line x1="46.7" y1="328.73" x2="49.3" y2="328.73" stroke="#231f20" stroke-width="1.0" />
<text x="40.7" y="330.85" font-size="5.9" text-anchor="end" fill="#231f20" font-weight="normal" stroke="#231f20" stroke-width="0.12" textLength="15" lengthAdjust="spacingAndGlyphs" >2×10</text>
<text x="43.4" y="328.41" font-size="4.4" text-anchor="end" fill="#231f20" font-weight="normal" stroke="#231f20" stroke-width="0.12" >3</text>
<line x1="46.7" y1="300.5" x2="49.3" y2="300.5" stroke="#231f20" stroke-width="1.0" />
<text x="40.7" y="302.61" font-size="5.9" text-anchor="end" fill="#231f20" font-weight="normal" stroke="#231f20" stroke-width="0.12" textLength="15" lengthAdjust="spacingAndGlyphs" >3×10</text>
<text x="43.4" y="300.18" font-size="4.4" text-anchor="end" fill="#231f20" font-weight="normal" stroke="#231f20" stroke-width="0.12" >3</text>
<rect x="53" y="371.25" width="6.25" height="13.75" fill="#93d3ee" />
<circle cx="56.12" cy="355.3" r="1.2" fill="#25a5dc"/>
<circle cx="56.12" cy="358.4" r="1.2" fill="#25a5dc"/>
<circle cx="56.12" cy="364.5" r="1.2" fill="#25a5dc"/>
<circle cx="56.12" cy="372.2" r="1.2" fill="#25a5dc"/>
<circle cx="56.12" cy="383" r="1.2" fill="#25a5dc"/>
<rect x="62.5" y="380.75" width="5.75" height="4.25" fill="#ad8fc1" />
<circle cx="65.38" cy="369.1" r="1.2" fill="#47195c"/>
<circle cx="65.38" cy="372.6" r="1.2" fill="#47195c"/>
<circle cx="65.38" cy="382" r="1.2" fill="#47195c"/>
<circle cx="63.98" cy="383.8" r="1.2" fill="#47195c"/>
<rect x="71.75" y="383.75" width="6.25" height="1.25" fill="#fcc383" />
<circle cx="74.88" cy="377.4" r="1.2" fill="#f6921e"/>
<circle cx="74.88" cy="379.5" r="1.2" fill="#f6921e"/>
<circle cx="74.88" cy="384.2" r="1.2" fill="#f6921e"/>
<rect x="88" y="349.5" width="6.25" height="35.5" fill="#93d3ee" />
<circle cx="91.12" cy="306.2" r="1.2" fill="#25a5dc"/>
<circle cx="91.12" cy="339.8" r="1.2" fill="#25a5dc"/>
<circle cx="91.12" cy="345.5" r="1.2" fill="#25a5dc"/>
<circle cx="91.12" cy="355.3" r="1.2" fill="#25a5dc"/>
<circle cx="91.12" cy="355.3" r="1.2" fill="#25a5dc"/>
<circle cx="91.12" cy="368.8" r="1.2" fill="#25a5dc"/>
<circle cx="91.12" cy="374.7" r="1.2" fill="#25a5dc"/>
<rect x="97.5" y="353" width="5.75" height="32" fill="#ad8fc1" />
<circle cx="100.38" cy="314" r="1.2" fill="#47195c"/>
<circle cx="100.38" cy="317.4" r="1.2" fill="#47195c"/>
<circle cx="100.38" cy="336.4" r="1.2" fill="#47195c"/>
<circle cx="100.38" cy="366.6" r="1.2" fill="#47195c"/>
<circle cx="100.38" cy="376.9" r="1.2" fill="#47195c"/>
<circle cx="99.53" cy="376.9" r="1.2" fill="#47195c"/>
<circle cx="100.38" cy="379.8" r="1.2" fill="#47195c"/>
<rect x="106.75" y="369.25" width="6.25" height="15.75" fill="#fcc383" />
<circle cx="109.88" cy="329.1" r="1.2" fill="#f6921e"/>
<circle cx="109.88" cy="345.9" r="1.2" fill="#f6921e"/>
<circle cx="109.88" cy="375.2" r="1.2" fill="#f6921e"/>
<circle cx="109.88" cy="380.3" r="1.2" fill="#f6921e"/>
<circle cx="109.88" cy="383.8" r="1.2" fill="#f6921e"/>
<line x1="49.3" y1="385" x2="117.5" y2="385" stroke="#231f20" stroke-width="1.15" />
<line x1="65.5" y1="385" x2="65.5" y2="387.8" stroke="#231f20" stroke-width="1.0" />
<line x1="100.5" y1="385" x2="100.5" y2="387.8" stroke="#231f20" stroke-width="1.0" />
<text x="65.1" y="396.78" font-size="5.8" text-anchor="middle" fill="#231f20" font-weight="normal" stroke="#231f20" stroke-width="0.12" >Unstim.</text>
<text x="100.2" y="396.78" font-size="5.8" text-anchor="middle" fill="#231f20" font-weight="normal" stroke="#231f20" stroke-width="0.12" >Stim.</text>
<text x="18.5" y="343.95" font-size="7.4" text-anchor="middle" fill="#231f20" font-weight="normal" stroke="#231f20" stroke-width="0.3" transform="rotate(-90 18.5 341.3)" textLength="39.8" lengthAdjust="spacingAndGlyphs" >[IFN-γ] (pg/ml)</text>
<line x1="160" y1="298" x2="160" y2="385.5" stroke="#231f20" stroke-width="1.15" />
<line x1="157.4" y1="385.5" x2="160" y2="385.5" stroke="#231f20" stroke-width="1.0" />
<text x="154.2" y="387.65" font-size="6.0" text-anchor="end" fill="#231f20" font-weight="normal" stroke="#231f20" stroke-width="0.12" >0</text>
<line x1="157.4" y1="364.25" x2="160" y2="364.25" stroke="#231f20" stroke-width="1.0" />
<text x="154.2" y="366.4" font-size="6.0" text-anchor="end" fill="#231f20" font-weight="normal" stroke="#231f20" stroke-width="0.12" >50</text>
<line x1="157.4" y1="343" x2="160" y2="343" stroke="#231f20" stroke-width="1.0" />
<text x="154.2" y="345.15" font-size="6.0" text-anchor="end" fill="#231f20" font-weight="normal" stroke="#231f20" stroke-width="0.12" >100</text>
<line x1="157.4" y1="321.75" x2="160" y2="321.75" stroke="#231f20" stroke-width="1.0" />
<text x="154.2" y="323.9" font-size="6.0" text-anchor="end" fill="#231f20" font-weight="normal" stroke="#231f20" stroke-width="0.12" >150</text>
<line x1="157.4" y1="300.5" x2="160" y2="300.5" stroke="#231f20" stroke-width="1.0" />
<text x="154.2" y="302.65" font-size="6.0" text-anchor="end" fill="#231f20" font-weight="normal" stroke="#231f20" stroke-width="0.12" >200</text>
<rect x="163.75" y="343" width="7.5" height="42.5" fill="#93d3ee" />
<line x1="163.75" y1="343.4" x2="171.25" y2="343.4" stroke="#25a5dc" stroke-width="1.0" />
<rect x="175" y="350.65" width="7.5" height="34.85" fill="#ad8fc1" />
<circle cx="178.75" cy="316.23" r="1.2" fill="#47195c"/>
<circle cx="178.75" cy="322.6" r="1.2" fill="#47195c"/>
<circle cx="178.75" cy="347.25" r="1.2" fill="#47195c"/>
<circle cx="178.75" cy="354.9" r="1.2" fill="#47195c"/>
<circle cx="178.75" cy="364.25" r="1.2" fill="#47195c"/>
<circle cx="178.75" cy="371.9" r="1.2" fill="#47195c"/>
<circle cx="179.59" cy="372.75" r="1.2" fill="#47195c"/>
<rect x="186" y="370.62" width="8" height="14.88" fill="#fcc383" />
<circle cx="190" cy="349.38" r="1.2" fill="#f6921e"/>
<circle cx="190" cy="355.75" r="1.2" fill="#f6921e"/>
<circle cx="190" cy="370.62" r="1.2" fill="#f6921e"/>
<circle cx="190" cy="377" r="1.2" fill="#f6921e"/>
<circle cx="190" cy="379.12" r="1.2" fill="#f6921e"/>
<circle cx="190" cy="381.25" r="1.2" fill="#f6921e"/>
<line x1="160" y1="385.5" x2="197.3" y2="385.5" stroke="#231f20" stroke-width="1.15" />
<line x1="167.5" y1="385.5" x2="167.5" y2="388.3" stroke="#231f20" stroke-width="1.0" />
<line x1="178.5" y1="385.5" x2="178.5" y2="388.3" stroke="#231f20" stroke-width="1.0" />
<line x1="189.5" y1="385.5" x2="189.5" y2="388.3" stroke="#231f20" stroke-width="1.0" />
<text x="167.5" y="396.58" font-size="5.8" text-anchor="middle" fill="#231f20" font-weight="normal" stroke="#231f20" stroke-width="0.12" >21</text>
<text x="178.75" y="396.58" font-size="5.8" text-anchor="middle" fill="#231f20" font-weight="normal" stroke="#231f20" stroke-width="0.12" >5</text>
<text x="189.4" y="396.58" font-size="5.8" text-anchor="middle" fill="#231f20" font-weight="normal" stroke="#231f20" stroke-width="0.12" >1</text>
<polyline points="167.5,340.5 167.5,306.3 190,306.3 190,340.5" stroke="#555" stroke-width="0.7" fill="none" />
<text x="178.75" y="305.95" font-size="5.4" text-anchor="middle" font-weight="bold" fill="#231f20">**</text>
<text x="134.9" y="343.55" font-size="7.4" text-anchor="middle" fill="#231f20" font-weight="normal" stroke="#231f20" stroke-width="0.3" transform="rotate(-90 134.9 340.9)" textLength="47.7" lengthAdjust="spacingAndGlyphs" >Normalised [IFN-γ]</text>
<line x1="253.3" y1="297.7" x2="253.3" y2="385" stroke="#231f20" stroke-width="1.15" />
<line x1="250.7" y1="385.2" x2="253.3" y2="385.2" stroke="#231f20" stroke-width="1.0" />
<text x="247.5" y="387.28" font-size="5.8" text-anchor="end" fill="#231f20" font-weight="normal" stroke="#231f20" stroke-width="0.12" >0</text>
<line x1="250.7" y1="364.07" x2="253.3" y2="364.07" stroke="#231f20" stroke-width="1.0" />
<text x="244.7" y="366.19" font-size="5.9" text-anchor="end" fill="#231f20" font-weight="normal" stroke="#231f20" stroke-width="0.12" textLength="15" lengthAdjust="spacingAndGlyphs" >1×10</text>
<text x="247.4" y="363.75" font-size="4.4" text-anchor="end" fill="#231f20" font-weight="normal" stroke="#231f20" stroke-width="0.12" >3</text>
<line x1="250.7" y1="342.95" x2="253.3" y2="342.95" stroke="#231f20" stroke-width="1.0" />
<text x="244.7" y="345.06" font-size="5.9" text-anchor="end" fill="#231f20" font-weight="normal" stroke="#231f20" stroke-width="0.12" textLength="15" lengthAdjust="spacingAndGlyphs" >2×10</text>
<text x="247.4" y="342.63" font-size="4.4" text-anchor="end" fill="#231f20" font-weight="normal" stroke="#231f20" stroke-width="0.12" >3</text>
<line x1="250.7" y1="321.82" x2="253.3" y2="321.82" stroke="#231f20" stroke-width="1.0" />
<text x="244.7" y="323.94" font-size="5.9" text-anchor="end" fill="#231f20" font-weight="normal" stroke="#231f20" stroke-width="0.12" textLength="15" lengthAdjust="spacingAndGlyphs" >3×10</text>
<text x="247.4" y="321.5" font-size="4.4" text-anchor="end" fill="#231f20" font-weight="normal" stroke="#231f20" stroke-width="0.12" >3</text>
<line x1="250.7" y1="300.7" x2="253.3" y2="300.7" stroke="#231f20" stroke-width="1.0" />
<text x="244.7" y="302.81" font-size="5.9" text-anchor="end" fill="#231f20" font-weight="normal" stroke="#231f20" stroke-width="0.12" textLength="15" lengthAdjust="spacingAndGlyphs" >4×10</text>
<text x="247.4" y="300.38" font-size="4.4" text-anchor="end" fill="#231f20" font-weight="normal" stroke="#231f20" stroke-width="0.12" >3</text>
<rect x="257" y="381.4" width="6" height="3.6" fill="#93d3ee" />
<circle cx="260" cy="377.17" r="1.2" fill="#25a5dc"/>
<circle cx="260" cy="378.44" r="1.2" fill="#25a5dc"/>
<circle cx="260" cy="380.97" r="1.2" fill="#25a5dc"/>
<circle cx="260" cy="382.03" r="1.2" fill="#25a5dc"/>
<circle cx="260" cy="383.09" r="1.2" fill="#25a5dc"/>
<rect x="266.25" y="382.66" width="6.25" height="2.34" fill="#ad8fc1" />
<circle cx="269.38" cy="378.86" r="1.2" fill="#47195c"/>
<circle cx="270.21" cy="379.28" r="1.2" fill="#47195c"/>
<circle cx="269.38" cy="383.09" r="1.2" fill="#47195c"/>
<circle cx="270.21" cy="383.51" r="1.2" fill="#47195c"/>
<circle cx="269.38" cy="384.14" r="1.2" fill="#47195c"/>
<rect x="275.75" y="381.4" width="6.25" height="3.6" fill="#fcc383" />
<circle cx="278.88" cy="377.17" r="1.2" fill="#f6921e"/>
<circle cx="279.71" cy="377.38" r="1.2" fill="#f6921e"/>
<circle cx="278.88" cy="380.97" r="1.2" fill="#f6921e"/>
<circle cx="279.71" cy="382.03" r="1.2" fill="#f6921e"/>
<circle cx="277.48" cy="383.09" r="1.2" fill="#f6921e"/>
<rect x="292.5" y="359.22" width="5.75" height="25.78" fill="#93d3ee" />
<circle cx="295.38" cy="339.78" r="1.2" fill="#25a5dc"/>
<circle cx="295.38" cy="351.4" r="1.2" fill="#25a5dc"/>
<circle cx="295.38" cy="354.57" r="1.2" fill="#25a5dc"/>
<circle cx="295.38" cy="357.74" r="1.2" fill="#25a5dc"/>
<circle cx="295.38" cy="361.96" r="1.2" fill="#25a5dc"/>
<circle cx="295.38" cy="364.07" r="1.2" fill="#25a5dc"/>
<rect x="301.25" y="356.05" width="6.25" height="28.95" fill="#ad8fc1" />
<circle cx="304.38" cy="315.91" r="1.2" fill="#47195c"/>
<circle cx="304.38" cy="340.84" r="1.2" fill="#47195c"/>
<circle cx="304.38" cy="360.91" r="1.2" fill="#47195c"/>
<circle cx="304.38" cy="364.07" r="1.2" fill="#47195c"/>
<circle cx="304.38" cy="368.3" r="1.2" fill="#47195c"/>
<circle cx="305.21" cy="368.3" r="1.2" fill="#47195c"/>
<rect x="310.75" y="363.23" width="6" height="21.77" fill="#fcc383" />
<circle cx="313.75" cy="346.75" r="1.2" fill="#f6921e"/>
<circle cx="313.75" cy="349.29" r="1.2" fill="#f6921e"/>
<circle cx="313.75" cy="357.74" r="1.2" fill="#f6921e"/>
<circle cx="313.75" cy="364.07" r="1.2" fill="#f6921e"/>
<circle cx="313.75" cy="368.3" r="1.2" fill="#f6921e"/>
<circle cx="313.75" cy="372.52" r="1.2" fill="#f6921e"/>
<circle cx="313.75" cy="374.64" r="1.2" fill="#f6921e"/>
<line x1="253.3" y1="385" x2="320" y2="385" stroke="#231f20" stroke-width="1.15" />
<line x1="268.5" y1="385" x2="268.5" y2="387.8" stroke="#231f20" stroke-width="1.0" />
<line x1="303.5" y1="385" x2="303.5" y2="387.8" stroke="#231f20" stroke-width="1.0" />
<text x="268.8" y="396.78" font-size="5.8" text-anchor="middle" fill="#231f20" font-weight="normal" stroke="#231f20" stroke-width="0.12" >Unstim.</text>
<text x="304" y="396.78" font-size="5.8" text-anchor="middle" fill="#231f20" font-weight="normal" stroke="#231f20" stroke-width="0.12" >Stim.</text>
<text x="220.9" y="344.15" font-size="7.4" text-anchor="middle" fill="#231f20" font-weight="normal" stroke="#231f20" stroke-width="0.3" transform="rotate(-90 220.9 341.5)" textLength="43.9" lengthAdjust="spacingAndGlyphs" >[TNF-α] (pg/ml)</text>
<line x1="363.8" y1="298" x2="363.8" y2="385.5" stroke="#231f20" stroke-width="1.15" />
<line x1="361.2" y1="385.5" x2="363.8" y2="385.5" stroke="#231f20" stroke-width="1.0" />
<text x="358" y="387.65" font-size="6.0" text-anchor="end" fill="#231f20" font-weight="normal" stroke="#231f20" stroke-width="0.12" >0</text>
<line x1="361.2" y1="364.25" x2="363.8" y2="364.25" stroke="#231f20" stroke-width="1.0" />
<text x="358" y="366.4" font-size="6.0" text-anchor="end" fill="#231f20" font-weight="normal" stroke="#231f20" stroke-width="0.12" >50</text>
<line x1="361.2" y1="343" x2="363.8" y2="343" stroke="#231f20" stroke-width="1.0" />
<text x="358" y="345.15" font-size="6.0" text-anchor="end" fill="#231f20" font-weight="normal" stroke="#231f20" stroke-width="0.12" >100</text>
<line x1="361.2" y1="321.75" x2="363.8" y2="321.75" stroke="#231f20" stroke-width="1.0" />
<text x="358" y="323.9" font-size="6.0" text-anchor="end" fill="#231f20" font-weight="normal" stroke="#231f20" stroke-width="0.12" >150</text>
<line x1="361.2" y1="300.5" x2="363.8" y2="300.5" stroke="#231f20" stroke-width="1.0" />
<text x="358" y="302.65" font-size="6.0" text-anchor="end" fill="#231f20" font-weight="normal" stroke="#231f20" stroke-width="0.12" >200</text>
<rect x="368" y="343" width="7" height="42.5" fill="#93d3ee" />
<line x1="368" y1="343.4" x2="375" y2="343.4" stroke="#25a5dc" stroke-width="1.0" />
<rect x="379.25" y="343" width="7" height="42.5" fill="#ad8fc1" />
<circle cx="382.75" cy="320.9" r="1.2" fill="#47195c"/>
<circle cx="382.75" cy="329.4" r="1.2" fill="#47195c"/>
<circle cx="382.75" cy="340.02" r="1.2" fill="#47195c"/>
<circle cx="382.75" cy="343" r="1.2" fill="#47195c"/>
<circle cx="382.75" cy="351.5" r="1.2" fill="#47195c"/>
<circle cx="381.91" cy="352.35" r="1.2" fill="#47195c"/>
<circle cx="382.75" cy="361.27" r="1.2" fill="#47195c"/>
<rect x="390.5" y="352.77" width="7" height="32.73" fill="#fcc383" />
<circle cx="394" cy="326" r="1.2" fill="#f6921e"/>
<circle cx="394" cy="348.1" r="1.2" fill="#f6921e"/>
<circle cx="394" cy="350.65" r="1.2" fill="#f6921e"/>
<circle cx="394" cy="363.4" r="1.2" fill="#f6921e"/>
<circle cx="393.16" cy="363.4" r="1.2" fill="#f6921e"/>
<circle cx="394" cy="364.25" r="1.2" fill="#f6921e"/>
<line x1="363.8" y1="385.5" x2="402" y2="385.5" stroke="#231f20" stroke-width="1.15" />
<line x1="371.5" y1="385.5" x2="371.5" y2="388.3" stroke="#231f20" stroke-width="1.0" />
<line x1="382.5" y1="385.5" x2="382.5" y2="388.3" stroke="#231f20" stroke-width="1.0" />
<line x1="394.5" y1="385.5" x2="394.5" y2="388.3" stroke="#231f20" stroke-width="1.0" />
<text x="371.3" y="396.58" font-size="5.8" text-anchor="middle" fill="#231f20" font-weight="normal" stroke="#231f20" stroke-width="0.12" >21</text>
<text x="382.6" y="396.58" font-size="5.8" text-anchor="middle" fill="#231f20" font-weight="normal" stroke="#231f20" stroke-width="0.12" >5</text>
<text x="393.8" y="396.58" font-size="5.8" text-anchor="middle" fill="#231f20" font-weight="normal" stroke="#231f20" stroke-width="0.12" >1</text>
<text x="339.2" y="342.95" font-size="7.4" text-anchor="middle" fill="#231f20" font-weight="normal" stroke="#231f20" stroke-width="0.3" transform="rotate(-90 339.2 340.3)" textLength="48.9" lengthAdjust="spacingAndGlyphs" >Normalised [TNF-α]</text>
<line x1="450.6" y1="336.8" x2="450.6" y2="385.5" stroke="#231f20" stroke-width="1.15" />
<line x1="448" y1="385.5" x2="450.6" y2="385.5" stroke="#231f20" stroke-width="1.0" />
<text x="444.8" y="387.65" font-size="6.0" text-anchor="end" fill="#231f20" font-weight="normal" stroke="#231f20" stroke-width="0.12" >0</text>
<line x1="448" y1="373.43" x2="450.6" y2="373.43" stroke="#231f20" stroke-width="1.0" />
<text x="444.8" y="375.57" font-size="6.0" text-anchor="end" fill="#231f20" font-weight="normal" stroke="#231f20" stroke-width="0.12" >10</text>
<line x1="448" y1="361.35" x2="450.6" y2="361.35" stroke="#231f20" stroke-width="1.0" />
<text x="444.8" y="363.5" font-size="6.0" text-anchor="end" fill="#231f20" font-weight="normal" stroke="#231f20" stroke-width="0.12" >20</text>
<line x1="448" y1="349.27" x2="450.6" y2="349.27" stroke="#231f20" stroke-width="1.0" />
<text x="444.8" y="351.42" font-size="6.0" text-anchor="end" fill="#231f20" font-weight="normal" stroke="#231f20" stroke-width="0.12" >30</text>
<line x1="448" y1="337.2" x2="450.6" y2="337.2" stroke="#231f20" stroke-width="1.0" />
<text x="444.8" y="339.35" font-size="6.0" text-anchor="end" fill="#231f20" font-weight="normal" stroke="#231f20" stroke-width="0.12" >40</text>
<line x1="450.6" y1="302.8" x2="450.6" y2="330.3" stroke="#231f20" stroke-width="1.15" />
<line x1="448" y1="330" x2="450.6" y2="330" stroke="#231f20" stroke-width="1.0" />
<text x="444.8" y="332.15" font-size="6.0" text-anchor="end" fill="#231f20" font-weight="normal" stroke="#231f20" stroke-width="0.12" >40</text>
<line x1="448" y1="321.73" x2="450.6" y2="321.73" stroke="#231f20" stroke-width="1.0" />
<text x="444.8" y="323.88" font-size="6.0" text-anchor="end" fill="#231f20" font-weight="normal" stroke="#231f20" stroke-width="0.12" >60</text>
<line x1="448" y1="313.47" x2="450.6" y2="313.47" stroke="#231f20" stroke-width="1.0" />
<text x="444.8" y="315.61" font-size="6.0" text-anchor="end" fill="#231f20" font-weight="normal" stroke="#231f20" stroke-width="0.12" >80</text>
<line x1="448" y1="305.2" x2="450.6" y2="305.2" stroke="#231f20" stroke-width="1.0" />
<text x="444.8" y="307.35" font-size="6.0" text-anchor="end" fill="#231f20" font-weight="normal" stroke="#231f20" stroke-width="0.12" >100</text>
<line x1="449.4" y1="330.3" x2="451.1" y2="330.3" stroke="#231f20" stroke-width="0.8" />
<line x1="449.4" y1="336.8" x2="451.1" y2="336.8" stroke="#231f20" stroke-width="0.8" />
<rect x="452.5" y="384.29" width="5.9" height="1.21" fill="#93d3ee" />
<circle cx="455.45" cy="383.08" r="1.2" fill="#25a5dc"/>
<circle cx="456.29" cy="383.69" r="1.2" fill="#25a5dc"/>
<circle cx="456.29" cy="384.29" r="1.2" fill="#25a5dc"/>
<circle cx="454.05" cy="384.9" r="1.2" fill="#25a5dc"/>
<rect x="462" y="384.29" width="5.4" height="1.21" fill="#fcc383" />
<circle cx="464.7" cy="382.48" r="1.2" fill="#f6921e"/>
<circle cx="465.54" cy="383.08" r="1.2" fill="#f6921e"/>
<circle cx="463.3" cy="384.29" r="1.2" fill="#f6921e"/>
<circle cx="465.54" cy="384.9" r="1.2" fill="#f6921e"/>
<rect x="475.4" y="371.01" width="5.4" height="14.49" fill="#93d3ee" />
<circle cx="478.1" cy="345.05" r="1.2" fill="#25a5dc"/>
<circle cx="478.1" cy="357.73" r="1.2" fill="#25a5dc"/>
<circle cx="478.1" cy="369.8" r="1.2" fill="#25a5dc"/>
<circle cx="477.26" cy="371.01" r="1.2" fill="#25a5dc"/>
<circle cx="478.1" cy="373.43" r="1.2" fill="#25a5dc"/>
<circle cx="478.1" cy="379.46" r="1.2" fill="#25a5dc"/>
<circle cx="478.1" cy="381.88" r="1.2" fill="#25a5dc"/>
<rect x="483.7" y="375.84" width="5.6" height="9.66" fill="#fcc383" />
<circle cx="486.5" cy="370.41" r="1.2" fill="#f6921e"/>
<circle cx="486.5" cy="373.43" r="1.2" fill="#f6921e"/>
<circle cx="486.5" cy="375.84" r="1.2" fill="#f6921e"/>
<circle cx="486.5" cy="378.25" r="1.2" fill="#f6921e"/>
<circle cx="486.5" cy="380.67" r="1.2" fill="#f6921e"/>
<circle cx="486.5" cy="383.08" r="1.2" fill="#f6921e"/>
<rect x="497.8" y="318.2" width="5.7" height="67.3" fill="#93d3ee" />
<rect x="506" y="320" width="5.5" height="65.5" fill="#fcc383" />
<circle cx="500.5" cy="307.7" r="1.2" fill="#25a5dc"/>
<circle cx="500.5" cy="311.4" r="1.2" fill="#25a5dc"/>
<circle cx="498.6" cy="314.1" r="1.2" fill="#25a5dc"/>
<circle cx="502.2" cy="315.5" r="1.2" fill="#25a5dc"/>
<circle cx="500.5" cy="318.2" r="1.2" fill="#25a5dc"/>
<circle cx="500.5" cy="325" r="1.2" fill="#25a5dc"/>
<circle cx="500.5" cy="328.2" r="1.2" fill="#25a5dc"/>
<circle cx="500.5" cy="340" r="1.2" fill="#25a5dc"/>
<circle cx="508.6" cy="311.5" r="1.2" fill="#f6921e"/>
<circle cx="507" cy="317.3" r="1.2" fill="#f6921e"/>
<circle cx="509.3" cy="319.1" r="1.2" fill="#f6921e"/>
<circle cx="508" cy="322.3" r="1.2" fill="#f6921e"/>
<circle cx="509.3" cy="325" r="1.2" fill="#f6921e"/>
<circle cx="508" cy="328.6" r="1.2" fill="#f6921e"/>
<rect x="495" y="330.6" width="18" height="6" fill="#fff" />
<line x1="450.6" y1="385.5" x2="513.9" y2="385.5" stroke="#231f20" stroke-width="1.15" />
<line x1="460.5" y1="385.5" x2="460.5" y2="388.3" stroke="#231f20" stroke-width="1.0" />
<line x1="482.5" y1="385.5" x2="482.5" y2="388.3" stroke="#231f20" stroke-width="1.0" />
<line x1="503.5" y1="385.5" x2="503.5" y2="388.3" stroke="#231f20" stroke-width="1.0" />
<text x="463.1" y="393.2" font-size="6" text-anchor="end" fill="#231f20" transform="rotate(-45 463.1 393.2)">Unstim.</text>
<text x="484.9" y="393.2" font-size="6" text-anchor="end" fill="#231f20" transform="rotate(-45 484.9 393.2)">3/28</text>
<text x="506.4" y="393.2" font-size="6" text-anchor="end" fill="#231f20" transform="rotate(-45 506.4 393.2)">PMA/iono</text>
<polyline points="478,340.2 478,338.5 486.5,338.5 486.5,365.5" stroke="#555" stroke-width="0.7" fill="none" />
<text x="482.25" y="338.95" font-size="5.4" text-anchor="middle" font-weight="bold" fill="#231f20">*</text>
<text x="425.9" y="346.95" font-size="7.4" text-anchor="middle" fill="#231f20" font-weight="normal" stroke="#231f20" stroke-width="0.3" transform="rotate(-90 425.9 344.3)" textLength="26" lengthAdjust="spacingAndGlyphs" >% IFN-γ+</text>
<line x1="156.3" y1="452" x2="156.3" y2="532.5" stroke="#231f20" stroke-width="1.15" />
<line x1="153.7" y1="532.5" x2="156.3" y2="532.5" stroke="#231f20" stroke-width="1.0" />
<text x="150.5" y="534.65" font-size="6.0" text-anchor="end" fill="#231f20" font-weight="normal" stroke="#231f20" stroke-width="0.12" >0</text>
<line x1="153.7" y1="516.9" x2="156.3" y2="516.9" stroke="#231f20" stroke-width="1.0" />
<text x="150.5" y="519.05" font-size="6.0" text-anchor="end" fill="#231f20" font-weight="normal" stroke="#231f20" stroke-width="0.12" >20</text>
<line x1="153.7" y1="501.3" x2="156.3" y2="501.3" stroke="#231f20" stroke-width="1.0" />
<text x="150.5" y="503.45" font-size="6.0" text-anchor="end" fill="#231f20" font-weight="normal" stroke="#231f20" stroke-width="0.12" >40</text>
<line x1="153.7" y1="485.7" x2="156.3" y2="485.7" stroke="#231f20" stroke-width="1.0" />
<text x="150.5" y="487.85" font-size="6.0" text-anchor="end" fill="#231f20" font-weight="normal" stroke="#231f20" stroke-width="0.12" >60</text>
<line x1="153.7" y1="470.1" x2="156.3" y2="470.1" stroke="#231f20" stroke-width="1.0" />
<text x="150.5" y="472.25" font-size="6.0" text-anchor="end" fill="#231f20" font-weight="normal" stroke="#231f20" stroke-width="0.12" >80</text>
<line x1="153.7" y1="454.5" x2="156.3" y2="454.5" stroke="#231f20" stroke-width="1.0" />
<text x="150.5" y="456.65" font-size="6.0" text-anchor="end" fill="#231f20" font-weight="normal" stroke="#231f20" stroke-width="0.12" >100</text>
<rect x="159.3" y="505.5" width="4.7" height="27" fill="#93d3ee" />
<circle cx="161.65" cy="480.9" r="1.2" fill="#25a5dc"/>
<circle cx="161.65" cy="503.4" r="1.2" fill="#25a5dc"/>
<circle cx="161.65" cy="512.4" r="1.2" fill="#25a5dc"/>
<circle cx="161.65" cy="512.4" r="1.2" fill="#25a5dc"/>
<circle cx="161.65" cy="518.8" r="1.2" fill="#25a5dc"/>
<rect x="166.7" y="521.9" width="4.7" height="10.6" fill="#fcc383" />
<circle cx="169.05" cy="510.3" r="1.2" fill="#f6921e"/>
<circle cx="169.05" cy="520.2" r="1.2" fill="#f6921e"/>
<circle cx="169.05" cy="524.5" r="1.2" fill="#f6921e"/>
<circle cx="167.85" cy="526.2" r="1.2" fill="#f6921e"/>
<rect x="179.1" y="479.7" width="4.9" height="52.8" fill="#93d3ee" />
<circle cx="181.55" cy="458.6" r="1.2" fill="#25a5dc"/>
<circle cx="181.55" cy="473.1" r="1.2" fill="#25a5dc"/>
<circle cx="181.55" cy="477.6" r="1.2" fill="#25a5dc"/>
<circle cx="181.55" cy="486.6" r="1.2" fill="#25a5dc"/>
<circle cx="181.55" cy="502.4" r="1.2" fill="#25a5dc"/>
<rect x="186.4" y="495.2" width="4.8" height="37.3" fill="#fcc383" />
<circle cx="188.8" cy="466.2" r="1.2" fill="#f6921e"/>
<circle cx="188.8" cy="489.5" r="1.2" fill="#f6921e"/>
<circle cx="188.8" cy="500" r="1.2" fill="#f6921e"/>
<circle cx="188.8" cy="506.4" r="1.2" fill="#f6921e"/>
<circle cx="188.8" cy="510.7" r="1.2" fill="#f6921e"/>
<rect x="199.5" y="491.7" width="4.6" height="40.8" fill="#93d3ee" />
<circle cx="201.8" cy="469.3" r="1.2" fill="#25a5dc"/>
<circle cx="201.8" cy="478.3" r="1.2" fill="#25a5dc"/>
<circle cx="201.8" cy="486" r="1.2" fill="#25a5dc"/>
<circle cx="201.8" cy="503.4" r="1.2" fill="#25a5dc"/>
<circle cx="201.8" cy="521.9" r="1.2" fill="#25a5dc"/>
<rect x="206.7" y="504.1" width="4.9" height="28.4" fill="#fcc383" />
<circle cx="209.15" cy="483.1" r="1.2" fill="#f6921e"/>
<circle cx="209.15" cy="496.9" r="1.2" fill="#f6921e"/>
<circle cx="209.15" cy="501.7" r="1.2" fill="#f6921e"/>
<circle cx="209.15" cy="509.8" r="1.2" fill="#f6921e"/>
<circle cx="209.15" cy="529.3" r="1.2" fill="#f6921e"/>
<rect x="219.1" y="511.2" width="4.5" height="21.3" fill="#93d3ee" />
<circle cx="221.35" cy="498.6" r="1.2" fill="#25a5dc"/>
<circle cx="221.35" cy="511.6" r="1.2" fill="#25a5dc"/>
<circle cx="221.35" cy="515.9" r="1.2" fill="#25a5dc"/>
<circle cx="221.35" cy="520.7" r="1.2" fill="#25a5dc"/>
<rect x="226.6" y="523.1" width="4.6" height="9.4" fill="#fcc383" />
<circle cx="228.9" cy="512.4" r="1.2" fill="#f6921e"/>
<circle cx="228.9" cy="526.2" r="1.2" fill="#f6921e"/>
<circle cx="228.9" cy="529.7" r="1.2" fill="#f6921e"/>
<line x1="156.3" y1="532.5" x2="236" y2="532.5" stroke="#231f20" stroke-width="1.15" />
<line x1="165.5" y1="532.5" x2="165.5" y2="535.3" stroke="#231f20" stroke-width="1.0" />
<line x1="185.5" y1="532.5" x2="185.5" y2="535.3" stroke="#231f20" stroke-width="1.0" />
<line x1="205.5" y1="532.5" x2="205.5" y2="535.3" stroke="#231f20" stroke-width="1.0" />
<line x1="225.5" y1="532.5" x2="225.5" y2="535.3" stroke="#231f20" stroke-width="1.0" />
<text x="165.5" y="544.05" font-size="6" text-anchor="middle" fill="#231f20" font-weight="normal" stroke="#231f20" stroke-width="0.12" >Naive</text>
<text x="185.5" y="544.05" font-size="6" text-anchor="middle" fill="#231f20" font-weight="normal" stroke="#231f20" stroke-width="0.12" >CM</text>
<text x="205.2" y="544.05" font-size="6" text-anchor="middle" fill="#231f20" font-weight="normal" stroke="#231f20" stroke-width="0.12" >EM</text>
<text x="225.5" y="544.05" font-size="6" text-anchor="middle" fill="#231f20" font-weight="normal" stroke="#231f20" stroke-width="0.12" >EMRA</text>
<polyline points="161.6,478.8 161.6,449.5 169.7,449.5 169.7,508.1" stroke="#555" stroke-width="0.7" fill="none" />
<text x="165.65" y="449.95" font-size="5.4" text-anchor="middle" font-weight="bold" fill="#231f20">**</text>
<polyline points="181.2,454.7 181.2,449.5 189.5,449.5 189.5,464.1" stroke="#555" stroke-width="0.7" fill="none" />
<text x="185.35" y="449.95" font-size="5.4" text-anchor="middle" font-weight="bold" fill="#231f20">**</text>
<polyline points="201.6,466.7 201.6,449.5 209.3,449.5 209.3,480.5" stroke="#555" stroke-width="0.7" fill="none" />
<text x="205.45" y="449.95" font-size="5.4" text-anchor="middle" font-weight="bold" fill="#231f20">*</text>
<polyline points="221.4,496 221.4,449.5 229.5,449.5 229.5,509" stroke="#555" stroke-width="0.7" fill="none" />
<text x="225.45" y="449.95" font-size="5.4" text-anchor="middle" font-weight="bold" fill="#231f20">*</text>
<text x="132.6" y="496.85" font-size="7.4" text-anchor="middle" fill="#231f20" font-weight="normal" stroke="#231f20" stroke-width="0.3" transform="rotate(-90 132.6 494.2)" textLength="19.5" lengthAdjust="spacingAndGlyphs" >% CD25</text>
<text x="130.4" y="484.2" font-size="4.6" text-anchor="middle" fill="#231f20" font-weight="normal" stroke="#231f20" stroke-width="0.2" transform="rotate(-90 130.4 482.55)" >+</text>
<line x1="292.5" y1="493.5" x2="292.5" y2="532.6" stroke="#231f20" stroke-width="1.15" />
<line x1="289.9" y1="532.6" x2="292.5" y2="532.6" stroke="#231f20" stroke-width="1.0" />
<text x="286.7" y="534.68" font-size="5.8" text-anchor="end" fill="#231f20" font-weight="normal" stroke="#231f20" stroke-width="0.12" >0</text>
<line x1="289.9" y1="513.25" x2="292.5" y2="513.25" stroke="#231f20" stroke-width="1.0" />
<text x="283.9" y="515.36" font-size="5.9" text-anchor="end" fill="#231f20" font-weight="normal" stroke="#231f20" stroke-width="0.12" textLength="15" lengthAdjust="spacingAndGlyphs" >1×10</text>
<text x="286.6" y="512.93" font-size="4.4" text-anchor="end" fill="#231f20" font-weight="normal" stroke="#231f20" stroke-width="0.12" >4</text>
<line x1="289.9" y1="493.9" x2="292.5" y2="493.9" stroke="#231f20" stroke-width="1.0" />
<text x="283.9" y="496.01" font-size="5.9" text-anchor="end" fill="#231f20" font-weight="normal" stroke="#231f20" stroke-width="0.12" textLength="15" lengthAdjust="spacingAndGlyphs" >2×10</text>
<text x="286.6" y="493.58" font-size="4.4" text-anchor="end" fill="#231f20" font-weight="normal" stroke="#231f20" stroke-width="0.12" >4</text>
<line x1="292.5" y1="445.5" x2="292.5" y2="486.8" stroke="#231f20" stroke-width="1.15" />
<line x1="289.9" y1="473.9" x2="292.5" y2="473.9" stroke="#231f20" stroke-width="1.0" />
<text x="283.9" y="476.01" font-size="5.9" text-anchor="end" fill="#231f20" font-weight="normal" stroke="#231f20" stroke-width="0.12" textLength="15" lengthAdjust="spacingAndGlyphs" >4×10</text>
<text x="286.6" y="473.58" font-size="4.4" text-anchor="end" fill="#231f20" font-weight="normal" stroke="#231f20" stroke-width="0.12" >4</text>
<line x1="289.9" y1="448.2" x2="292.5" y2="448.2" stroke="#231f20" stroke-width="1.0" />
<text x="283.9" y="450.31" font-size="5.9" text-anchor="end" fill="#231f20" font-weight="normal" stroke="#231f20" stroke-width="0.12" textLength="15" lengthAdjust="spacingAndGlyphs" >6×10</text>
<text x="286.6" y="447.88" font-size="4.4" text-anchor="end" fill="#231f20" font-weight="normal" stroke="#231f20" stroke-width="0.12" >4</text>
<line x1="291.3" y1="486.8" x2="293" y2="486.8" stroke="#231f20" stroke-width="0.8" />
<rect x="295" y="518.3" width="4.3" height="14.3" fill="#93d3ee" />
<circle cx="297.15" cy="501.1" r="1.2" fill="#25a5dc"/>
<circle cx="297.15" cy="508.3" r="1.2" fill="#25a5dc"/>
<circle cx="297.15" cy="521.6" r="1.2" fill="#25a5dc"/>
<circle cx="297.15" cy="526.8" r="1.2" fill="#25a5dc"/>
<circle cx="297.15" cy="530.1" r="1.2" fill="#25a5dc"/>
<rect x="301.3" y="528.4" width="4.2" height="4.2" fill="#fcc383" />
<circle cx="303.4" cy="528.4" r="1.2" fill="#f6921e"/>
<circle cx="303.4" cy="529.9" r="1.2" fill="#f6921e"/>
<circle cx="303.4" cy="531.4" r="1.2" fill="#f6921e"/>
<rect x="312.5" y="522.4" width="3.8" height="10.2" fill="#93d3ee" />
<circle cx="314.4" cy="510.8" r="1.2" fill="#25a5dc"/>
<circle cx="314.4" cy="523.2" r="1.2" fill="#25a5dc"/>
<circle cx="314.4" cy="529.2" r="1.2" fill="#25a5dc"/>
<rect x="318.8" y="528.9" width="3.7" height="3.7" fill="#fcc383" />
<circle cx="320.65" cy="528.9" r="1.2" fill="#f6921e"/>
<circle cx="320.65" cy="530.4" r="1.2" fill="#f6921e"/>
<rect x="329" y="498.5" width="4.1" height="34.1" fill="#93d3ee" />
<circle cx="331.05" cy="467.4" r="1.2" fill="#25a5dc"/>
<circle cx="331.05" cy="520.7" r="1.2" fill="#25a5dc"/>
<circle cx="331.05" cy="530.1" r="1.2" fill="#25a5dc"/>
<rect x="335.8" y="529.4" width="3.7" height="3.2" fill="#fcc383" />
<circle cx="337.65" cy="524.3" r="1.2" fill="#f6921e"/>
<circle cx="337.65" cy="526.8" r="1.2" fill="#f6921e"/>
<circle cx="337.65" cy="528.9" r="1.2" fill="#f6921e"/>
<circle cx="337.65" cy="531.2" r="1.2" fill="#f6921e"/>
<rect x="346.8" y="517.5" width="4" height="15.1" fill="#93d3ee" />
<circle cx="348.8" cy="485.9" r="1.2" fill="#25a5dc"/>
<circle cx="348.8" cy="531.4" r="1.2" fill="#25a5dc"/>
<rect x="353.3" y="531.4" width="3.7" height="1.2" fill="#fcc383" />
<circle cx="355.15" cy="527.6" r="1.2" fill="#f6921e"/>
<circle cx="355.15" cy="531.4" r="1.2" fill="#f6921e"/>
<line x1="292.5" y1="532.6" x2="358.8" y2="532.6" stroke="#231f20" stroke-width="1.15" />
<line x1="299.5" y1="532.6" x2="299.5" y2="535.4" stroke="#231f20" stroke-width="1.0" />
<line x1="317.5" y1="532.6" x2="317.5" y2="535.4" stroke="#231f20" stroke-width="1.0" />
<line x1="334.5" y1="532.6" x2="334.5" y2="535.4" stroke="#231f20" stroke-width="1.0" />
<line x1="351.5" y1="532.6" x2="351.5" y2="535.4" stroke="#231f20" stroke-width="1.0" />
<text x="300" y="544.05" font-size="6" text-anchor="middle" fill="#231f20" font-weight="normal" stroke="#231f20" stroke-width="0.12" >Naive</text>
<text x="316.3" y="544.05" font-size="6" text-anchor="middle" fill="#231f20" font-weight="normal" stroke="#231f20" stroke-width="0.12" >CM</text>
<text x="333.8" y="544.05" font-size="6" text-anchor="middle" fill="#231f20" font-weight="normal" stroke="#231f20" stroke-width="0.12" >EM</text>
<text x="351.3" y="544.05" font-size="6" text-anchor="middle" fill="#231f20" font-weight="normal" stroke="#231f20" stroke-width="0.12" >EMRA</text>
<text x="260.6" y="491.55" font-size="7.4" text-anchor="middle" fill="#231f20" font-weight="normal" stroke="#231f20" stroke-width="0.3" transform="rotate(-90 260.6 488.9)" textLength="39.2" lengthAdjust="spacingAndGlyphs" >[IFN-γ] (pg/ml)</text>
<line x1="407.5" y1="445" x2="407.5" y2="532.7" stroke="#231f20" stroke-width="1.15" />
<line x1="404.9" y1="532.7" x2="407.5" y2="532.7" stroke="#231f20" stroke-width="1.0" />
<text x="401.7" y="534.85" font-size="6.0" text-anchor="end" fill="#231f20" font-weight="normal" stroke="#231f20" stroke-width="0.12" >0</text>
<line x1="404.9" y1="515.68" x2="407.5" y2="515.68" stroke="#231f20" stroke-width="1.0" />
<text x="401.7" y="517.83" font-size="6.0" text-anchor="end" fill="#231f20" font-weight="normal" stroke="#231f20" stroke-width="0.12" >5</text>
<line x1="404.9" y1="498.66" x2="407.5" y2="498.66" stroke="#231f20" stroke-width="1.0" />
<text x="401.7" y="500.81" font-size="6.0" text-anchor="end" fill="#231f20" font-weight="normal" stroke="#231f20" stroke-width="0.12" >10</text>
<line x1="404.9" y1="481.64" x2="407.5" y2="481.64" stroke="#231f20" stroke-width="1.0" />
<text x="401.7" y="483.79" font-size="6.0" text-anchor="end" fill="#231f20" font-weight="normal" stroke="#231f20" stroke-width="0.12" >15</text>
<line x1="404.9" y1="464.62" x2="407.5" y2="464.62" stroke="#231f20" stroke-width="1.0" />
<text x="401.7" y="466.77" font-size="6.0" text-anchor="end" fill="#231f20" font-weight="normal" stroke="#231f20" stroke-width="0.12" >20</text>
<line x1="404.9" y1="447.6" x2="407.5" y2="447.6" stroke="#231f20" stroke-width="1.0" />
<text x="401.7" y="449.75" font-size="6.0" text-anchor="end" fill="#231f20" font-weight="normal" stroke="#231f20" stroke-width="0.12" >25</text>
<rect x="411.25" y="520.11" width="4.05" height="12.59" fill="#93d3ee" />
<circle cx="413.27" cy="515.68" r="1.2" fill="#25a5dc"/>
<circle cx="413.88" cy="515.68" r="1.2" fill="#25a5dc"/>
<circle cx="413.27" cy="525.89" r="1.2" fill="#25a5dc"/>
<rect x="417" y="517.38" width="4" height="15.32" fill="#fcc383" />
<circle cx="419" cy="513.64" r="1.2" fill="#f6921e"/>
<circle cx="419" cy="517.38" r="1.2" fill="#f6921e"/>
<circle cx="419" cy="522.49" r="1.2" fill="#f6921e"/>
<rect x="428.3" y="490.15" width="3.7" height="42.55" fill="#93d3ee" />
<circle cx="430.15" cy="468.7" r="1.2" fill="#25a5dc"/>
<circle cx="430.15" cy="485.72" r="1.2" fill="#25a5dc"/>
<circle cx="430.15" cy="512.96" r="1.2" fill="#25a5dc"/>
<rect x="434" y="515.68" width="4.4" height="17.02" fill="#fcc383" />
<circle cx="436.2" cy="503.43" r="1.2" fill="#f6921e"/>
<circle cx="436.2" cy="515.68" r="1.2" fill="#f6921e"/>
<circle cx="436.2" cy="522.49" r="1.2" fill="#f6921e"/>
<rect x="445.6" y="485.04" width="4.3" height="47.66" fill="#93d3ee" />
<circle cx="447.75" cy="454.41" r="1.2" fill="#25a5dc"/>
<circle cx="447.75" cy="493.55" r="1.2" fill="#25a5dc"/>
<circle cx="447.75" cy="496.96" r="1.2" fill="#25a5dc"/>
<rect x="451.6" y="506.49" width="4.1" height="26.21" fill="#fcc383" />
<circle cx="453.65" cy="503.77" r="1.2" fill="#f6921e"/>
<circle cx="453.65" cy="507.17" r="1.2" fill="#f6921e"/>
<circle cx="453.65" cy="511.25" r="1.2" fill="#f6921e"/>
<circle cx="453.65" cy="512.96" r="1.2" fill="#f6921e"/>
<rect x="462.9" y="495.94" width="3.7" height="36.76" fill="#93d3ee" />
<circle cx="464.75" cy="474.83" r="1.2" fill="#25a5dc"/>
<circle cx="464.75" cy="496.96" r="1.2" fill="#25a5dc"/>
<circle cx="464.75" cy="513.64" r="1.2" fill="#25a5dc"/>
<rect x="469" y="501.38" width="4" height="31.32" fill="#fcc383" />
<circle cx="471" cy="489.13" r="1.2" fill="#f6921e"/>
<circle cx="470.4" cy="489.47" r="1.2" fill="#f6921e"/>
<circle cx="471" cy="525.89" r="1.2" fill="#f6921e"/>
<line x1="407.5" y1="532.7" x2="474.4" y2="532.7" stroke="#231f20" stroke-width="1.15" />
<line x1="416.5" y1="532.7" x2="416.5" y2="535.5" stroke="#231f20" stroke-width="1.0" />
<line x1="433.5" y1="532.7" x2="433.5" y2="535.5" stroke="#231f20" stroke-width="1.0" />
<line x1="450.5" y1="532.7" x2="450.5" y2="535.5" stroke="#231f20" stroke-width="1.0" />
<line x1="468.5" y1="532.7" x2="468.5" y2="535.5" stroke="#231f20" stroke-width="1.0" />
<text x="415.6" y="544.15" font-size="6" text-anchor="middle" fill="#231f20" font-weight="normal" stroke="#231f20" stroke-width="0.12" >Naive</text>
<text x="432.9" y="544.15" font-size="6" text-anchor="middle" fill="#231f20" font-weight="normal" stroke="#231f20" stroke-width="0.12" >CM</text>
<text x="450.2" y="544.15" font-size="6" text-anchor="middle" fill="#231f20" font-weight="normal" stroke="#231f20" stroke-width="0.12" >EM</text>
<text x="467.5" y="544.15" font-size="6" text-anchor="middle" fill="#231f20" font-weight="normal" stroke="#231f20" stroke-width="0.12" >EMRA</text>
<text x="386.7" y="491.75" font-size="7.4" text-anchor="middle" fill="#231f20" font-weight="normal" stroke="#231f20" stroke-width="0.3" transform="rotate(-90 386.7 489.1)" textLength="25.6" lengthAdjust="spacingAndGlyphs" >% IFN-γ+</text>
<rect x="0.5" y="0.5" width="519" height="550" fill="none" stroke="#505050" stroke-width="1"/>
</svg>
</body></html>
